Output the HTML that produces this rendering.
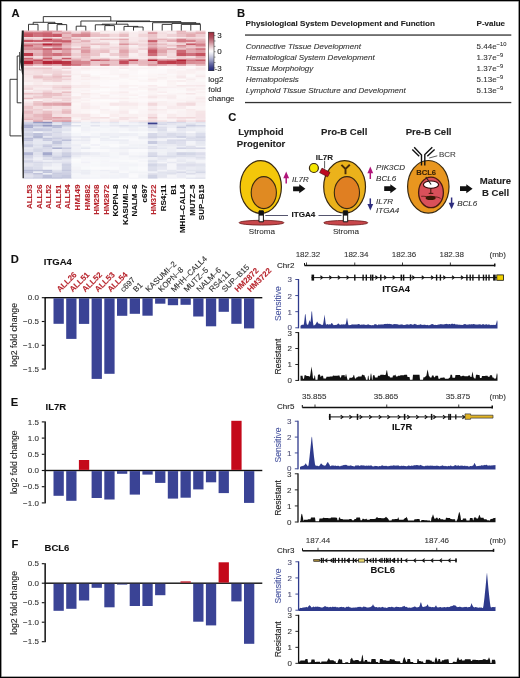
<!DOCTYPE html>
<html><head><meta charset="utf-8"><style>
html,body{margin:0;padding:0;background:#fff;}
body{width:520px;height:678px;overflow:hidden;position:relative;}
svg{position:absolute;left:0;top:0;display:block;will-change:transform;filter:blur(0.35px);}
#frame{position:absolute;left:0;top:0;width:520px;height:678px;box-sizing:border-box;border:1px solid #000;box-shadow:inset 0 0 0 0.6px #555;}
</style></head><body>
<svg width="520" height="678" viewBox="0 0 520 678" font-family='"Liberation Sans", sans-serif'>
<defs><filter id="hb" x="-2%" y="-2%" width="104%" height="104%"><feGaussianBlur stdDeviation="0.45"/></filter></defs>
<rect x="0" y="0" width="520" height="678" fill="#fff"/>
<text x="11.4" y="16.9" font-size="11.2" font-weight="bold" fill="#111" stroke="#111" stroke-width="0.1">A</text>
<g filter="url(#hb)">
<rect x="23.6" y="30.6" width="9.86" height="1.9" fill="#e3adb3"/>
<rect x="33.16" y="30.6" width="9.86" height="1.9" fill="#e5b1b7"/>
<rect x="42.72" y="30.6" width="9.86" height="1.9" fill="#dc969e"/>
<rect x="52.27" y="30.6" width="9.86" height="1.9" fill="#e0a3ab"/>
<rect x="61.83" y="30.6" width="9.86" height="1.9" fill="#edcbcf"/>
<rect x="71.39" y="30.6" width="9.86" height="1.9" fill="#f4dfe2"/>
<rect x="80.95" y="30.6" width="9.86" height="1.9" fill="#edcbcf"/>
<rect x="90.51" y="30.6" width="9.86" height="1.9" fill="#fbf5f6"/>
<rect x="100.06" y="30.6" width="9.86" height="1.9" fill="#f8eaec"/>
<rect x="109.62" y="30.6" width="9.86" height="1.9" fill="#faf2f3"/>
<rect x="119.18" y="30.6" width="9.86" height="1.9" fill="#f8ebed"/>
<rect x="128.74" y="30.6" width="9.86" height="1.9" fill="#fcf6f7"/>
<rect x="138.29" y="30.6" width="9.86" height="1.9" fill="#f7e8ea"/>
<rect x="147.85" y="30.6" width="9.86" height="1.9" fill="#f4dee0"/>
<rect x="157.41" y="30.6" width="9.86" height="1.9" fill="#f8eaec"/>
<rect x="166.97" y="30.6" width="9.86" height="1.9" fill="#f5e2e4"/>
<rect x="176.53" y="30.6" width="9.86" height="1.9" fill="#e7b7bd"/>
<rect x="186.08" y="30.6" width="9.86" height="1.9" fill="#f6e6e8"/>
<rect x="195.64" y="30.6" width="9.86" height="1.9" fill="#eeced2"/>
<rect x="23.6" y="32.2" width="9.86" height="1.9" fill="#cb6471"/>
<rect x="33.16" y="32.2" width="9.86" height="1.9" fill="#ce6c78"/>
<rect x="42.72" y="32.2" width="9.86" height="1.9" fill="#cc6773"/>
<rect x="52.27" y="32.2" width="9.86" height="1.9" fill="#e5b1b7"/>
<rect x="61.83" y="32.2" width="9.86" height="1.9" fill="#dd9ba3"/>
<rect x="71.39" y="32.2" width="9.86" height="1.9" fill="#eeced2"/>
<rect x="80.95" y="32.2" width="9.86" height="1.9" fill="#dd9aa2"/>
<rect x="90.51" y="32.2" width="9.86" height="1.9" fill="#edcace"/>
<rect x="100.06" y="32.2" width="9.86" height="1.9" fill="#f8ebec"/>
<rect x="109.62" y="32.2" width="9.86" height="1.9" fill="#f8eaec"/>
<rect x="119.18" y="32.2" width="9.86" height="1.9" fill="#f1d7da"/>
<rect x="128.74" y="32.2" width="9.86" height="1.9" fill="#f8eced"/>
<rect x="138.29" y="32.2" width="9.86" height="1.9" fill="#f6e4e6"/>
<rect x="147.85" y="32.2" width="9.86" height="1.9" fill="#db959e"/>
<rect x="157.41" y="32.2" width="9.86" height="1.9" fill="#f3dcdf"/>
<rect x="166.97" y="32.2" width="9.86" height="1.9" fill="#f7e9eb"/>
<rect x="176.53" y="32.2" width="9.86" height="1.9" fill="#e7b7bd"/>
<rect x="186.08" y="32.2" width="9.86" height="1.9" fill="#e8bcc1"/>
<rect x="195.64" y="32.2" width="9.86" height="1.9" fill="#e1a6ad"/>
<rect x="23.6" y="33.8" width="9.86" height="3.5" fill="#c65462"/>
<rect x="33.16" y="33.8" width="9.86" height="3.5" fill="#cf717d"/>
<rect x="42.72" y="33.8" width="9.86" height="3.5" fill="#ca606d"/>
<rect x="52.27" y="33.8" width="9.86" height="3.5" fill="#c75765"/>
<rect x="61.83" y="33.8" width="9.86" height="3.5" fill="#e8bbc0"/>
<rect x="71.39" y="33.8" width="9.86" height="3.5" fill="#d98e97"/>
<rect x="80.95" y="33.8" width="9.86" height="3.5" fill="#d68690"/>
<rect x="90.51" y="33.8" width="9.86" height="3.5" fill="#e9bec4"/>
<rect x="100.06" y="33.8" width="9.86" height="3.5" fill="#eac2c7"/>
<rect x="109.62" y="33.8" width="9.86" height="3.5" fill="#f2d8db"/>
<rect x="119.18" y="33.8" width="9.86" height="3.5" fill="#e8bcc1"/>
<rect x="128.74" y="33.8" width="9.86" height="3.5" fill="#f8eced"/>
<rect x="138.29" y="33.8" width="9.86" height="3.5" fill="#f1d5d8"/>
<rect x="147.85" y="33.8" width="9.86" height="3.5" fill="#ebc3c8"/>
<rect x="157.41" y="33.8" width="9.86" height="3.5" fill="#f5e1e3"/>
<rect x="166.97" y="33.8" width="9.86" height="3.5" fill="#efd1d5"/>
<rect x="176.53" y="33.8" width="9.86" height="3.5" fill="#eac1c6"/>
<rect x="186.08" y="33.8" width="9.86" height="3.5" fill="#e3abb1"/>
<rect x="195.64" y="33.8" width="9.86" height="3.5" fill="#eeccd1"/>
<rect x="23.6" y="37" width="9.86" height="1.9" fill="#f3dbde"/>
<rect x="33.16" y="37" width="9.86" height="1.9" fill="#f4dfe1"/>
<rect x="42.72" y="37" width="9.86" height="1.9" fill="#edcbd0"/>
<rect x="52.27" y="37" width="9.86" height="1.9" fill="#f6e4e6"/>
<rect x="61.83" y="37" width="9.86" height="1.9" fill="#e0a2a9"/>
<rect x="71.39" y="37" width="9.86" height="1.9" fill="#f2d8db"/>
<rect x="80.95" y="37" width="9.86" height="1.9" fill="#f7e8e9"/>
<rect x="90.51" y="37" width="9.86" height="1.9" fill="#faf1f2"/>
<rect x="100.06" y="37" width="9.86" height="1.9" fill="#f9eff0"/>
<rect x="109.62" y="37" width="9.86" height="1.9" fill="#f9eef0"/>
<rect x="119.18" y="37" width="9.86" height="1.9" fill="#f8ecee"/>
<rect x="128.74" y="37" width="9.86" height="1.9" fill="#f7e8ea"/>
<rect x="138.29" y="37" width="9.86" height="1.9" fill="#f6e5e7"/>
<rect x="147.85" y="37" width="9.86" height="1.9" fill="#edcace"/>
<rect x="157.41" y="37" width="9.86" height="1.9" fill="#f6e4e6"/>
<rect x="166.97" y="37" width="9.86" height="1.9" fill="#f9eff0"/>
<rect x="176.53" y="37" width="9.86" height="1.9" fill="#f7e7e9"/>
<rect x="186.08" y="37" width="9.86" height="1.9" fill="#f2d9dc"/>
<rect x="195.64" y="37" width="9.86" height="1.9" fill="#f3dcdf"/>
<rect x="23.6" y="38.6" width="9.86" height="1.9" fill="#e5b2b9"/>
<rect x="33.16" y="38.6" width="9.86" height="1.9" fill="#ecc8cc"/>
<rect x="42.72" y="38.6" width="9.86" height="1.9" fill="#bd3949"/>
<rect x="52.27" y="38.6" width="9.86" height="1.9" fill="#d27a85"/>
<rect x="61.83" y="38.6" width="9.86" height="1.9" fill="#e5b1b7"/>
<rect x="71.39" y="38.6" width="9.86" height="1.9" fill="#e6b4ba"/>
<rect x="80.95" y="38.6" width="9.86" height="1.9" fill="#f2dadd"/>
<rect x="90.51" y="38.6" width="9.86" height="1.9" fill="#f0d4d8"/>
<rect x="100.06" y="38.6" width="9.86" height="1.9" fill="#e9bec3"/>
<rect x="109.62" y="38.6" width="9.86" height="1.9" fill="#ebc4c8"/>
<rect x="119.18" y="38.6" width="9.86" height="1.9" fill="#e1a7ae"/>
<rect x="128.74" y="38.6" width="9.86" height="1.9" fill="#f7e7e9"/>
<rect x="138.29" y="38.6" width="9.86" height="1.9" fill="#f5e2e5"/>
<rect x="147.85" y="38.6" width="9.86" height="1.9" fill="#e7b9bf"/>
<rect x="157.41" y="38.6" width="9.86" height="1.9" fill="#e5b2b8"/>
<rect x="166.97" y="38.6" width="9.86" height="1.9" fill="#e8bcc1"/>
<rect x="176.53" y="38.6" width="9.86" height="1.9" fill="#d47e89"/>
<rect x="186.08" y="38.6" width="9.86" height="1.9" fill="#e5b2b8"/>
<rect x="195.64" y="38.6" width="9.86" height="1.9" fill="#e8bcc1"/>
<rect x="23.6" y="40.2" width="9.86" height="1.9" fill="#bc3646"/>
<rect x="33.16" y="40.2" width="9.86" height="1.9" fill="#c24a59"/>
<rect x="42.72" y="40.2" width="9.86" height="1.9" fill="#c5515f"/>
<rect x="52.27" y="40.2" width="9.86" height="1.9" fill="#c44f5d"/>
<rect x="61.83" y="40.2" width="9.86" height="1.9" fill="#c55361"/>
<rect x="71.39" y="40.2" width="9.86" height="1.9" fill="#efd0d3"/>
<rect x="80.95" y="40.2" width="9.86" height="1.9" fill="#e2aab1"/>
<rect x="90.51" y="40.2" width="9.86" height="1.9" fill="#f3dde0"/>
<rect x="100.06" y="40.2" width="9.86" height="1.9" fill="#f9edee"/>
<rect x="109.62" y="40.2" width="9.86" height="1.9" fill="#f9edee"/>
<rect x="119.18" y="40.2" width="9.86" height="1.9" fill="#edcbcf"/>
<rect x="128.74" y="40.2" width="9.86" height="1.9" fill="#f7e7e9"/>
<rect x="138.29" y="40.2" width="9.86" height="1.9" fill="#f1d6d9"/>
<rect x="147.85" y="40.2" width="9.86" height="1.9" fill="#c44e5c"/>
<rect x="157.41" y="40.2" width="9.86" height="1.9" fill="#edc9cd"/>
<rect x="166.97" y="40.2" width="9.86" height="1.9" fill="#de9ea6"/>
<rect x="176.53" y="40.2" width="9.86" height="1.9" fill="#cc6874"/>
<rect x="186.08" y="40.2" width="9.86" height="1.9" fill="#cd6b77"/>
<rect x="195.64" y="40.2" width="9.86" height="1.9" fill="#e3acb2"/>
<rect x="23.6" y="41.8" width="9.86" height="1.9" fill="#edc9ce"/>
<rect x="33.16" y="41.8" width="9.86" height="1.9" fill="#eeccd0"/>
<rect x="42.72" y="41.8" width="9.86" height="1.9" fill="#eeccd0"/>
<rect x="52.27" y="41.8" width="9.86" height="1.9" fill="#e0a4ab"/>
<rect x="61.83" y="41.8" width="9.86" height="1.9" fill="#d6848e"/>
<rect x="71.39" y="41.8" width="9.86" height="1.9" fill="#eac1c6"/>
<rect x="80.95" y="41.8" width="9.86" height="1.9" fill="#eeccd1"/>
<rect x="90.51" y="41.8" width="9.86" height="1.9" fill="#f5e1e3"/>
<rect x="100.06" y="41.8" width="9.86" height="1.9" fill="#f3dcdf"/>
<rect x="109.62" y="41.8" width="9.86" height="1.9" fill="#faf2f3"/>
<rect x="119.18" y="41.8" width="9.86" height="1.9" fill="#edcbcf"/>
<rect x="128.74" y="41.8" width="9.86" height="1.9" fill="#f4e0e2"/>
<rect x="138.29" y="41.8" width="9.86" height="1.9" fill="#f5e3e5"/>
<rect x="147.85" y="41.8" width="9.86" height="1.9" fill="#e0a2aa"/>
<rect x="157.41" y="41.8" width="9.86" height="1.9" fill="#f3dcdf"/>
<rect x="166.97" y="41.8" width="9.86" height="1.9" fill="#f6e6e8"/>
<rect x="176.53" y="41.8" width="9.86" height="1.9" fill="#e4afb5"/>
<rect x="186.08" y="41.8" width="9.86" height="1.9" fill="#efcfd3"/>
<rect x="195.64" y="41.8" width="9.86" height="1.9" fill="#e3abb2"/>
<rect x="23.6" y="43.4" width="9.86" height="1.9" fill="#d6848e"/>
<rect x="33.16" y="43.4" width="9.86" height="1.9" fill="#d5838d"/>
<rect x="42.72" y="43.4" width="9.86" height="1.9" fill="#b72739"/>
<rect x="52.27" y="43.4" width="9.86" height="1.9" fill="#c34d5b"/>
<rect x="61.83" y="43.4" width="9.86" height="1.9" fill="#e1a6ad"/>
<rect x="71.39" y="43.4" width="9.86" height="1.9" fill="#f0d4d7"/>
<rect x="80.95" y="43.4" width="9.86" height="1.9" fill="#edcace"/>
<rect x="90.51" y="43.4" width="9.86" height="1.9" fill="#e8bcc1"/>
<rect x="100.06" y="43.4" width="9.86" height="1.9" fill="#eac1c6"/>
<rect x="109.62" y="43.4" width="9.86" height="1.9" fill="#f6e5e7"/>
<rect x="119.18" y="43.4" width="9.86" height="1.9" fill="#db939c"/>
<rect x="128.74" y="43.4" width="9.86" height="1.9" fill="#ebc5ca"/>
<rect x="138.29" y="43.4" width="9.86" height="1.9" fill="#f0d3d7"/>
<rect x="147.85" y="43.4" width="9.86" height="1.9" fill="#dc97a0"/>
<rect x="157.41" y="43.4" width="9.86" height="1.9" fill="#e8bcc1"/>
<rect x="166.97" y="43.4" width="9.86" height="1.9" fill="#f1d7db"/>
<rect x="176.53" y="43.4" width="9.86" height="1.9" fill="#f0d3d6"/>
<rect x="186.08" y="43.4" width="9.86" height="1.9" fill="#c85a68"/>
<rect x="195.64" y="43.4" width="9.86" height="1.9" fill="#d47e88"/>
<rect x="23.6" y="45" width="9.86" height="1.9" fill="#ca616e"/>
<rect x="33.16" y="45" width="9.86" height="1.9" fill="#df9fa7"/>
<rect x="42.72" y="45" width="9.86" height="1.9" fill="#cc6875"/>
<rect x="52.27" y="45" width="9.86" height="1.9" fill="#ce6e7a"/>
<rect x="61.83" y="45" width="9.86" height="1.9" fill="#e7b7bd"/>
<rect x="71.39" y="45" width="9.86" height="1.9" fill="#f1d6da"/>
<rect x="80.95" y="45" width="9.86" height="1.9" fill="#eeccd0"/>
<rect x="90.51" y="45" width="9.86" height="1.9" fill="#f7e8ea"/>
<rect x="100.06" y="45" width="9.86" height="1.9" fill="#f2dadd"/>
<rect x="109.62" y="45" width="9.86" height="1.9" fill="#f7e7e9"/>
<rect x="119.18" y="45" width="9.86" height="1.9" fill="#edcbcf"/>
<rect x="128.74" y="45" width="9.86" height="1.9" fill="#f9eff1"/>
<rect x="138.29" y="45" width="9.86" height="1.9" fill="#f1d6da"/>
<rect x="147.85" y="45" width="9.86" height="1.9" fill="#e5b1b8"/>
<rect x="157.41" y="45" width="9.86" height="1.9" fill="#f0d2d6"/>
<rect x="166.97" y="45" width="9.86" height="1.9" fill="#ebc5ca"/>
<rect x="176.53" y="45" width="9.86" height="1.9" fill="#d88b94"/>
<rect x="186.08" y="45" width="9.86" height="1.9" fill="#e7b8be"/>
<rect x="195.64" y="45" width="9.86" height="1.9" fill="#d6858f"/>
<rect x="23.6" y="46.6" width="9.86" height="1.9" fill="#db959e"/>
<rect x="33.16" y="46.6" width="9.86" height="1.9" fill="#dc969e"/>
<rect x="42.72" y="46.6" width="9.86" height="1.9" fill="#f0d4d7"/>
<rect x="52.27" y="46.6" width="9.86" height="1.9" fill="#dfa0a8"/>
<rect x="61.83" y="46.6" width="9.86" height="1.9" fill="#e8bcc2"/>
<rect x="71.39" y="46.6" width="9.86" height="1.9" fill="#f7e8ea"/>
<rect x="80.95" y="46.6" width="9.86" height="1.9" fill="#e1a5ac"/>
<rect x="90.51" y="46.6" width="9.86" height="1.9" fill="#f8ebec"/>
<rect x="100.06" y="46.6" width="9.86" height="1.9" fill="#f4dfe2"/>
<rect x="109.62" y="46.6" width="9.86" height="1.9" fill="#f1d5d9"/>
<rect x="119.18" y="46.6" width="9.86" height="1.9" fill="#ebc3c8"/>
<rect x="128.74" y="46.6" width="9.86" height="1.9" fill="#f8eaeb"/>
<rect x="138.29" y="46.6" width="9.86" height="1.9" fill="#f5e3e6"/>
<rect x="147.85" y="46.6" width="9.86" height="1.9" fill="#de9da5"/>
<rect x="157.41" y="46.6" width="9.86" height="1.9" fill="#eac1c6"/>
<rect x="166.97" y="46.6" width="9.86" height="1.9" fill="#f6e4e6"/>
<rect x="176.53" y="46.6" width="9.86" height="1.9" fill="#e3adb3"/>
<rect x="186.08" y="46.6" width="9.86" height="1.9" fill="#edc9ce"/>
<rect x="195.64" y="46.6" width="9.86" height="1.9" fill="#ebc4c9"/>
<rect x="23.6" y="48.2" width="9.86" height="1.9" fill="#d5828c"/>
<rect x="33.16" y="48.2" width="9.86" height="1.9" fill="#d27a84"/>
<rect x="42.72" y="48.2" width="9.86" height="1.9" fill="#c85c69"/>
<rect x="52.27" y="48.2" width="9.86" height="1.9" fill="#c14555"/>
<rect x="61.83" y="48.2" width="9.86" height="1.9" fill="#d6858f"/>
<rect x="71.39" y="48.2" width="9.86" height="1.9" fill="#e5b1b8"/>
<rect x="80.95" y="48.2" width="9.86" height="1.9" fill="#e4aeb4"/>
<rect x="90.51" y="48.2" width="9.86" height="1.9" fill="#f1d6da"/>
<rect x="100.06" y="48.2" width="9.86" height="1.9" fill="#eeced2"/>
<rect x="109.62" y="48.2" width="9.86" height="1.9" fill="#f2d9dc"/>
<rect x="119.18" y="48.2" width="9.86" height="1.9" fill="#e7b8be"/>
<rect x="128.74" y="48.2" width="9.86" height="1.9" fill="#f4dfe2"/>
<rect x="138.29" y="48.2" width="9.86" height="1.9" fill="#eecdd1"/>
<rect x="147.85" y="48.2" width="9.86" height="1.9" fill="#d07480"/>
<rect x="157.41" y="48.2" width="9.86" height="1.9" fill="#e4aeb4"/>
<rect x="166.97" y="48.2" width="9.86" height="1.9" fill="#dfa0a8"/>
<rect x="176.53" y="48.2" width="9.86" height="1.9" fill="#e8bcc2"/>
<rect x="186.08" y="48.2" width="9.86" height="1.9" fill="#dd9ba3"/>
<rect x="195.64" y="48.2" width="9.86" height="1.9" fill="#cd6b77"/>
<rect x="23.6" y="49.8" width="9.86" height="3.5" fill="#e6b6bc"/>
<rect x="33.16" y="49.8" width="9.86" height="3.5" fill="#e7b8be"/>
<rect x="42.72" y="49.8" width="9.86" height="3.5" fill="#d68690"/>
<rect x="52.27" y="49.8" width="9.86" height="3.5" fill="#eac0c5"/>
<rect x="61.83" y="49.8" width="9.86" height="3.5" fill="#dfa1a9"/>
<rect x="71.39" y="49.8" width="9.86" height="3.5" fill="#f3dcdf"/>
<rect x="80.95" y="49.8" width="9.86" height="3.5" fill="#dd99a2"/>
<rect x="90.51" y="49.8" width="9.86" height="3.5" fill="#ecc7cc"/>
<rect x="100.06" y="49.8" width="9.86" height="3.5" fill="#eac1c6"/>
<rect x="109.62" y="49.8" width="9.86" height="3.5" fill="#f6e6e8"/>
<rect x="119.18" y="49.8" width="9.86" height="3.5" fill="#e1a5ac"/>
<rect x="128.74" y="49.8" width="9.86" height="3.5" fill="#f1d6da"/>
<rect x="138.29" y="49.8" width="9.86" height="3.5" fill="#f8ebed"/>
<rect x="147.85" y="49.8" width="9.86" height="3.5" fill="#c65563"/>
<rect x="157.41" y="49.8" width="9.86" height="3.5" fill="#e0a4ab"/>
<rect x="166.97" y="49.8" width="9.86" height="3.5" fill="#f0d4d7"/>
<rect x="176.53" y="49.8" width="9.86" height="3.5" fill="#cd6975"/>
<rect x="186.08" y="49.8" width="9.86" height="3.5" fill="#e2a9b0"/>
<rect x="195.64" y="49.8" width="9.86" height="3.5" fill="#dd9ba3"/>
<rect x="23.6" y="53" width="9.86" height="3.5" fill="#bd3949"/>
<rect x="33.16" y="53" width="9.86" height="3.5" fill="#e2aab1"/>
<rect x="42.72" y="53" width="9.86" height="3.5" fill="#d37d87"/>
<rect x="52.27" y="53" width="9.86" height="3.5" fill="#ce6e7a"/>
<rect x="61.83" y="53" width="9.86" height="3.5" fill="#d78790"/>
<rect x="71.39" y="53" width="9.86" height="3.5" fill="#eecdd1"/>
<rect x="80.95" y="53" width="9.86" height="3.5" fill="#e7b7bc"/>
<rect x="90.51" y="53" width="9.86" height="3.5" fill="#ebc5ca"/>
<rect x="100.06" y="53" width="9.86" height="3.5" fill="#f8ebed"/>
<rect x="109.62" y="53" width="9.86" height="3.5" fill="#eeced2"/>
<rect x="119.18" y="53" width="9.86" height="3.5" fill="#e6b6bc"/>
<rect x="128.74" y="53" width="9.86" height="3.5" fill="#f9eff0"/>
<rect x="138.29" y="53" width="9.86" height="3.5" fill="#f5e1e4"/>
<rect x="147.85" y="53" width="9.86" height="3.5" fill="#ce6c78"/>
<rect x="157.41" y="53" width="9.86" height="3.5" fill="#e9bec3"/>
<rect x="166.97" y="53" width="9.86" height="3.5" fill="#f3dde0"/>
<rect x="176.53" y="53" width="9.86" height="3.5" fill="#c75764"/>
<rect x="186.08" y="53" width="9.86" height="3.5" fill="#cf707b"/>
<rect x="195.64" y="53" width="9.86" height="3.5" fill="#c55260"/>
<rect x="23.6" y="56.2" width="9.86" height="1.9" fill="#eecdd1"/>
<rect x="33.16" y="56.2" width="9.86" height="1.9" fill="#f4dfe2"/>
<rect x="42.72" y="56.2" width="9.86" height="1.9" fill="#e0a2a9"/>
<rect x="52.27" y="56.2" width="9.86" height="1.9" fill="#eeccd0"/>
<rect x="61.83" y="56.2" width="9.86" height="1.9" fill="#f1d6d9"/>
<rect x="71.39" y="56.2" width="9.86" height="1.9" fill="#f3dcdf"/>
<rect x="80.95" y="56.2" width="9.86" height="1.9" fill="#e8bbc1"/>
<rect x="90.51" y="56.2" width="9.86" height="1.9" fill="#f4e0e2"/>
<rect x="100.06" y="56.2" width="9.86" height="1.9" fill="#f9eff0"/>
<rect x="109.62" y="56.2" width="9.86" height="1.9" fill="#faf2f3"/>
<rect x="119.18" y="56.2" width="9.86" height="1.9" fill="#ebc5ca"/>
<rect x="128.74" y="56.2" width="9.86" height="1.9" fill="#f8ebed"/>
<rect x="138.29" y="56.2" width="9.86" height="1.9" fill="#f7e8ea"/>
<rect x="147.85" y="56.2" width="9.86" height="1.9" fill="#f4dfe1"/>
<rect x="157.41" y="56.2" width="9.86" height="1.9" fill="#faf0f1"/>
<rect x="166.97" y="56.2" width="9.86" height="1.9" fill="#f0d4d7"/>
<rect x="176.53" y="56.2" width="9.86" height="1.9" fill="#efcfd3"/>
<rect x="186.08" y="56.2" width="9.86" height="1.9" fill="#f6e5e7"/>
<rect x="195.64" y="56.2" width="9.86" height="1.9" fill="#e3acb3"/>
<rect x="23.6" y="57.8" width="9.86" height="1.9" fill="#cb6572"/>
<rect x="33.16" y="57.8" width="9.86" height="1.9" fill="#ecc6cb"/>
<rect x="42.72" y="57.8" width="9.86" height="1.9" fill="#c95e6b"/>
<rect x="52.27" y="57.8" width="9.86" height="1.9" fill="#ecc8cd"/>
<rect x="61.83" y="57.8" width="9.86" height="1.9" fill="#c65563"/>
<rect x="71.39" y="57.8" width="9.86" height="1.9" fill="#ebc4c9"/>
<rect x="80.95" y="57.8" width="9.86" height="1.9" fill="#ebc3c8"/>
<rect x="90.51" y="57.8" width="9.86" height="1.9" fill="#f2d8db"/>
<rect x="100.06" y="57.8" width="9.86" height="1.9" fill="#ecc8cd"/>
<rect x="109.62" y="57.8" width="9.86" height="1.9" fill="#f6e5e7"/>
<rect x="119.18" y="57.8" width="9.86" height="1.9" fill="#f3dcdf"/>
<rect x="128.74" y="57.8" width="9.86" height="1.9" fill="#f4e0e3"/>
<rect x="138.29" y="57.8" width="9.86" height="1.9" fill="#f8eaec"/>
<rect x="147.85" y="57.8" width="9.86" height="1.9" fill="#edc9cd"/>
<rect x="157.41" y="57.8" width="9.86" height="1.9" fill="#f4e0e3"/>
<rect x="166.97" y="57.8" width="9.86" height="1.9" fill="#f6e5e7"/>
<rect x="176.53" y="57.8" width="9.86" height="1.9" fill="#ecc8cd"/>
<rect x="186.08" y="57.8" width="9.86" height="1.9" fill="#e9bdc2"/>
<rect x="195.64" y="57.8" width="9.86" height="1.9" fill="#e8bbc1"/>
<rect x="23.6" y="59.4" width="9.86" height="1.9" fill="#d27984"/>
<rect x="33.16" y="59.4" width="9.86" height="1.9" fill="#c34c5b"/>
<rect x="42.72" y="59.4" width="9.86" height="1.9" fill="#da919a"/>
<rect x="52.27" y="59.4" width="9.86" height="1.9" fill="#ce6d79"/>
<rect x="61.83" y="59.4" width="9.86" height="1.9" fill="#e5b2b8"/>
<rect x="71.39" y="59.4" width="9.86" height="1.9" fill="#dc98a0"/>
<rect x="80.95" y="59.4" width="9.86" height="1.9" fill="#e9bec4"/>
<rect x="90.51" y="59.4" width="9.86" height="1.9" fill="#c75866"/>
<rect x="100.06" y="59.4" width="9.86" height="1.9" fill="#d17580"/>
<rect x="109.62" y="59.4" width="9.86" height="1.9" fill="#e3adb4"/>
<rect x="119.18" y="59.4" width="9.86" height="1.9" fill="#cf717c"/>
<rect x="128.74" y="59.4" width="9.86" height="1.9" fill="#bf3f4f"/>
<rect x="138.29" y="59.4" width="9.86" height="1.9" fill="#e8bcc2"/>
<rect x="147.85" y="59.4" width="9.86" height="1.9" fill="#b52335"/>
<rect x="157.41" y="59.4" width="9.86" height="1.9" fill="#d47f89"/>
<rect x="166.97" y="59.4" width="9.86" height="1.9" fill="#cf717c"/>
<rect x="176.53" y="59.4" width="9.86" height="1.9" fill="#b52335"/>
<rect x="186.08" y="59.4" width="9.86" height="1.9" fill="#d0727e"/>
<rect x="195.64" y="59.4" width="9.86" height="1.9" fill="#c85a68"/>
<rect x="23.6" y="61" width="9.86" height="3.5" fill="#b52335"/>
<rect x="33.16" y="61" width="9.86" height="3.5" fill="#d17580"/>
<rect x="42.72" y="61" width="9.86" height="3.5" fill="#b52335"/>
<rect x="52.27" y="61" width="9.86" height="3.5" fill="#b82a3c"/>
<rect x="61.83" y="61" width="9.86" height="3.5" fill="#bb3545"/>
<rect x="71.39" y="61" width="9.86" height="3.5" fill="#d5838d"/>
<rect x="80.95" y="61" width="9.86" height="3.5" fill="#d78791"/>
<rect x="90.51" y="61" width="9.86" height="3.5" fill="#ebc5ca"/>
<rect x="100.06" y="61" width="9.86" height="3.5" fill="#e8babf"/>
<rect x="109.62" y="61" width="9.86" height="3.5" fill="#eac2c7"/>
<rect x="119.18" y="61" width="9.86" height="3.5" fill="#c34b5a"/>
<rect x="128.74" y="61" width="9.86" height="3.5" fill="#e2aab1"/>
<rect x="138.29" y="61" width="9.86" height="3.5" fill="#e7b7bd"/>
<rect x="147.85" y="61" width="9.86" height="3.5" fill="#e3adb3"/>
<rect x="157.41" y="61" width="9.86" height="3.5" fill="#c04453"/>
<rect x="166.97" y="61" width="9.86" height="3.5" fill="#bd3a4a"/>
<rect x="176.53" y="61" width="9.86" height="3.5" fill="#c14655"/>
<rect x="186.08" y="61" width="9.86" height="3.5" fill="#d98e97"/>
<rect x="195.64" y="61" width="9.86" height="3.5" fill="#db939c"/>
<rect x="23.6" y="64.2" width="9.86" height="1.9" fill="#d78993"/>
<rect x="33.16" y="64.2" width="9.86" height="1.9" fill="#e6b6bc"/>
<rect x="42.72" y="64.2" width="9.86" height="1.9" fill="#d88b95"/>
<rect x="52.27" y="64.2" width="9.86" height="1.9" fill="#e1a6ad"/>
<rect x="61.83" y="64.2" width="9.86" height="1.9" fill="#bd3b4b"/>
<rect x="71.39" y="64.2" width="9.86" height="1.9" fill="#ca606d"/>
<rect x="80.95" y="64.2" width="9.86" height="1.9" fill="#d98e98"/>
<rect x="90.51" y="64.2" width="9.86" height="1.9" fill="#eac0c5"/>
<rect x="100.06" y="64.2" width="9.86" height="1.9" fill="#d0737e"/>
<rect x="109.62" y="64.2" width="9.86" height="1.9" fill="#e7b9bf"/>
<rect x="119.18" y="64.2" width="9.86" height="1.9" fill="#e3abb2"/>
<rect x="128.74" y="64.2" width="9.86" height="1.9" fill="#f3dcdf"/>
<rect x="138.29" y="64.2" width="9.86" height="1.9" fill="#e6b4ba"/>
<rect x="147.85" y="64.2" width="9.86" height="1.9" fill="#d88c95"/>
<rect x="157.41" y="64.2" width="9.86" height="1.9" fill="#de9ea6"/>
<rect x="166.97" y="64.2" width="9.86" height="1.9" fill="#e9bfc4"/>
<rect x="176.53" y="64.2" width="9.86" height="1.9" fill="#d98f98"/>
<rect x="186.08" y="64.2" width="9.86" height="1.9" fill="#efd1d5"/>
<rect x="195.64" y="64.2" width="9.86" height="1.9" fill="#e4aeb4"/>
<rect x="23.6" y="65.8" width="9.86" height="1.9" fill="#f8ebed"/>
<rect x="33.16" y="65.8" width="9.86" height="1.9" fill="#fbf5f6"/>
<rect x="42.72" y="65.8" width="9.86" height="1.9" fill="#fbf5f6"/>
<rect x="52.27" y="65.8" width="9.86" height="1.9" fill="#f9eeef"/>
<rect x="61.83" y="65.8" width="9.86" height="1.9" fill="#f9eff1"/>
<rect x="71.39" y="65.8" width="9.86" height="1.9" fill="#fcf7f8"/>
<rect x="80.95" y="65.8" width="9.86" height="1.9" fill="#fcf7f8"/>
<rect x="90.51" y="65.8" width="9.86" height="1.9" fill="#fcf8f9"/>
<rect x="100.06" y="65.8" width="9.86" height="1.9" fill="#fdf9f9"/>
<rect x="109.62" y="65.8" width="9.86" height="1.9" fill="#fcf8f9"/>
<rect x="119.18" y="65.8" width="9.86" height="1.9" fill="#fbf5f6"/>
<rect x="128.74" y="65.8" width="9.86" height="1.9" fill="#fdfbfb"/>
<rect x="138.29" y="65.8" width="9.86" height="1.9" fill="#fdfbfb"/>
<rect x="147.85" y="65.8" width="9.86" height="1.9" fill="#faf0f1"/>
<rect x="157.41" y="65.8" width="9.86" height="1.9" fill="#fdfbfb"/>
<rect x="166.97" y="65.8" width="9.86" height="1.9" fill="#fcf7f7"/>
<rect x="176.53" y="65.8" width="9.86" height="1.9" fill="#fbf5f6"/>
<rect x="186.08" y="65.8" width="9.86" height="1.9" fill="#fdfbfb"/>
<rect x="195.64" y="65.8" width="9.86" height="1.9" fill="#fbf3f4"/>
<rect x="23.6" y="67.4" width="9.86" height="1.9" fill="#eeced2"/>
<rect x="33.16" y="67.4" width="9.86" height="1.9" fill="#ecc8cd"/>
<rect x="42.72" y="67.4" width="9.86" height="1.9" fill="#ebc4c9"/>
<rect x="52.27" y="67.4" width="9.86" height="1.9" fill="#f6e6e8"/>
<rect x="61.83" y="67.4" width="9.86" height="1.9" fill="#efd1d5"/>
<rect x="71.39" y="67.4" width="9.86" height="1.9" fill="#faf2f3"/>
<rect x="80.95" y="67.4" width="9.86" height="1.9" fill="#f8eaec"/>
<rect x="90.51" y="67.4" width="9.86" height="1.9" fill="#faf1f2"/>
<rect x="100.06" y="67.4" width="9.86" height="1.9" fill="#faf1f2"/>
<rect x="109.62" y="67.4" width="9.86" height="1.9" fill="#fbf4f5"/>
<rect x="119.18" y="67.4" width="9.86" height="1.9" fill="#f8ebed"/>
<rect x="128.74" y="67.4" width="9.86" height="1.9" fill="#fbf4f4"/>
<rect x="138.29" y="67.4" width="9.86" height="1.9" fill="#fbf3f4"/>
<rect x="147.85" y="67.4" width="9.86" height="1.9" fill="#fbf3f4"/>
<rect x="157.41" y="67.4" width="9.86" height="1.9" fill="#fdf9fa"/>
<rect x="166.97" y="67.4" width="9.86" height="1.9" fill="#fcf8f8"/>
<rect x="176.53" y="67.4" width="9.86" height="1.9" fill="#faf1f3"/>
<rect x="186.08" y="67.4" width="9.86" height="1.9" fill="#fcf6f7"/>
<rect x="195.64" y="67.4" width="9.86" height="1.9" fill="#f7e8ea"/>
<rect x="23.6" y="69" width="9.86" height="1.9" fill="#f1d7db"/>
<rect x="33.16" y="69" width="9.86" height="1.9" fill="#f2d8db"/>
<rect x="42.72" y="69" width="9.86" height="1.9" fill="#f1d5d9"/>
<rect x="52.27" y="69" width="9.86" height="1.9" fill="#f3dde0"/>
<rect x="61.83" y="69" width="9.86" height="1.9" fill="#faf0f2"/>
<rect x="71.39" y="69" width="9.86" height="1.9" fill="#faf1f2"/>
<rect x="80.95" y="69" width="9.86" height="1.9" fill="#faf0f1"/>
<rect x="90.51" y="69" width="9.86" height="1.9" fill="#fcf7f7"/>
<rect x="100.06" y="69" width="9.86" height="1.9" fill="#fcf6f7"/>
<rect x="109.62" y="69" width="9.86" height="1.9" fill="#fbf5f6"/>
<rect x="119.18" y="69" width="9.86" height="1.9" fill="#fdfafa"/>
<rect x="128.74" y="69" width="9.86" height="1.9" fill="#fbf5f6"/>
<rect x="138.29" y="69" width="9.86" height="1.9" fill="#fdf9fa"/>
<rect x="147.85" y="69" width="9.86" height="1.9" fill="#fcf8f8"/>
<rect x="157.41" y="69" width="9.86" height="1.9" fill="#fcf8f8"/>
<rect x="166.97" y="69" width="9.86" height="1.9" fill="#faf2f3"/>
<rect x="176.53" y="69" width="9.86" height="1.9" fill="#fcf6f7"/>
<rect x="186.08" y="69" width="9.86" height="1.9" fill="#f9eef0"/>
<rect x="195.64" y="69" width="9.86" height="1.9" fill="#f8eaec"/>
<rect x="23.6" y="70.6" width="9.86" height="3.5" fill="#f5e3e5"/>
<rect x="33.16" y="70.6" width="9.86" height="3.5" fill="#f4dfe2"/>
<rect x="42.72" y="70.6" width="9.86" height="3.5" fill="#f1d7da"/>
<rect x="52.27" y="70.6" width="9.86" height="3.5" fill="#f0d4d8"/>
<rect x="61.83" y="70.6" width="9.86" height="3.5" fill="#f2d9dc"/>
<rect x="71.39" y="70.6" width="9.86" height="3.5" fill="#fbf3f4"/>
<rect x="80.95" y="70.6" width="9.86" height="3.5" fill="#fdf9fa"/>
<rect x="90.51" y="70.6" width="9.86" height="3.5" fill="#fdfafb"/>
<rect x="100.06" y="70.6" width="9.86" height="3.5" fill="#fdf9fa"/>
<rect x="109.62" y="70.6" width="9.86" height="3.5" fill="#fbf5f6"/>
<rect x="119.18" y="70.6" width="9.86" height="3.5" fill="#fcf7f8"/>
<rect x="128.74" y="70.6" width="9.86" height="3.5" fill="#fcf7f8"/>
<rect x="138.29" y="70.6" width="9.86" height="3.5" fill="#fefcfc"/>
<rect x="147.85" y="70.6" width="9.86" height="3.5" fill="#fcf8f9"/>
<rect x="157.41" y="70.6" width="9.86" height="3.5" fill="#fcf8f9"/>
<rect x="166.97" y="70.6" width="9.86" height="3.5" fill="#fbf3f4"/>
<rect x="176.53" y="70.6" width="9.86" height="3.5" fill="#faf0f1"/>
<rect x="186.08" y="70.6" width="9.86" height="3.5" fill="#faf0f1"/>
<rect x="195.64" y="70.6" width="9.86" height="3.5" fill="#fbf5f6"/>
<rect x="23.6" y="73.8" width="9.86" height="1.9" fill="#f4dfe2"/>
<rect x="33.16" y="73.8" width="9.86" height="1.9" fill="#f4dfe2"/>
<rect x="42.72" y="73.8" width="9.86" height="1.9" fill="#f9edee"/>
<rect x="52.27" y="73.8" width="9.86" height="1.9" fill="#eeced2"/>
<rect x="61.83" y="73.8" width="9.86" height="1.9" fill="#f7e9eb"/>
<rect x="71.39" y="73.8" width="9.86" height="1.9" fill="#f9eff0"/>
<rect x="80.95" y="73.8" width="9.86" height="1.9" fill="#f9eeef"/>
<rect x="90.51" y="73.8" width="9.86" height="1.9" fill="#fdfbfc"/>
<rect x="100.06" y="73.8" width="9.86" height="1.9" fill="#fcf7f8"/>
<rect x="109.62" y="73.8" width="9.86" height="1.9" fill="#fbf4f5"/>
<rect x="119.18" y="73.8" width="9.86" height="1.9" fill="#f9eff0"/>
<rect x="128.74" y="73.8" width="9.86" height="1.9" fill="#fcf8f9"/>
<rect x="138.29" y="73.8" width="9.86" height="1.9" fill="#fdfafa"/>
<rect x="147.85" y="73.8" width="9.86" height="1.9" fill="#fcf6f6"/>
<rect x="157.41" y="73.8" width="9.86" height="1.9" fill="#faf1f2"/>
<rect x="166.97" y="73.8" width="9.86" height="1.9" fill="#fcf8f9"/>
<rect x="176.53" y="73.8" width="9.86" height="1.9" fill="#faf1f2"/>
<rect x="186.08" y="73.8" width="9.86" height="1.9" fill="#fcf8f8"/>
<rect x="195.64" y="73.8" width="9.86" height="1.9" fill="#faf2f3"/>
<rect x="23.6" y="75.4" width="9.86" height="1.9" fill="#f6e6e8"/>
<rect x="33.16" y="75.4" width="9.86" height="1.9" fill="#eac2c7"/>
<rect x="42.72" y="75.4" width="9.86" height="1.9" fill="#f0d2d6"/>
<rect x="52.27" y="75.4" width="9.86" height="1.9" fill="#e9bec3"/>
<rect x="61.83" y="75.4" width="9.86" height="1.9" fill="#ecc6cb"/>
<rect x="71.39" y="75.4" width="9.86" height="1.9" fill="#fbf5f6"/>
<rect x="80.95" y="75.4" width="9.86" height="1.9" fill="#f7e9ea"/>
<rect x="90.51" y="75.4" width="9.86" height="1.9" fill="#fbf5f5"/>
<rect x="100.06" y="75.4" width="9.86" height="1.9" fill="#fdfafa"/>
<rect x="109.62" y="75.4" width="9.86" height="1.9" fill="#fdfafb"/>
<rect x="119.18" y="75.4" width="9.86" height="1.9" fill="#faf1f2"/>
<rect x="128.74" y="75.4" width="9.86" height="1.9" fill="#fcf6f6"/>
<rect x="138.29" y="75.4" width="9.86" height="1.9" fill="#fcf7f8"/>
<rect x="147.85" y="75.4" width="9.86" height="1.9" fill="#fbf4f5"/>
<rect x="157.41" y="75.4" width="9.86" height="1.9" fill="#fbf5f6"/>
<rect x="166.97" y="75.4" width="9.86" height="1.9" fill="#fbf5f5"/>
<rect x="176.53" y="75.4" width="9.86" height="1.9" fill="#f7e8ea"/>
<rect x="186.08" y="75.4" width="9.86" height="1.9" fill="#fcf8f9"/>
<rect x="195.64" y="75.4" width="9.86" height="1.9" fill="#f7e9eb"/>
<rect x="23.6" y="77" width="9.86" height="1.9" fill="#f7e8ea"/>
<rect x="33.16" y="77" width="9.86" height="1.9" fill="#eac0c5"/>
<rect x="42.72" y="77" width="9.86" height="1.9" fill="#edcbcf"/>
<rect x="52.27" y="77" width="9.86" height="1.9" fill="#eac2c7"/>
<rect x="61.83" y="77" width="9.86" height="1.9" fill="#f4dfe1"/>
<rect x="71.39" y="77" width="9.86" height="1.9" fill="#fbf4f5"/>
<rect x="80.95" y="77" width="9.86" height="1.9" fill="#faf2f3"/>
<rect x="90.51" y="77" width="9.86" height="1.9" fill="#f9eff1"/>
<rect x="100.06" y="77" width="9.86" height="1.9" fill="#fbf4f5"/>
<rect x="109.62" y="77" width="9.86" height="1.9" fill="#fcf7f7"/>
<rect x="119.18" y="77" width="9.86" height="1.9" fill="#fbf3f4"/>
<rect x="128.74" y="77" width="9.86" height="1.9" fill="#fcf8f9"/>
<rect x="138.29" y="77" width="9.86" height="1.9" fill="#fdfbfb"/>
<rect x="147.85" y="77" width="9.86" height="1.9" fill="#fcf6f6"/>
<rect x="157.41" y="77" width="9.86" height="1.9" fill="#f9eff0"/>
<rect x="166.97" y="77" width="9.86" height="1.9" fill="#fcf6f6"/>
<rect x="176.53" y="77" width="9.86" height="1.9" fill="#f7e7e9"/>
<rect x="186.08" y="77" width="9.86" height="1.9" fill="#fbf4f5"/>
<rect x="195.64" y="77" width="9.86" height="1.9" fill="#fbf3f4"/>
<rect x="23.6" y="78.6" width="9.86" height="1.9" fill="#f8eaec"/>
<rect x="33.16" y="78.6" width="9.86" height="1.9" fill="#f5e3e5"/>
<rect x="42.72" y="78.6" width="9.86" height="1.9" fill="#eeccd0"/>
<rect x="52.27" y="78.6" width="9.86" height="1.9" fill="#efcfd3"/>
<rect x="61.83" y="78.6" width="9.86" height="1.9" fill="#efd0d4"/>
<rect x="71.39" y="78.6" width="9.86" height="1.9" fill="#fbf3f4"/>
<rect x="80.95" y="78.6" width="9.86" height="1.9" fill="#f9eeef"/>
<rect x="90.51" y="78.6" width="9.86" height="1.9" fill="#fbf3f4"/>
<rect x="100.06" y="78.6" width="9.86" height="1.9" fill="#fcf7f7"/>
<rect x="109.62" y="78.6" width="9.86" height="1.9" fill="#fbf5f6"/>
<rect x="119.18" y="78.6" width="9.86" height="1.9" fill="#fdfafa"/>
<rect x="128.74" y="78.6" width="9.86" height="1.9" fill="#fcf6f6"/>
<rect x="138.29" y="78.6" width="9.86" height="1.9" fill="#fcf8f9"/>
<rect x="147.85" y="78.6" width="9.86" height="1.9" fill="#f9edee"/>
<rect x="157.41" y="78.6" width="9.86" height="1.9" fill="#fbf4f5"/>
<rect x="166.97" y="78.6" width="9.86" height="1.9" fill="#fcf8f8"/>
<rect x="176.53" y="78.6" width="9.86" height="1.9" fill="#fdf9f9"/>
<rect x="186.08" y="78.6" width="9.86" height="1.9" fill="#f8ecee"/>
<rect x="195.64" y="78.6" width="9.86" height="1.9" fill="#fcf8f8"/>
<rect x="23.6" y="80.2" width="9.86" height="1.9" fill="#f6e5e7"/>
<rect x="33.16" y="80.2" width="9.86" height="1.9" fill="#f7e7e9"/>
<rect x="42.72" y="80.2" width="9.86" height="1.9" fill="#f1d6d9"/>
<rect x="52.27" y="80.2" width="9.86" height="1.9" fill="#eecdd1"/>
<rect x="61.83" y="80.2" width="9.86" height="1.9" fill="#f7e7e9"/>
<rect x="71.39" y="80.2" width="9.86" height="1.9" fill="#fbf3f4"/>
<rect x="80.95" y="80.2" width="9.86" height="1.9" fill="#fcf6f7"/>
<rect x="90.51" y="80.2" width="9.86" height="1.9" fill="#fcf7f7"/>
<rect x="100.06" y="80.2" width="9.86" height="1.9" fill="#fcf8f9"/>
<rect x="109.62" y="80.2" width="9.86" height="1.9" fill="#fdfafa"/>
<rect x="119.18" y="80.2" width="9.86" height="1.9" fill="#fdf9f9"/>
<rect x="128.74" y="80.2" width="9.86" height="1.9" fill="#fdfafb"/>
<rect x="138.29" y="80.2" width="9.86" height="1.9" fill="#fbf5f5"/>
<rect x="147.85" y="80.2" width="9.86" height="1.9" fill="#faf1f2"/>
<rect x="157.41" y="80.2" width="9.86" height="1.9" fill="#fdf9f9"/>
<rect x="166.97" y="80.2" width="9.86" height="1.9" fill="#faf1f2"/>
<rect x="176.53" y="80.2" width="9.86" height="1.9" fill="#f8eced"/>
<rect x="186.08" y="80.2" width="9.86" height="1.9" fill="#fbf4f4"/>
<rect x="195.64" y="80.2" width="9.86" height="1.9" fill="#fcf8f8"/>
<rect x="23.6" y="81.8" width="9.86" height="3.5" fill="#faf2f3"/>
<rect x="33.16" y="81.8" width="9.86" height="3.5" fill="#f8ebec"/>
<rect x="42.72" y="81.8" width="9.86" height="3.5" fill="#faf2f3"/>
<rect x="52.27" y="81.8" width="9.86" height="3.5" fill="#f9eeef"/>
<rect x="61.83" y="81.8" width="9.86" height="3.5" fill="#f9edee"/>
<rect x="71.39" y="81.8" width="9.86" height="3.5" fill="#fcf6f7"/>
<rect x="80.95" y="81.8" width="9.86" height="3.5" fill="#fbf3f3"/>
<rect x="90.51" y="81.8" width="9.86" height="3.5" fill="#fcf7f8"/>
<rect x="100.06" y="81.8" width="9.86" height="3.5" fill="#fdf9fa"/>
<rect x="109.62" y="81.8" width="9.86" height="3.5" fill="#fdf9fa"/>
<rect x="119.18" y="81.8" width="9.86" height="3.5" fill="#fcf7f8"/>
<rect x="128.74" y="81.8" width="9.86" height="3.5" fill="#fdfafa"/>
<rect x="138.29" y="81.8" width="9.86" height="3.5" fill="#fdfafb"/>
<rect x="147.85" y="81.8" width="9.86" height="3.5" fill="#fdfafa"/>
<rect x="157.41" y="81.8" width="9.86" height="3.5" fill="#fdfafa"/>
<rect x="166.97" y="81.8" width="9.86" height="3.5" fill="#fbf4f4"/>
<rect x="176.53" y="81.8" width="9.86" height="3.5" fill="#fdfafa"/>
<rect x="186.08" y="81.8" width="9.86" height="3.5" fill="#fbf5f6"/>
<rect x="195.64" y="81.8" width="9.86" height="3.5" fill="#fbf4f5"/>
<rect x="23.6" y="85" width="9.86" height="1.9" fill="#f5e3e5"/>
<rect x="33.16" y="85" width="9.86" height="1.9" fill="#f4e0e3"/>
<rect x="42.72" y="85" width="9.86" height="1.9" fill="#f5e1e4"/>
<rect x="52.27" y="85" width="9.86" height="1.9" fill="#f2dadd"/>
<rect x="61.83" y="85" width="9.86" height="1.9" fill="#f1d6da"/>
<rect x="71.39" y="85" width="9.86" height="1.9" fill="#f8ebed"/>
<rect x="80.95" y="85" width="9.86" height="1.9" fill="#f8ebec"/>
<rect x="90.51" y="85" width="9.86" height="1.9" fill="#faf1f2"/>
<rect x="100.06" y="85" width="9.86" height="1.9" fill="#fdfafb"/>
<rect x="109.62" y="85" width="9.86" height="1.9" fill="#fdfafb"/>
<rect x="119.18" y="85" width="9.86" height="1.9" fill="#f9eff0"/>
<rect x="128.74" y="85" width="9.86" height="1.9" fill="#faf2f3"/>
<rect x="138.29" y="85" width="9.86" height="1.9" fill="#fcf6f7"/>
<rect x="147.85" y="85" width="9.86" height="1.9" fill="#f8ebed"/>
<rect x="157.41" y="85" width="9.86" height="1.9" fill="#fdfafa"/>
<rect x="166.97" y="85" width="9.86" height="1.9" fill="#fbf4f5"/>
<rect x="176.53" y="85" width="9.86" height="1.9" fill="#f7e7e9"/>
<rect x="186.08" y="85" width="9.86" height="1.9" fill="#f7e9eb"/>
<rect x="195.64" y="85" width="9.86" height="1.9" fill="#f7e8ea"/>
<rect x="23.6" y="86.6" width="9.86" height="1.9" fill="#f4dfe2"/>
<rect x="33.16" y="86.6" width="9.86" height="1.9" fill="#f7e7e9"/>
<rect x="42.72" y="86.6" width="9.86" height="1.9" fill="#f6e4e7"/>
<rect x="52.27" y="86.6" width="9.86" height="1.9" fill="#efd1d5"/>
<rect x="61.83" y="86.6" width="9.86" height="1.9" fill="#ecc6cb"/>
<rect x="71.39" y="86.6" width="9.86" height="1.9" fill="#f8eaeb"/>
<rect x="80.95" y="86.6" width="9.86" height="1.9" fill="#f8eced"/>
<rect x="90.51" y="86.6" width="9.86" height="1.9" fill="#faf2f3"/>
<rect x="100.06" y="86.6" width="9.86" height="1.9" fill="#faf1f2"/>
<rect x="109.62" y="86.6" width="9.86" height="1.9" fill="#fbf5f6"/>
<rect x="119.18" y="86.6" width="9.86" height="1.9" fill="#faf0f1"/>
<rect x="128.74" y="86.6" width="9.86" height="1.9" fill="#fdfafb"/>
<rect x="138.29" y="86.6" width="9.86" height="1.9" fill="#faf2f3"/>
<rect x="147.85" y="86.6" width="9.86" height="1.9" fill="#faf2f3"/>
<rect x="157.41" y="86.6" width="9.86" height="1.9" fill="#f8ecee"/>
<rect x="166.97" y="86.6" width="9.86" height="1.9" fill="#f9eff1"/>
<rect x="176.53" y="86.6" width="9.86" height="1.9" fill="#faf2f3"/>
<rect x="186.08" y="86.6" width="9.86" height="1.9" fill="#fbf5f6"/>
<rect x="195.64" y="86.6" width="9.86" height="1.9" fill="#fbf3f4"/>
<rect x="23.6" y="88.2" width="9.86" height="1.9" fill="#f0d2d6"/>
<rect x="33.16" y="88.2" width="9.86" height="1.9" fill="#f8ebed"/>
<rect x="42.72" y="88.2" width="9.86" height="1.9" fill="#f9edef"/>
<rect x="52.27" y="88.2" width="9.86" height="1.9" fill="#f2dadd"/>
<rect x="61.83" y="88.2" width="9.86" height="1.9" fill="#f1d6d9"/>
<rect x="71.39" y="88.2" width="9.86" height="1.9" fill="#fbf5f6"/>
<rect x="80.95" y="88.2" width="9.86" height="1.9" fill="#fcf6f7"/>
<rect x="90.51" y="88.2" width="9.86" height="1.9" fill="#fbf5f6"/>
<rect x="100.06" y="88.2" width="9.86" height="1.9" fill="#fdfbfb"/>
<rect x="109.62" y="88.2" width="9.86" height="1.9" fill="#fcf8f9"/>
<rect x="119.18" y="88.2" width="9.86" height="1.9" fill="#fbf4f5"/>
<rect x="128.74" y="88.2" width="9.86" height="1.9" fill="#fbf3f4"/>
<rect x="138.29" y="88.2" width="9.86" height="1.9" fill="#fcf6f6"/>
<rect x="147.85" y="88.2" width="9.86" height="1.9" fill="#f7e9eb"/>
<rect x="157.41" y="88.2" width="9.86" height="1.9" fill="#fbf5f6"/>
<rect x="166.97" y="88.2" width="9.86" height="1.9" fill="#fcf7f8"/>
<rect x="176.53" y="88.2" width="9.86" height="1.9" fill="#fbf5f6"/>
<rect x="186.08" y="88.2" width="9.86" height="1.9" fill="#f8eaec"/>
<rect x="195.64" y="88.2" width="9.86" height="1.9" fill="#f9eeef"/>
<rect x="23.6" y="89.8" width="9.86" height="1.9" fill="#fbf3f4"/>
<rect x="33.16" y="89.8" width="9.86" height="1.9" fill="#f5e3e5"/>
<rect x="42.72" y="89.8" width="9.86" height="1.9" fill="#f3dde0"/>
<rect x="52.27" y="89.8" width="9.86" height="1.9" fill="#f6e6e8"/>
<rect x="61.83" y="89.8" width="9.86" height="1.9" fill="#f8eaec"/>
<rect x="71.39" y="89.8" width="9.86" height="1.9" fill="#fbf5f5"/>
<rect x="80.95" y="89.8" width="9.86" height="1.9" fill="#faf1f2"/>
<rect x="90.51" y="89.8" width="9.86" height="1.9" fill="#fdfafb"/>
<rect x="100.06" y="89.8" width="9.86" height="1.9" fill="#fefcfc"/>
<rect x="109.62" y="89.8" width="9.86" height="1.9" fill="#fdf9fa"/>
<rect x="119.18" y="89.8" width="9.86" height="1.9" fill="#fcf7f8"/>
<rect x="128.74" y="89.8" width="9.86" height="1.9" fill="#fcf7f8"/>
<rect x="138.29" y="89.8" width="9.86" height="1.9" fill="#fdfbfb"/>
<rect x="147.85" y="89.8" width="9.86" height="1.9" fill="#f9eff0"/>
<rect x="157.41" y="89.8" width="9.86" height="1.9" fill="#fbf5f6"/>
<rect x="166.97" y="89.8" width="9.86" height="1.9" fill="#fcf7f7"/>
<rect x="176.53" y="89.8" width="9.86" height="1.9" fill="#fcf8f9"/>
<rect x="186.08" y="89.8" width="9.86" height="1.9" fill="#f9eff0"/>
<rect x="195.64" y="89.8" width="9.86" height="1.9" fill="#fcf7f7"/>
<rect x="23.6" y="91.4" width="9.86" height="1.9" fill="#f5e3e5"/>
<rect x="33.16" y="91.4" width="9.86" height="1.9" fill="#f5e3e6"/>
<rect x="42.72" y="91.4" width="9.86" height="1.9" fill="#edc9ce"/>
<rect x="52.27" y="91.4" width="9.86" height="1.9" fill="#f4e0e2"/>
<rect x="61.83" y="91.4" width="9.86" height="1.9" fill="#e9bec3"/>
<rect x="71.39" y="91.4" width="9.86" height="1.9" fill="#faf2f3"/>
<rect x="80.95" y="91.4" width="9.86" height="1.9" fill="#fcf6f7"/>
<rect x="90.51" y="91.4" width="9.86" height="1.9" fill="#fcf8f9"/>
<rect x="100.06" y="91.4" width="9.86" height="1.9" fill="#fcf6f7"/>
<rect x="109.62" y="91.4" width="9.86" height="1.9" fill="#fbf3f4"/>
<rect x="119.18" y="91.4" width="9.86" height="1.9" fill="#f8eced"/>
<rect x="128.74" y="91.4" width="9.86" height="1.9" fill="#fdfafa"/>
<rect x="138.29" y="91.4" width="9.86" height="1.9" fill="#fcf7f8"/>
<rect x="147.85" y="91.4" width="9.86" height="1.9" fill="#fbf3f4"/>
<rect x="157.41" y="91.4" width="9.86" height="1.9" fill="#f9edef"/>
<rect x="166.97" y="91.4" width="9.86" height="1.9" fill="#fcf8f8"/>
<rect x="176.53" y="91.4" width="9.86" height="1.9" fill="#fcf8f8"/>
<rect x="186.08" y="91.4" width="9.86" height="1.9" fill="#fcf7f8"/>
<rect x="195.64" y="91.4" width="9.86" height="1.9" fill="#faf1f2"/>
<rect x="23.6" y="93" width="9.86" height="1.9" fill="#eac0c5"/>
<rect x="33.16" y="93" width="9.86" height="1.9" fill="#ecc8cc"/>
<rect x="42.72" y="93" width="9.86" height="1.9" fill="#e8bac0"/>
<rect x="52.27" y="93" width="9.86" height="1.9" fill="#e9bec3"/>
<rect x="61.83" y="93" width="9.86" height="1.9" fill="#f3dbde"/>
<rect x="71.39" y="93" width="9.86" height="1.9" fill="#fcf6f7"/>
<rect x="80.95" y="93" width="9.86" height="1.9" fill="#f7e9ea"/>
<rect x="90.51" y="93" width="9.86" height="1.9" fill="#faf2f3"/>
<rect x="100.06" y="93" width="9.86" height="1.9" fill="#fdfafb"/>
<rect x="109.62" y="93" width="9.86" height="1.9" fill="#fbf3f4"/>
<rect x="119.18" y="93" width="9.86" height="1.9" fill="#fbf3f4"/>
<rect x="128.74" y="93" width="9.86" height="1.9" fill="#fcf7f7"/>
<rect x="138.29" y="93" width="9.86" height="1.9" fill="#fcf7f8"/>
<rect x="147.85" y="93" width="9.86" height="1.9" fill="#fbf4f5"/>
<rect x="157.41" y="93" width="9.86" height="1.9" fill="#fdfafa"/>
<rect x="166.97" y="93" width="9.86" height="1.9" fill="#fbf5f6"/>
<rect x="176.53" y="93" width="9.86" height="1.9" fill="#faf2f3"/>
<rect x="186.08" y="93" width="9.86" height="1.9" fill="#f6e6e8"/>
<rect x="195.64" y="93" width="9.86" height="1.9" fill="#fcf6f6"/>
<rect x="23.6" y="94.6" width="9.86" height="1.9" fill="#f5e2e4"/>
<rect x="33.16" y="94.6" width="9.86" height="1.9" fill="#f2dadd"/>
<rect x="42.72" y="94.6" width="9.86" height="1.9" fill="#eac1c6"/>
<rect x="52.27" y="94.6" width="9.86" height="1.9" fill="#eac1c6"/>
<rect x="61.83" y="94.6" width="9.86" height="1.9" fill="#f0d4d8"/>
<rect x="71.39" y="94.6" width="9.86" height="1.9" fill="#fcf8f9"/>
<rect x="80.95" y="94.6" width="9.86" height="1.9" fill="#faf0f1"/>
<rect x="90.51" y="94.6" width="9.86" height="1.9" fill="#fcf6f7"/>
<rect x="100.06" y="94.6" width="9.86" height="1.9" fill="#f9eff0"/>
<rect x="109.62" y="94.6" width="9.86" height="1.9" fill="#fcf8f9"/>
<rect x="119.18" y="94.6" width="9.86" height="1.9" fill="#fbf3f4"/>
<rect x="128.74" y="94.6" width="9.86" height="1.9" fill="#faf1f2"/>
<rect x="138.29" y="94.6" width="9.86" height="1.9" fill="#fdfafb"/>
<rect x="147.85" y="94.6" width="9.86" height="1.9" fill="#f9eeef"/>
<rect x="157.41" y="94.6" width="9.86" height="1.9" fill="#f9eeef"/>
<rect x="166.97" y="94.6" width="9.86" height="1.9" fill="#f9eeef"/>
<rect x="176.53" y="94.6" width="9.86" height="1.9" fill="#fcf7f8"/>
<rect x="186.08" y="94.6" width="9.86" height="1.9" fill="#fcf7f8"/>
<rect x="195.64" y="94.6" width="9.86" height="1.9" fill="#fcf7f7"/>
<rect x="23.6" y="96.2" width="9.86" height="1.9" fill="#f4e0e2"/>
<rect x="33.16" y="96.2" width="9.86" height="1.9" fill="#ecc6cb"/>
<rect x="42.72" y="96.2" width="9.86" height="1.9" fill="#e9bfc4"/>
<rect x="52.27" y="96.2" width="9.86" height="1.9" fill="#f3dcdf"/>
<rect x="61.83" y="96.2" width="9.86" height="1.9" fill="#f4dee1"/>
<rect x="71.39" y="96.2" width="9.86" height="1.9" fill="#f8eaec"/>
<rect x="80.95" y="96.2" width="9.86" height="1.9" fill="#f9eeef"/>
<rect x="90.51" y="96.2" width="9.86" height="1.9" fill="#fcf7f8"/>
<rect x="100.06" y="96.2" width="9.86" height="1.9" fill="#faf2f3"/>
<rect x="109.62" y="96.2" width="9.86" height="1.9" fill="#fcf7f7"/>
<rect x="119.18" y="96.2" width="9.86" height="1.9" fill="#fbf5f6"/>
<rect x="128.74" y="96.2" width="9.86" height="1.9" fill="#fdfbfb"/>
<rect x="138.29" y="96.2" width="9.86" height="1.9" fill="#fbf3f4"/>
<rect x="147.85" y="96.2" width="9.86" height="1.9" fill="#f6e4e6"/>
<rect x="157.41" y="96.2" width="9.86" height="1.9" fill="#faf1f2"/>
<rect x="166.97" y="96.2" width="9.86" height="1.9" fill="#f8ebed"/>
<rect x="176.53" y="96.2" width="9.86" height="1.9" fill="#fcf8f8"/>
<rect x="186.08" y="96.2" width="9.86" height="1.9" fill="#fbf4f5"/>
<rect x="195.64" y="96.2" width="9.86" height="1.9" fill="#f9eff0"/>
<rect x="23.6" y="97.8" width="9.86" height="1.9" fill="#e8bac0"/>
<rect x="33.16" y="97.8" width="9.86" height="1.9" fill="#f2d8db"/>
<rect x="42.72" y="97.8" width="9.86" height="1.9" fill="#f4e0e2"/>
<rect x="52.27" y="97.8" width="9.86" height="1.9" fill="#f1d6d9"/>
<rect x="61.83" y="97.8" width="9.86" height="1.9" fill="#efd1d5"/>
<rect x="71.39" y="97.8" width="9.86" height="1.9" fill="#f8eaec"/>
<rect x="80.95" y="97.8" width="9.86" height="1.9" fill="#fbf5f6"/>
<rect x="90.51" y="97.8" width="9.86" height="1.9" fill="#faf1f2"/>
<rect x="100.06" y="97.8" width="9.86" height="1.9" fill="#faf1f2"/>
<rect x="109.62" y="97.8" width="9.86" height="1.9" fill="#faf0f2"/>
<rect x="119.18" y="97.8" width="9.86" height="1.9" fill="#f9edee"/>
<rect x="128.74" y="97.8" width="9.86" height="1.9" fill="#fbf4f5"/>
<rect x="138.29" y="97.8" width="9.86" height="1.9" fill="#fcf7f8"/>
<rect x="147.85" y="97.8" width="9.86" height="1.9" fill="#faf0f1"/>
<rect x="157.41" y="97.8" width="9.86" height="1.9" fill="#fbf4f5"/>
<rect x="166.97" y="97.8" width="9.86" height="1.9" fill="#f9edef"/>
<rect x="176.53" y="97.8" width="9.86" height="1.9" fill="#fcf6f7"/>
<rect x="186.08" y="97.8" width="9.86" height="1.9" fill="#fbf4f5"/>
<rect x="195.64" y="97.8" width="9.86" height="1.9" fill="#f7e9eb"/>
<rect x="23.6" y="99.4" width="9.86" height="1.9" fill="#faf2f3"/>
<rect x="33.16" y="99.4" width="9.86" height="1.9" fill="#fbf3f4"/>
<rect x="42.72" y="99.4" width="9.86" height="1.9" fill="#f5e3e5"/>
<rect x="52.27" y="99.4" width="9.86" height="1.9" fill="#f8eaec"/>
<rect x="61.83" y="99.4" width="9.86" height="1.9" fill="#f1d5d8"/>
<rect x="71.39" y="99.4" width="9.86" height="1.9" fill="#fbf3f4"/>
<rect x="80.95" y="99.4" width="9.86" height="1.9" fill="#faf1f2"/>
<rect x="90.51" y="99.4" width="9.86" height="1.9" fill="#fdfafb"/>
<rect x="100.06" y="99.4" width="9.86" height="1.9" fill="#fefcfc"/>
<rect x="109.62" y="99.4" width="9.86" height="1.9" fill="#fdfbfc"/>
<rect x="119.18" y="99.4" width="9.86" height="1.9" fill="#fcf7f7"/>
<rect x="128.74" y="99.4" width="9.86" height="1.9" fill="#fcf8f8"/>
<rect x="138.29" y="99.4" width="9.86" height="1.9" fill="#fdf9fa"/>
<rect x="147.85" y="99.4" width="9.86" height="1.9" fill="#fcf7f8"/>
<rect x="157.41" y="99.4" width="9.86" height="1.9" fill="#fcf8f9"/>
<rect x="166.97" y="99.4" width="9.86" height="1.9" fill="#fcf6f7"/>
<rect x="176.53" y="99.4" width="9.86" height="1.9" fill="#fbf3f4"/>
<rect x="186.08" y="99.4" width="9.86" height="1.9" fill="#faf2f3"/>
<rect x="195.64" y="99.4" width="9.86" height="1.9" fill="#faf1f2"/>
<rect x="23.6" y="101" width="9.86" height="1.9" fill="#f8ebec"/>
<rect x="33.16" y="101" width="9.86" height="1.9" fill="#edcbcf"/>
<rect x="42.72" y="101" width="9.86" height="1.9" fill="#f5e3e5"/>
<rect x="52.27" y="101" width="9.86" height="1.9" fill="#f1d7da"/>
<rect x="61.83" y="101" width="9.86" height="1.9" fill="#f4dee1"/>
<rect x="71.39" y="101" width="9.86" height="1.9" fill="#faf0f1"/>
<rect x="80.95" y="101" width="9.86" height="1.9" fill="#fcf7f7"/>
<rect x="90.51" y="101" width="9.86" height="1.9" fill="#fdf9f9"/>
<rect x="100.06" y="101" width="9.86" height="1.9" fill="#fdf9f9"/>
<rect x="109.62" y="101" width="9.86" height="1.9" fill="#fdfafa"/>
<rect x="119.18" y="101" width="9.86" height="1.9" fill="#f9eef0"/>
<rect x="128.74" y="101" width="9.86" height="1.9" fill="#fcf6f7"/>
<rect x="138.29" y="101" width="9.86" height="1.9" fill="#fcf8f9"/>
<rect x="147.85" y="101" width="9.86" height="1.9" fill="#faf1f2"/>
<rect x="157.41" y="101" width="9.86" height="1.9" fill="#f9eff0"/>
<rect x="166.97" y="101" width="9.86" height="1.9" fill="#fbf4f5"/>
<rect x="176.53" y="101" width="9.86" height="1.9" fill="#fbf5f6"/>
<rect x="186.08" y="101" width="9.86" height="1.9" fill="#f8ecee"/>
<rect x="195.64" y="101" width="9.86" height="1.9" fill="#f9eeef"/>
<rect x="23.6" y="102.6" width="9.86" height="3.5" fill="#f3dde0"/>
<rect x="33.16" y="102.6" width="9.86" height="3.5" fill="#eac0c5"/>
<rect x="42.72" y="102.6" width="9.86" height="3.5" fill="#e1a6ad"/>
<rect x="52.27" y="102.6" width="9.86" height="3.5" fill="#e0a4ab"/>
<rect x="61.83" y="102.6" width="9.86" height="3.5" fill="#dd9ba3"/>
<rect x="71.39" y="102.6" width="9.86" height="3.5" fill="#fcf6f6"/>
<rect x="80.95" y="102.6" width="9.86" height="3.5" fill="#f9eef0"/>
<rect x="90.51" y="102.6" width="9.86" height="3.5" fill="#fcf6f7"/>
<rect x="100.06" y="102.6" width="9.86" height="3.5" fill="#fbf5f6"/>
<rect x="109.62" y="102.6" width="9.86" height="3.5" fill="#f7e7e9"/>
<rect x="119.18" y="102.6" width="9.86" height="3.5" fill="#f7e9eb"/>
<rect x="128.74" y="102.6" width="9.86" height="3.5" fill="#f8eaec"/>
<rect x="138.29" y="102.6" width="9.86" height="3.5" fill="#fbf3f4"/>
<rect x="147.85" y="102.6" width="9.86" height="3.5" fill="#f2d8db"/>
<rect x="157.41" y="102.6" width="9.86" height="3.5" fill="#f9eeef"/>
<rect x="166.97" y="102.6" width="9.86" height="3.5" fill="#faf1f2"/>
<rect x="176.53" y="102.6" width="9.86" height="3.5" fill="#f4dfe2"/>
<rect x="186.08" y="102.6" width="9.86" height="3.5" fill="#f2dadd"/>
<rect x="195.64" y="102.6" width="9.86" height="3.5" fill="#faf2f3"/>
<rect x="23.6" y="105.8" width="9.86" height="3.5" fill="#ecc6ca"/>
<rect x="33.16" y="105.8" width="9.86" height="3.5" fill="#f4dee0"/>
<rect x="42.72" y="105.8" width="9.86" height="3.5" fill="#f1d5d8"/>
<rect x="52.27" y="105.8" width="9.86" height="3.5" fill="#f5e2e4"/>
<rect x="61.83" y="105.8" width="9.86" height="3.5" fill="#f3dde0"/>
<rect x="71.39" y="105.8" width="9.86" height="3.5" fill="#fbf4f5"/>
<rect x="80.95" y="105.8" width="9.86" height="3.5" fill="#f8eced"/>
<rect x="90.51" y="105.8" width="9.86" height="3.5" fill="#faf1f2"/>
<rect x="100.06" y="105.8" width="9.86" height="3.5" fill="#fcf7f8"/>
<rect x="109.62" y="105.8" width="9.86" height="3.5" fill="#fdfafa"/>
<rect x="119.18" y="105.8" width="9.86" height="3.5" fill="#fbf3f3"/>
<rect x="128.74" y="105.8" width="9.86" height="3.5" fill="#faf2f3"/>
<rect x="138.29" y="105.8" width="9.86" height="3.5" fill="#fcf8f8"/>
<rect x="147.85" y="105.8" width="9.86" height="3.5" fill="#f9eef0"/>
<rect x="157.41" y="105.8" width="9.86" height="3.5" fill="#fcf6f7"/>
<rect x="166.97" y="105.8" width="9.86" height="3.5" fill="#f8ebed"/>
<rect x="176.53" y="105.8" width="9.86" height="3.5" fill="#f8ebed"/>
<rect x="186.08" y="105.8" width="9.86" height="3.5" fill="#fcf6f7"/>
<rect x="195.64" y="105.8" width="9.86" height="3.5" fill="#fbf5f6"/>
<rect x="23.6" y="109" width="9.86" height="1.9" fill="#f0d2d5"/>
<rect x="33.16" y="109" width="9.86" height="1.9" fill="#eecdd1"/>
<rect x="42.72" y="109" width="9.86" height="1.9" fill="#f7e9eb"/>
<rect x="52.27" y="109" width="9.86" height="1.9" fill="#f6e5e7"/>
<rect x="61.83" y="109" width="9.86" height="1.9" fill="#edc9cd"/>
<rect x="71.39" y="109" width="9.86" height="1.9" fill="#fbf3f4"/>
<rect x="80.95" y="109" width="9.86" height="1.9" fill="#fbf4f5"/>
<rect x="90.51" y="109" width="9.86" height="1.9" fill="#fcf7f8"/>
<rect x="100.06" y="109" width="9.86" height="1.9" fill="#f9eff1"/>
<rect x="109.62" y="109" width="9.86" height="1.9" fill="#fcf7f8"/>
<rect x="119.18" y="109" width="9.86" height="1.9" fill="#faf1f2"/>
<rect x="128.74" y="109" width="9.86" height="1.9" fill="#fcf7f8"/>
<rect x="138.29" y="109" width="9.86" height="1.9" fill="#fcf6f7"/>
<rect x="147.85" y="109" width="9.86" height="1.9" fill="#f6e5e7"/>
<rect x="157.41" y="109" width="9.86" height="1.9" fill="#f8ecee"/>
<rect x="166.97" y="109" width="9.86" height="1.9" fill="#fbf4f5"/>
<rect x="176.53" y="109" width="9.86" height="1.9" fill="#fbf5f5"/>
<rect x="186.08" y="109" width="9.86" height="1.9" fill="#f8ebec"/>
<rect x="195.64" y="109" width="9.86" height="1.9" fill="#fbf4f5"/>
<rect x="23.6" y="110.6" width="9.86" height="3.5" fill="#e8bcc2"/>
<rect x="33.16" y="110.6" width="9.86" height="3.5" fill="#f1d6d9"/>
<rect x="42.72" y="110.6" width="9.86" height="3.5" fill="#eac1c6"/>
<rect x="52.27" y="110.6" width="9.86" height="3.5" fill="#f1d7da"/>
<rect x="61.83" y="110.6" width="9.86" height="3.5" fill="#e8bbc1"/>
<rect x="71.39" y="110.6" width="9.86" height="3.5" fill="#faf2f3"/>
<rect x="80.95" y="110.6" width="9.86" height="3.5" fill="#fcf6f6"/>
<rect x="90.51" y="110.6" width="9.86" height="3.5" fill="#fdfafb"/>
<rect x="100.06" y="110.6" width="9.86" height="3.5" fill="#fbf4f4"/>
<rect x="109.62" y="110.6" width="9.86" height="3.5" fill="#faf2f3"/>
<rect x="119.18" y="110.6" width="9.86" height="3.5" fill="#f8eaec"/>
<rect x="128.74" y="110.6" width="9.86" height="3.5" fill="#fdfafa"/>
<rect x="138.29" y="110.6" width="9.86" height="3.5" fill="#fbf4f5"/>
<rect x="147.85" y="110.6" width="9.86" height="3.5" fill="#f9eff0"/>
<rect x="157.41" y="110.6" width="9.86" height="3.5" fill="#faf2f3"/>
<rect x="166.97" y="110.6" width="9.86" height="3.5" fill="#fcf7f8"/>
<rect x="176.53" y="110.6" width="9.86" height="3.5" fill="#faf2f3"/>
<rect x="186.08" y="110.6" width="9.86" height="3.5" fill="#f9eeef"/>
<rect x="195.64" y="110.6" width="9.86" height="3.5" fill="#f6e5e7"/>
<rect x="23.6" y="113.8" width="9.86" height="3.5" fill="#eeccd0"/>
<rect x="33.16" y="113.8" width="9.86" height="3.5" fill="#e7b9bf"/>
<rect x="42.72" y="113.8" width="9.86" height="3.5" fill="#e4afb6"/>
<rect x="52.27" y="113.8" width="9.86" height="3.5" fill="#f4dee1"/>
<rect x="61.83" y="113.8" width="9.86" height="3.5" fill="#f5e2e4"/>
<rect x="71.39" y="113.8" width="9.86" height="3.5" fill="#f7e7e9"/>
<rect x="80.95" y="113.8" width="9.86" height="3.5" fill="#f6e4e6"/>
<rect x="90.51" y="113.8" width="9.86" height="3.5" fill="#fbf3f4"/>
<rect x="100.06" y="113.8" width="9.86" height="3.5" fill="#fdf9fa"/>
<rect x="109.62" y="113.8" width="9.86" height="3.5" fill="#f9edee"/>
<rect x="119.18" y="113.8" width="9.86" height="3.5" fill="#faf1f2"/>
<rect x="128.74" y="113.8" width="9.86" height="3.5" fill="#f9eff0"/>
<rect x="138.29" y="113.8" width="9.86" height="3.5" fill="#faf2f3"/>
<rect x="147.85" y="113.8" width="9.86" height="3.5" fill="#f5e1e4"/>
<rect x="157.41" y="113.8" width="9.86" height="3.5" fill="#fcf6f7"/>
<rect x="166.97" y="113.8" width="9.86" height="3.5" fill="#f8ebec"/>
<rect x="176.53" y="113.8" width="9.86" height="3.5" fill="#faf2f3"/>
<rect x="186.08" y="113.8" width="9.86" height="3.5" fill="#f9eeef"/>
<rect x="195.64" y="113.8" width="9.86" height="3.5" fill="#f5e3e6"/>
<rect x="23.6" y="117" width="9.86" height="1.9" fill="#ebc5c9"/>
<rect x="33.16" y="117" width="9.86" height="1.9" fill="#eac1c6"/>
<rect x="42.72" y="117" width="9.86" height="1.9" fill="#e3acb3"/>
<rect x="52.27" y="117" width="9.86" height="1.9" fill="#df9fa7"/>
<rect x="61.83" y="117" width="9.86" height="1.9" fill="#e3acb2"/>
<rect x="71.39" y="117" width="9.86" height="1.9" fill="#f9eff0"/>
<rect x="80.95" y="117" width="9.86" height="1.9" fill="#f7e9ea"/>
<rect x="90.51" y="117" width="9.86" height="1.9" fill="#f5e3e5"/>
<rect x="100.06" y="117" width="9.86" height="1.9" fill="#f4dfe1"/>
<rect x="109.62" y="117" width="9.86" height="1.9" fill="#fbf5f6"/>
<rect x="119.18" y="117" width="9.86" height="1.9" fill="#f4e0e2"/>
<rect x="128.74" y="117" width="9.86" height="1.9" fill="#f6e5e7"/>
<rect x="138.29" y="117" width="9.86" height="1.9" fill="#fcf6f6"/>
<rect x="147.85" y="117" width="9.86" height="1.9" fill="#ecc8cc"/>
<rect x="157.41" y="117" width="9.86" height="1.9" fill="#faf1f2"/>
<rect x="166.97" y="117" width="9.86" height="1.9" fill="#f4e0e3"/>
<rect x="176.53" y="117" width="9.86" height="1.9" fill="#f2dadd"/>
<rect x="186.08" y="117" width="9.86" height="1.9" fill="#f1d7da"/>
<rect x="195.64" y="117" width="9.86" height="1.9" fill="#f5e3e6"/>
<rect x="23.6" y="118.6" width="9.86" height="1.9" fill="#e5b2b9"/>
<rect x="33.16" y="118.6" width="9.86" height="1.9" fill="#e9bfc5"/>
<rect x="42.72" y="118.6" width="9.86" height="1.9" fill="#e3acb3"/>
<rect x="52.27" y="118.6" width="9.86" height="1.9" fill="#e9bec3"/>
<rect x="61.83" y="118.6" width="9.86" height="1.9" fill="#e8bcc2"/>
<rect x="71.39" y="118.6" width="9.86" height="1.9" fill="#fbf5f6"/>
<rect x="80.95" y="118.6" width="9.86" height="1.9" fill="#f6e4e6"/>
<rect x="90.51" y="118.6" width="9.86" height="1.9" fill="#f9eff0"/>
<rect x="100.06" y="118.6" width="9.86" height="1.9" fill="#fbf4f5"/>
<rect x="109.62" y="118.6" width="9.86" height="1.9" fill="#f8eaeb"/>
<rect x="119.18" y="118.6" width="9.86" height="1.9" fill="#f5e2e5"/>
<rect x="128.74" y="118.6" width="9.86" height="1.9" fill="#faf1f2"/>
<rect x="138.29" y="118.6" width="9.86" height="1.9" fill="#fcf6f6"/>
<rect x="147.85" y="118.6" width="9.86" height="1.9" fill="#f5e3e5"/>
<rect x="157.41" y="118.6" width="9.86" height="1.9" fill="#fbf5f5"/>
<rect x="166.97" y="118.6" width="9.86" height="1.9" fill="#fbf3f4"/>
<rect x="176.53" y="118.6" width="9.86" height="1.9" fill="#f7e7e9"/>
<rect x="186.08" y="118.6" width="9.86" height="1.9" fill="#faf2f3"/>
<rect x="195.64" y="118.6" width="9.86" height="1.9" fill="#f6e6e8"/>
<rect x="23.6" y="120.2" width="9.86" height="1.9" fill="#f3dde0"/>
<rect x="33.16" y="120.2" width="9.86" height="1.9" fill="#e2a8af"/>
<rect x="42.72" y="120.2" width="9.86" height="1.9" fill="#f2d9dc"/>
<rect x="52.27" y="120.2" width="9.86" height="1.9" fill="#df9fa7"/>
<rect x="61.83" y="120.2" width="9.86" height="1.9" fill="#dc98a0"/>
<rect x="71.39" y="120.2" width="9.86" height="1.9" fill="#f7e8e9"/>
<rect x="80.95" y="120.2" width="9.86" height="1.9" fill="#fbf3f4"/>
<rect x="90.51" y="120.2" width="9.86" height="1.9" fill="#f9edef"/>
<rect x="100.06" y="120.2" width="9.86" height="1.9" fill="#faf0f1"/>
<rect x="109.62" y="120.2" width="9.86" height="1.9" fill="#f6e4e6"/>
<rect x="119.18" y="120.2" width="9.86" height="1.9" fill="#faf2f3"/>
<rect x="128.74" y="120.2" width="9.86" height="1.9" fill="#f7e8ea"/>
<rect x="138.29" y="120.2" width="9.86" height="1.9" fill="#f6e5e7"/>
<rect x="147.85" y="120.2" width="9.86" height="1.9" fill="#f1d7da"/>
<rect x="157.41" y="120.2" width="9.86" height="1.9" fill="#f5e3e5"/>
<rect x="166.97" y="120.2" width="9.86" height="1.9" fill="#faf1f2"/>
<rect x="176.53" y="120.2" width="9.86" height="1.9" fill="#f0d3d7"/>
<rect x="186.08" y="120.2" width="9.86" height="1.9" fill="#f5e3e6"/>
<rect x="195.64" y="120.2" width="9.86" height="1.9" fill="#f0d3d7"/>
<rect x="23.6" y="121.8" width="9.86" height="1.9" fill="#d0d3e5"/>
<rect x="33.16" y="121.8" width="9.86" height="1.9" fill="#979dc4"/>
<rect x="42.72" y="121.8" width="9.86" height="1.9" fill="#8a90bd"/>
<rect x="52.27" y="121.8" width="9.86" height="1.9" fill="#dadcea"/>
<rect x="61.83" y="121.8" width="9.86" height="1.9" fill="#bfc3db"/>
<rect x="71.39" y="121.8" width="9.86" height="1.9" fill="#e0e2ee"/>
<rect x="80.95" y="121.8" width="9.86" height="1.9" fill="#f1f2f7"/>
<rect x="90.51" y="121.8" width="9.86" height="1.9" fill="#e2e4ef"/>
<rect x="100.06" y="121.8" width="9.86" height="1.9" fill="#f0f1f7"/>
<rect x="109.62" y="121.8" width="9.86" height="1.9" fill="#e4e5f0"/>
<rect x="119.18" y="121.8" width="9.86" height="1.9" fill="#f3f4f8"/>
<rect x="128.74" y="121.8" width="9.86" height="1.9" fill="#ebecf4"/>
<rect x="138.29" y="121.8" width="9.86" height="1.9" fill="#e2e3ee"/>
<rect x="147.85" y="121.8" width="9.86" height="1.9" fill="#d9dbe9"/>
<rect x="157.41" y="121.8" width="9.86" height="1.9" fill="#dddfec"/>
<rect x="166.97" y="121.8" width="9.86" height="1.9" fill="#d4d6e7"/>
<rect x="176.53" y="121.8" width="9.86" height="1.9" fill="#dadcea"/>
<rect x="186.08" y="121.8" width="9.86" height="1.9" fill="#eaebf3"/>
<rect x="195.64" y="121.8" width="9.86" height="1.9" fill="#e2e3ee"/>
<rect x="23.6" y="123.4" width="9.86" height="1.9" fill="#bec2da"/>
<rect x="33.16" y="123.4" width="9.86" height="1.9" fill="#cbcee2"/>
<rect x="42.72" y="123.4" width="9.86" height="1.9" fill="#c0c4dc"/>
<rect x="52.27" y="123.4" width="9.86" height="1.9" fill="#e5e7f0"/>
<rect x="61.83" y="123.4" width="9.86" height="1.9" fill="#c6c9df"/>
<rect x="71.39" y="123.4" width="9.86" height="1.9" fill="#f8f8fb"/>
<rect x="80.95" y="123.4" width="9.86" height="1.9" fill="#f1f2f7"/>
<rect x="90.51" y="123.4" width="9.86" height="1.9" fill="#f2f3f8"/>
<rect x="100.06" y="123.4" width="9.86" height="1.9" fill="#f6f6fa"/>
<rect x="109.62" y="123.4" width="9.86" height="1.9" fill="#eff0f6"/>
<rect x="119.18" y="123.4" width="9.86" height="1.9" fill="#f3f4f8"/>
<rect x="128.74" y="123.4" width="9.86" height="1.9" fill="#f3f4f8"/>
<rect x="138.29" y="123.4" width="9.86" height="1.9" fill="#eff0f6"/>
<rect x="147.85" y="123.4" width="9.86" height="1.9" fill="#eeeff5"/>
<rect x="157.41" y="123.4" width="9.86" height="1.9" fill="#d6d8e8"/>
<rect x="166.97" y="123.4" width="9.86" height="1.9" fill="#e4e5ef"/>
<rect x="176.53" y="123.4" width="9.86" height="1.9" fill="#e8eaf2"/>
<rect x="186.08" y="123.4" width="9.86" height="1.9" fill="#dcdeeb"/>
<rect x="195.64" y="123.4" width="9.86" height="1.9" fill="#ecedf4"/>
<rect x="23.6" y="125" width="9.86" height="1.9" fill="#a7abcd"/>
<rect x="33.16" y="125" width="9.86" height="1.9" fill="#bcbfd9"/>
<rect x="42.72" y="125" width="9.86" height="1.9" fill="#959ac3"/>
<rect x="52.27" y="125" width="9.86" height="1.9" fill="#b4b8d4"/>
<rect x="61.83" y="125" width="9.86" height="1.9" fill="#cdd0e3"/>
<rect x="71.39" y="125" width="9.86" height="1.9" fill="#dfe1ed"/>
<rect x="80.95" y="125" width="9.86" height="1.9" fill="#f3f4f8"/>
<rect x="90.51" y="125" width="9.86" height="1.9" fill="#e3e4ef"/>
<rect x="100.06" y="125" width="9.86" height="1.9" fill="#f0f1f7"/>
<rect x="109.62" y="125" width="9.86" height="1.9" fill="#e7e8f1"/>
<rect x="119.18" y="125" width="9.86" height="1.9" fill="#dfe0ed"/>
<rect x="128.74" y="125" width="9.86" height="1.9" fill="#e8eaf2"/>
<rect x="138.29" y="125" width="9.86" height="1.9" fill="#e6e8f1"/>
<rect x="147.85" y="125" width="9.86" height="1.9" fill="#d0d2e4"/>
<rect x="157.41" y="125" width="9.86" height="1.9" fill="#ebecf4"/>
<rect x="166.97" y="125" width="9.86" height="1.9" fill="#ebecf4"/>
<rect x="176.53" y="125" width="9.86" height="1.9" fill="#e3e4ef"/>
<rect x="186.08" y="125" width="9.86" height="1.9" fill="#c8cbe0"/>
<rect x="195.64" y="125" width="9.86" height="1.9" fill="#d2d5e6"/>
<rect x="23.6" y="126.6" width="9.86" height="1.9" fill="#a9adce"/>
<rect x="33.16" y="126.6" width="9.86" height="1.9" fill="#dee0ec"/>
<rect x="42.72" y="126.6" width="9.86" height="1.9" fill="#d7d9e8"/>
<rect x="52.27" y="126.6" width="9.86" height="1.9" fill="#b9bdd8"/>
<rect x="61.83" y="126.6" width="9.86" height="1.9" fill="#e6e7f0"/>
<rect x="71.39" y="126.6" width="9.86" height="1.9" fill="#f7f8fb"/>
<rect x="80.95" y="126.6" width="9.86" height="1.9" fill="#f0f1f6"/>
<rect x="90.51" y="126.6" width="9.86" height="1.9" fill="#f7f7fa"/>
<rect x="100.06" y="126.6" width="9.86" height="1.9" fill="#f2f3f8"/>
<rect x="109.62" y="126.6" width="9.86" height="1.9" fill="#f5f5f9"/>
<rect x="119.18" y="126.6" width="9.86" height="1.9" fill="#eeeff5"/>
<rect x="128.74" y="126.6" width="9.86" height="1.9" fill="#eeeff5"/>
<rect x="138.29" y="126.6" width="9.86" height="1.9" fill="#f5f6f9"/>
<rect x="147.85" y="126.6" width="9.86" height="1.9" fill="#cccfe2"/>
<rect x="157.41" y="126.6" width="9.86" height="1.9" fill="#dddeeb"/>
<rect x="166.97" y="126.6" width="9.86" height="1.9" fill="#ecedf4"/>
<rect x="176.53" y="126.6" width="9.86" height="1.9" fill="#c9cce0"/>
<rect x="186.08" y="126.6" width="9.86" height="1.9" fill="#e6e8f1"/>
<rect x="195.64" y="126.6" width="9.86" height="1.9" fill="#eaebf3"/>
<rect x="23.6" y="128.2" width="9.86" height="3.5" fill="#d1d3e5"/>
<rect x="33.16" y="128.2" width="9.86" height="3.5" fill="#c6c9df"/>
<rect x="42.72" y="128.2" width="9.86" height="3.5" fill="#cacde1"/>
<rect x="52.27" y="128.2" width="9.86" height="3.5" fill="#dcdeeb"/>
<rect x="61.83" y="128.2" width="9.86" height="3.5" fill="#e2e4ef"/>
<rect x="71.39" y="128.2" width="9.86" height="3.5" fill="#fafafc"/>
<rect x="80.95" y="128.2" width="9.86" height="3.5" fill="#f1f1f7"/>
<rect x="90.51" y="128.2" width="9.86" height="3.5" fill="#f4f5f9"/>
<rect x="100.06" y="128.2" width="9.86" height="3.5" fill="#f6f7fa"/>
<rect x="109.62" y="128.2" width="9.86" height="3.5" fill="#f3f4f8"/>
<rect x="119.18" y="128.2" width="9.86" height="3.5" fill="#f5f6f9"/>
<rect x="128.74" y="128.2" width="9.86" height="3.5" fill="#f0f0f6"/>
<rect x="138.29" y="128.2" width="9.86" height="3.5" fill="#f2f3f7"/>
<rect x="147.85" y="128.2" width="9.86" height="3.5" fill="#eaebf3"/>
<rect x="157.41" y="128.2" width="9.86" height="3.5" fill="#dcdeeb"/>
<rect x="166.97" y="128.2" width="9.86" height="3.5" fill="#f5f5f9"/>
<rect x="176.53" y="128.2" width="9.86" height="3.5" fill="#e6e7f1"/>
<rect x="186.08" y="128.2" width="9.86" height="3.5" fill="#eaebf3"/>
<rect x="195.64" y="128.2" width="9.86" height="3.5" fill="#eeeff5"/>
<rect x="23.6" y="131.4" width="9.86" height="1.9" fill="#dadcea"/>
<rect x="33.16" y="131.4" width="9.86" height="1.9" fill="#f3f4f8"/>
<rect x="42.72" y="131.4" width="9.86" height="1.9" fill="#e2e3ee"/>
<rect x="52.27" y="131.4" width="9.86" height="1.9" fill="#d5d7e7"/>
<rect x="61.83" y="131.4" width="9.86" height="1.9" fill="#eff0f6"/>
<rect x="71.39" y="131.4" width="9.86" height="1.9" fill="#f9fafc"/>
<rect x="80.95" y="131.4" width="9.86" height="1.9" fill="#f5f6f9"/>
<rect x="90.51" y="131.4" width="9.86" height="1.9" fill="#f8f8fb"/>
<rect x="100.06" y="131.4" width="9.86" height="1.9" fill="#f7f7fa"/>
<rect x="109.62" y="131.4" width="9.86" height="1.9" fill="#f5f6f9"/>
<rect x="119.18" y="131.4" width="9.86" height="1.9" fill="#fafbfc"/>
<rect x="128.74" y="131.4" width="9.86" height="1.9" fill="#f9fafc"/>
<rect x="138.29" y="131.4" width="9.86" height="1.9" fill="#f9fafc"/>
<rect x="147.85" y="131.4" width="9.86" height="1.9" fill="#f5f6f9"/>
<rect x="157.41" y="131.4" width="9.86" height="1.9" fill="#e6e8f1"/>
<rect x="166.97" y="131.4" width="9.86" height="1.9" fill="#eaebf3"/>
<rect x="176.53" y="131.4" width="9.86" height="1.9" fill="#eaebf3"/>
<rect x="186.08" y="131.4" width="9.86" height="1.9" fill="#f8f8fb"/>
<rect x="195.64" y="131.4" width="9.86" height="1.9" fill="#e7e9f1"/>
<rect x="23.6" y="133" width="9.86" height="3.5" fill="#ced1e3"/>
<rect x="33.16" y="133" width="9.86" height="3.5" fill="#bdc1da"/>
<rect x="42.72" y="133" width="9.86" height="3.5" fill="#cfd1e4"/>
<rect x="52.27" y="133" width="9.86" height="3.5" fill="#dddeeb"/>
<rect x="61.83" y="133" width="9.86" height="3.5" fill="#e4e5f0"/>
<rect x="71.39" y="133" width="9.86" height="3.5" fill="#f4f5f9"/>
<rect x="80.95" y="133" width="9.86" height="3.5" fill="#f8f8fb"/>
<rect x="90.51" y="133" width="9.86" height="3.5" fill="#f4f5f9"/>
<rect x="100.06" y="133" width="9.86" height="3.5" fill="#eeeff5"/>
<rect x="109.62" y="133" width="9.86" height="3.5" fill="#eff0f6"/>
<rect x="119.18" y="133" width="9.86" height="3.5" fill="#edeef4"/>
<rect x="128.74" y="133" width="9.86" height="3.5" fill="#eff0f6"/>
<rect x="138.29" y="133" width="9.86" height="3.5" fill="#f5f6f9"/>
<rect x="147.85" y="133" width="9.86" height="3.5" fill="#d6d8e8"/>
<rect x="157.41" y="133" width="9.86" height="3.5" fill="#e3e4ef"/>
<rect x="166.97" y="133" width="9.86" height="3.5" fill="#d9dbe9"/>
<rect x="176.53" y="133" width="9.86" height="3.5" fill="#dfe1ed"/>
<rect x="186.08" y="133" width="9.86" height="3.5" fill="#e9eaf2"/>
<rect x="195.64" y="133" width="9.86" height="3.5" fill="#dbddeb"/>
<rect x="23.6" y="136.2" width="9.86" height="1.9" fill="#d8dae9"/>
<rect x="33.16" y="136.2" width="9.86" height="1.9" fill="#aaafcf"/>
<rect x="42.72" y="136.2" width="9.86" height="1.9" fill="#e6e8f1"/>
<rect x="52.27" y="136.2" width="9.86" height="1.9" fill="#d5d7e7"/>
<rect x="61.83" y="136.2" width="9.86" height="1.9" fill="#d7d9e8"/>
<rect x="71.39" y="136.2" width="9.86" height="1.9" fill="#e8e9f2"/>
<rect x="80.95" y="136.2" width="9.86" height="1.9" fill="#e4e5f0"/>
<rect x="90.51" y="136.2" width="9.86" height="1.9" fill="#ecedf4"/>
<rect x="100.06" y="136.2" width="9.86" height="1.9" fill="#f3f4f8"/>
<rect x="109.62" y="136.2" width="9.86" height="1.9" fill="#e9ebf3"/>
<rect x="119.18" y="136.2" width="9.86" height="1.9" fill="#f3f4f8"/>
<rect x="128.74" y="136.2" width="9.86" height="1.9" fill="#f5f5f9"/>
<rect x="138.29" y="136.2" width="9.86" height="1.9" fill="#e9eaf2"/>
<rect x="147.85" y="136.2" width="9.86" height="1.9" fill="#cccfe2"/>
<rect x="157.41" y="136.2" width="9.86" height="1.9" fill="#d4d6e6"/>
<rect x="166.97" y="136.2" width="9.86" height="1.9" fill="#d8dae9"/>
<rect x="176.53" y="136.2" width="9.86" height="1.9" fill="#c8cbe0"/>
<rect x="186.08" y="136.2" width="9.86" height="1.9" fill="#dddfec"/>
<rect x="195.64" y="136.2" width="9.86" height="1.9" fill="#ced0e3"/>
<rect x="23.6" y="137.8" width="9.86" height="1.9" fill="#b9bcd7"/>
<rect x="33.16" y="137.8" width="9.86" height="1.9" fill="#d1d4e5"/>
<rect x="42.72" y="137.8" width="9.86" height="1.9" fill="#c0c4dc"/>
<rect x="52.27" y="137.8" width="9.86" height="1.9" fill="#cacce1"/>
<rect x="61.83" y="137.8" width="9.86" height="1.9" fill="#d9dbe9"/>
<rect x="71.39" y="137.8" width="9.86" height="1.9" fill="#f5f5f9"/>
<rect x="80.95" y="137.8" width="9.86" height="1.9" fill="#eeeff5"/>
<rect x="90.51" y="137.8" width="9.86" height="1.9" fill="#f8f9fb"/>
<rect x="100.06" y="137.8" width="9.86" height="1.9" fill="#ecedf4"/>
<rect x="109.62" y="137.8" width="9.86" height="1.9" fill="#f7f8fb"/>
<rect x="119.18" y="137.8" width="9.86" height="1.9" fill="#f9fafc"/>
<rect x="128.74" y="137.8" width="9.86" height="1.9" fill="#f8f8fb"/>
<rect x="138.29" y="137.8" width="9.86" height="1.9" fill="#ecedf4"/>
<rect x="147.85" y="137.8" width="9.86" height="1.9" fill="#e1e2ee"/>
<rect x="157.41" y="137.8" width="9.86" height="1.9" fill="#eeeff5"/>
<rect x="166.97" y="137.8" width="9.86" height="1.9" fill="#f3f3f8"/>
<rect x="176.53" y="137.8" width="9.86" height="1.9" fill="#f1f2f7"/>
<rect x="186.08" y="137.8" width="9.86" height="1.9" fill="#dadcea"/>
<rect x="195.64" y="137.8" width="9.86" height="1.9" fill="#dcdeeb"/>
<rect x="23.6" y="139.4" width="9.86" height="1.9" fill="#c0c3db"/>
<rect x="33.16" y="139.4" width="9.86" height="1.9" fill="#e7e8f1"/>
<rect x="42.72" y="139.4" width="9.86" height="1.9" fill="#c8cbe0"/>
<rect x="52.27" y="139.4" width="9.86" height="1.9" fill="#d6d8e8"/>
<rect x="61.83" y="139.4" width="9.86" height="1.9" fill="#bbbfd9"/>
<rect x="71.39" y="139.4" width="9.86" height="1.9" fill="#eaebf3"/>
<rect x="80.95" y="139.4" width="9.86" height="1.9" fill="#e9eaf2"/>
<rect x="90.51" y="139.4" width="9.86" height="1.9" fill="#f9f9fb"/>
<rect x="100.06" y="139.4" width="9.86" height="1.9" fill="#edeef5"/>
<rect x="109.62" y="139.4" width="9.86" height="1.9" fill="#ecedf4"/>
<rect x="119.18" y="139.4" width="9.86" height="1.9" fill="#ecedf4"/>
<rect x="128.74" y="139.4" width="9.86" height="1.9" fill="#f8f8fb"/>
<rect x="138.29" y="139.4" width="9.86" height="1.9" fill="#f7f7fa"/>
<rect x="147.85" y="139.4" width="9.86" height="1.9" fill="#ebecf3"/>
<rect x="157.41" y="139.4" width="9.86" height="1.9" fill="#f2f2f7"/>
<rect x="166.97" y="139.4" width="9.86" height="1.9" fill="#d8dae9"/>
<rect x="176.53" y="139.4" width="9.86" height="1.9" fill="#d6d8e8"/>
<rect x="186.08" y="139.4" width="9.86" height="1.9" fill="#dcdeeb"/>
<rect x="195.64" y="139.4" width="9.86" height="1.9" fill="#d6d8e8"/>
<rect x="23.6" y="141" width="9.86" height="3.5" fill="#dcdeeb"/>
<rect x="33.16" y="141" width="9.86" height="3.5" fill="#e6e8f1"/>
<rect x="42.72" y="141" width="9.86" height="3.5" fill="#e6e8f1"/>
<rect x="52.27" y="141" width="9.86" height="3.5" fill="#c1c5dc"/>
<rect x="61.83" y="141" width="9.86" height="3.5" fill="#e0e2ee"/>
<rect x="71.39" y="141" width="9.86" height="3.5" fill="#f4f4f8"/>
<rect x="80.95" y="141" width="9.86" height="3.5" fill="#f2f2f7"/>
<rect x="90.51" y="141" width="9.86" height="3.5" fill="#fafafc"/>
<rect x="100.06" y="141" width="9.86" height="3.5" fill="#f6f7fa"/>
<rect x="109.62" y="141" width="9.86" height="3.5" fill="#f6f6fa"/>
<rect x="119.18" y="141" width="9.86" height="3.5" fill="#f0f1f6"/>
<rect x="128.74" y="141" width="9.86" height="3.5" fill="#f5f5f9"/>
<rect x="138.29" y="141" width="9.86" height="3.5" fill="#f5f6f9"/>
<rect x="147.85" y="141" width="9.86" height="3.5" fill="#c8cbe0"/>
<rect x="157.41" y="141" width="9.86" height="3.5" fill="#e2e4ef"/>
<rect x="166.97" y="141" width="9.86" height="3.5" fill="#dadcea"/>
<rect x="176.53" y="141" width="9.86" height="3.5" fill="#dfe0ed"/>
<rect x="186.08" y="141" width="9.86" height="3.5" fill="#f2f3f8"/>
<rect x="195.64" y="141" width="9.86" height="3.5" fill="#e5e7f0"/>
<rect x="23.6" y="144.2" width="9.86" height="1.9" fill="#c9cce1"/>
<rect x="33.16" y="144.2" width="9.86" height="1.9" fill="#dee0ec"/>
<rect x="42.72" y="144.2" width="9.86" height="1.9" fill="#cdcfe2"/>
<rect x="52.27" y="144.2" width="9.86" height="1.9" fill="#d5d7e7"/>
<rect x="61.83" y="144.2" width="9.86" height="1.9" fill="#e4e6f0"/>
<rect x="71.39" y="144.2" width="9.86" height="1.9" fill="#edeef5"/>
<rect x="80.95" y="144.2" width="9.86" height="1.9" fill="#f8f9fb"/>
<rect x="90.51" y="144.2" width="9.86" height="1.9" fill="#f1f1f7"/>
<rect x="100.06" y="144.2" width="9.86" height="1.9" fill="#f8f9fb"/>
<rect x="109.62" y="144.2" width="9.86" height="1.9" fill="#fafbfc"/>
<rect x="119.18" y="144.2" width="9.86" height="1.9" fill="#f8f8fb"/>
<rect x="128.74" y="144.2" width="9.86" height="1.9" fill="#f1f2f7"/>
<rect x="138.29" y="144.2" width="9.86" height="1.9" fill="#eff0f6"/>
<rect x="147.85" y="144.2" width="9.86" height="1.9" fill="#f2f3f8"/>
<rect x="157.41" y="144.2" width="9.86" height="1.9" fill="#e7e8f1"/>
<rect x="166.97" y="144.2" width="9.86" height="1.9" fill="#e9eaf2"/>
<rect x="176.53" y="144.2" width="9.86" height="1.9" fill="#dee0ec"/>
<rect x="186.08" y="144.2" width="9.86" height="1.9" fill="#f0f0f6"/>
<rect x="195.64" y="144.2" width="9.86" height="1.9" fill="#e7e8f1"/>
<rect x="23.6" y="145.8" width="9.86" height="1.9" fill="#cbcee1"/>
<rect x="33.16" y="145.8" width="9.86" height="1.9" fill="#e4e6f0"/>
<rect x="42.72" y="145.8" width="9.86" height="1.9" fill="#c6c9df"/>
<rect x="52.27" y="145.8" width="9.86" height="1.9" fill="#e3e5ef"/>
<rect x="61.83" y="145.8" width="9.86" height="1.9" fill="#e6e7f1"/>
<rect x="71.39" y="145.8" width="9.86" height="1.9" fill="#f1f1f7"/>
<rect x="80.95" y="145.8" width="9.86" height="1.9" fill="#f3f4f8"/>
<rect x="90.51" y="145.8" width="9.86" height="1.9" fill="#fafafc"/>
<rect x="100.06" y="145.8" width="9.86" height="1.9" fill="#f4f4f8"/>
<rect x="109.62" y="145.8" width="9.86" height="1.9" fill="#fafafc"/>
<rect x="119.18" y="145.8" width="9.86" height="1.9" fill="#f2f3f7"/>
<rect x="128.74" y="145.8" width="9.86" height="1.9" fill="#f3f4f8"/>
<rect x="138.29" y="145.8" width="9.86" height="1.9" fill="#f2f3f7"/>
<rect x="147.85" y="145.8" width="9.86" height="1.9" fill="#dee0ec"/>
<rect x="157.41" y="145.8" width="9.86" height="1.9" fill="#ecedf4"/>
<rect x="166.97" y="145.8" width="9.86" height="1.9" fill="#edeef4"/>
<rect x="176.53" y="145.8" width="9.86" height="1.9" fill="#ebecf4"/>
<rect x="186.08" y="145.8" width="9.86" height="1.9" fill="#dee0ec"/>
<rect x="195.64" y="145.8" width="9.86" height="1.9" fill="#f3f4f8"/>
<rect x="23.6" y="147.4" width="9.86" height="1.9" fill="#e7e8f1"/>
<rect x="33.16" y="147.4" width="9.86" height="1.9" fill="#dbddea"/>
<rect x="42.72" y="147.4" width="9.86" height="1.9" fill="#d7d9e8"/>
<rect x="52.27" y="147.4" width="9.86" height="1.9" fill="#adb1d0"/>
<rect x="61.83" y="147.4" width="9.86" height="1.9" fill="#c7cadf"/>
<rect x="71.39" y="147.4" width="9.86" height="1.9" fill="#f0f1f7"/>
<rect x="80.95" y="147.4" width="9.86" height="1.9" fill="#e6e8f1"/>
<rect x="90.51" y="147.4" width="9.86" height="1.9" fill="#f5f6f9"/>
<rect x="100.06" y="147.4" width="9.86" height="1.9" fill="#f1f2f7"/>
<rect x="109.62" y="147.4" width="9.86" height="1.9" fill="#f0f1f6"/>
<rect x="119.18" y="147.4" width="9.86" height="1.9" fill="#ecedf4"/>
<rect x="128.74" y="147.4" width="9.86" height="1.9" fill="#ecedf4"/>
<rect x="138.29" y="147.4" width="9.86" height="1.9" fill="#eeeff5"/>
<rect x="147.85" y="147.4" width="9.86" height="1.9" fill="#dddeeb"/>
<rect x="157.41" y="147.4" width="9.86" height="1.9" fill="#e4e6f0"/>
<rect x="166.97" y="147.4" width="9.86" height="1.9" fill="#edeef4"/>
<rect x="176.53" y="147.4" width="9.86" height="1.9" fill="#d0d2e4"/>
<rect x="186.08" y="147.4" width="9.86" height="1.9" fill="#d7d9e8"/>
<rect x="195.64" y="147.4" width="9.86" height="1.9" fill="#d4d6e6"/>
<rect x="23.6" y="149" width="9.86" height="3.5" fill="#e2e3ee"/>
<rect x="33.16" y="149" width="9.86" height="3.5" fill="#d5d8e7"/>
<rect x="42.72" y="149" width="9.86" height="3.5" fill="#dddeeb"/>
<rect x="52.27" y="149" width="9.86" height="3.5" fill="#edeef5"/>
<rect x="61.83" y="149" width="9.86" height="3.5" fill="#e1e2ee"/>
<rect x="71.39" y="149" width="9.86" height="3.5" fill="#f1f2f7"/>
<rect x="80.95" y="149" width="9.86" height="3.5" fill="#f8f8fb"/>
<rect x="90.51" y="149" width="9.86" height="3.5" fill="#fafafc"/>
<rect x="100.06" y="149" width="9.86" height="3.5" fill="#f9f9fb"/>
<rect x="109.62" y="149" width="9.86" height="3.5" fill="#f5f5f9"/>
<rect x="119.18" y="149" width="9.86" height="3.5" fill="#f4f4f8"/>
<rect x="128.74" y="149" width="9.86" height="3.5" fill="#fafafc"/>
<rect x="138.29" y="149" width="9.86" height="3.5" fill="#fafafc"/>
<rect x="147.85" y="149" width="9.86" height="3.5" fill="#eeeff5"/>
<rect x="157.41" y="149" width="9.86" height="3.5" fill="#f0f1f6"/>
<rect x="166.97" y="149" width="9.86" height="3.5" fill="#edeef5"/>
<rect x="176.53" y="149" width="9.86" height="3.5" fill="#f3f4f8"/>
<rect x="186.08" y="149" width="9.86" height="3.5" fill="#f0f1f6"/>
<rect x="195.64" y="149" width="9.86" height="3.5" fill="#f3f3f8"/>
<rect x="23.6" y="152.2" width="9.86" height="3.5" fill="#b4b8d5"/>
<rect x="33.16" y="152.2" width="9.86" height="3.5" fill="#e0e2ed"/>
<rect x="42.72" y="152.2" width="9.86" height="3.5" fill="#a4a9cc"/>
<rect x="52.27" y="152.2" width="9.86" height="3.5" fill="#e0e2ed"/>
<rect x="61.83" y="152.2" width="9.86" height="3.5" fill="#cccfe2"/>
<rect x="71.39" y="152.2" width="9.86" height="3.5" fill="#e3e4ef"/>
<rect x="80.95" y="152.2" width="9.86" height="3.5" fill="#e7e8f1"/>
<rect x="90.51" y="152.2" width="9.86" height="3.5" fill="#ecedf4"/>
<rect x="100.06" y="152.2" width="9.86" height="3.5" fill="#f1f2f7"/>
<rect x="109.62" y="152.2" width="9.86" height="3.5" fill="#f5f6f9"/>
<rect x="119.18" y="152.2" width="9.86" height="3.5" fill="#eeeef5"/>
<rect x="128.74" y="152.2" width="9.86" height="3.5" fill="#f7f7fa"/>
<rect x="138.29" y="152.2" width="9.86" height="3.5" fill="#f5f6f9"/>
<rect x="147.85" y="152.2" width="9.86" height="3.5" fill="#d9dbe9"/>
<rect x="157.41" y="152.2" width="9.86" height="3.5" fill="#eff0f6"/>
<rect x="166.97" y="152.2" width="9.86" height="3.5" fill="#e2e4ef"/>
<rect x="176.53" y="152.2" width="9.86" height="3.5" fill="#cfd2e4"/>
<rect x="186.08" y="152.2" width="9.86" height="3.5" fill="#d3d6e6"/>
<rect x="195.64" y="152.2" width="9.86" height="3.5" fill="#dcddeb"/>
<rect x="23.6" y="155.4" width="9.86" height="1.9" fill="#d2d4e5"/>
<rect x="33.16" y="155.4" width="9.86" height="1.9" fill="#e4e5f0"/>
<rect x="42.72" y="155.4" width="9.86" height="1.9" fill="#cacde1"/>
<rect x="52.27" y="155.4" width="9.86" height="1.9" fill="#d5d7e7"/>
<rect x="61.83" y="155.4" width="9.86" height="1.9" fill="#c2c6dd"/>
<rect x="71.39" y="155.4" width="9.86" height="1.9" fill="#eaebf3"/>
<rect x="80.95" y="155.4" width="9.86" height="1.9" fill="#f2f2f7"/>
<rect x="90.51" y="155.4" width="9.86" height="1.9" fill="#f2f2f7"/>
<rect x="100.06" y="155.4" width="9.86" height="1.9" fill="#eff0f6"/>
<rect x="109.62" y="155.4" width="9.86" height="1.9" fill="#f4f5f9"/>
<rect x="119.18" y="155.4" width="9.86" height="1.9" fill="#f7f7fa"/>
<rect x="128.74" y="155.4" width="9.86" height="1.9" fill="#f0f1f6"/>
<rect x="138.29" y="155.4" width="9.86" height="1.9" fill="#eeeef5"/>
<rect x="147.85" y="155.4" width="9.86" height="1.9" fill="#d0d3e4"/>
<rect x="157.41" y="155.4" width="9.86" height="1.9" fill="#dcdeeb"/>
<rect x="166.97" y="155.4" width="9.86" height="1.9" fill="#dadcea"/>
<rect x="176.53" y="155.4" width="9.86" height="1.9" fill="#dcdeeb"/>
<rect x="186.08" y="155.4" width="9.86" height="1.9" fill="#dee0ec"/>
<rect x="195.64" y="155.4" width="9.86" height="1.9" fill="#e4e5f0"/>
<rect x="23.6" y="157" width="9.86" height="1.9" fill="#d5d7e7"/>
<rect x="33.16" y="157" width="9.86" height="1.9" fill="#ecedf4"/>
<rect x="42.72" y="157" width="9.86" height="1.9" fill="#dee0ec"/>
<rect x="52.27" y="157" width="9.86" height="1.9" fill="#ced1e3"/>
<rect x="61.83" y="157" width="9.86" height="1.9" fill="#d1d4e5"/>
<rect x="71.39" y="157" width="9.86" height="1.9" fill="#f2f3f7"/>
<rect x="80.95" y="157" width="9.86" height="1.9" fill="#f7f7fa"/>
<rect x="90.51" y="157" width="9.86" height="1.9" fill="#f6f7fa"/>
<rect x="100.06" y="157" width="9.86" height="1.9" fill="#f6f6fa"/>
<rect x="109.62" y="157" width="9.86" height="1.9" fill="#f4f5f9"/>
<rect x="119.18" y="157" width="9.86" height="1.9" fill="#f7f7fa"/>
<rect x="128.74" y="157" width="9.86" height="1.9" fill="#f4f4f8"/>
<rect x="138.29" y="157" width="9.86" height="1.9" fill="#f1f2f7"/>
<rect x="147.85" y="157" width="9.86" height="1.9" fill="#eeeff5"/>
<rect x="157.41" y="157" width="9.86" height="1.9" fill="#e5e6f0"/>
<rect x="166.97" y="157" width="9.86" height="1.9" fill="#e4e6f0"/>
<rect x="176.53" y="157" width="9.86" height="1.9" fill="#ecedf4"/>
<rect x="186.08" y="157" width="9.86" height="1.9" fill="#e9eaf3"/>
<rect x="195.64" y="157" width="9.86" height="1.9" fill="#dddfeb"/>
<rect x="23.6" y="158.6" width="9.86" height="1.9" fill="#e3e4ef"/>
<rect x="33.16" y="158.6" width="9.86" height="1.9" fill="#eff0f6"/>
<rect x="42.72" y="158.6" width="9.86" height="1.9" fill="#dbddea"/>
<rect x="52.27" y="158.6" width="9.86" height="1.9" fill="#d6d8e8"/>
<rect x="61.83" y="158.6" width="9.86" height="1.9" fill="#e3e5ef"/>
<rect x="71.39" y="158.6" width="9.86" height="1.9" fill="#fafbfc"/>
<rect x="80.95" y="158.6" width="9.86" height="1.9" fill="#f6f6fa"/>
<rect x="90.51" y="158.6" width="9.86" height="1.9" fill="#f8f8fb"/>
<rect x="100.06" y="158.6" width="9.86" height="1.9" fill="#f6f7fa"/>
<rect x="109.62" y="158.6" width="9.86" height="1.9" fill="#f8f8fb"/>
<rect x="119.18" y="158.6" width="9.86" height="1.9" fill="#f7f7fa"/>
<rect x="128.74" y="158.6" width="9.86" height="1.9" fill="#f5f6f9"/>
<rect x="138.29" y="158.6" width="9.86" height="1.9" fill="#f8f8fb"/>
<rect x="147.85" y="158.6" width="9.86" height="1.9" fill="#edeef4"/>
<rect x="157.41" y="158.6" width="9.86" height="1.9" fill="#e6e7f1"/>
<rect x="166.97" y="158.6" width="9.86" height="1.9" fill="#f5f5f9"/>
<rect x="176.53" y="158.6" width="9.86" height="1.9" fill="#ebecf4"/>
<rect x="186.08" y="158.6" width="9.86" height="1.9" fill="#f1f1f7"/>
<rect x="195.64" y="158.6" width="9.86" height="1.9" fill="#eaebf3"/>
<rect x="23.6" y="160.2" width="9.86" height="1.9" fill="#d0d2e4"/>
<rect x="33.16" y="160.2" width="9.86" height="1.9" fill="#e6e7f1"/>
<rect x="42.72" y="160.2" width="9.86" height="1.9" fill="#f1f1f7"/>
<rect x="52.27" y="160.2" width="9.86" height="1.9" fill="#e9eaf2"/>
<rect x="61.83" y="160.2" width="9.86" height="1.9" fill="#e5e6f0"/>
<rect x="71.39" y="160.2" width="9.86" height="1.9" fill="#fbfbfc"/>
<rect x="80.95" y="160.2" width="9.86" height="1.9" fill="#f7f7fa"/>
<rect x="90.51" y="160.2" width="9.86" height="1.9" fill="#f8f8fb"/>
<rect x="100.06" y="160.2" width="9.86" height="1.9" fill="#f5f6f9"/>
<rect x="109.62" y="160.2" width="9.86" height="1.9" fill="#f8f9fb"/>
<rect x="119.18" y="160.2" width="9.86" height="1.9" fill="#f9fafc"/>
<rect x="128.74" y="160.2" width="9.86" height="1.9" fill="#fafafc"/>
<rect x="138.29" y="160.2" width="9.86" height="1.9" fill="#f5f6f9"/>
<rect x="147.85" y="160.2" width="9.86" height="1.9" fill="#dddfec"/>
<rect x="157.41" y="160.2" width="9.86" height="1.9" fill="#ecedf4"/>
<rect x="166.97" y="160.2" width="9.86" height="1.9" fill="#f4f4f8"/>
<rect x="176.53" y="160.2" width="9.86" height="1.9" fill="#e6e8f1"/>
<rect x="186.08" y="160.2" width="9.86" height="1.9" fill="#eff0f6"/>
<rect x="195.64" y="160.2" width="9.86" height="1.9" fill="#f3f4f8"/>
<rect x="23.6" y="161.8" width="9.86" height="1.9" fill="#d7d9e8"/>
<rect x="33.16" y="161.8" width="9.86" height="1.9" fill="#d6d8e8"/>
<rect x="42.72" y="161.8" width="9.86" height="1.9" fill="#dcdeeb"/>
<rect x="52.27" y="161.8" width="9.86" height="1.9" fill="#e2e3ee"/>
<rect x="61.83" y="161.8" width="9.86" height="1.9" fill="#dfe0ed"/>
<rect x="71.39" y="161.8" width="9.86" height="1.9" fill="#f9f9fb"/>
<rect x="80.95" y="161.8" width="9.86" height="1.9" fill="#f1f1f7"/>
<rect x="90.51" y="161.8" width="9.86" height="1.9" fill="#f8f9fb"/>
<rect x="100.06" y="161.8" width="9.86" height="1.9" fill="#f6f6fa"/>
<rect x="109.62" y="161.8" width="9.86" height="1.9" fill="#f4f5f9"/>
<rect x="119.18" y="161.8" width="9.86" height="1.9" fill="#f4f5f9"/>
<rect x="128.74" y="161.8" width="9.86" height="1.9" fill="#f7f8fa"/>
<rect x="138.29" y="161.8" width="9.86" height="1.9" fill="#f9f9fb"/>
<rect x="147.85" y="161.8" width="9.86" height="1.9" fill="#e7e8f1"/>
<rect x="157.41" y="161.8" width="9.86" height="1.9" fill="#f5f5f9"/>
<rect x="166.97" y="161.8" width="9.86" height="1.9" fill="#e8e9f2"/>
<rect x="176.53" y="161.8" width="9.86" height="1.9" fill="#f0f1f6"/>
<rect x="186.08" y="161.8" width="9.86" height="1.9" fill="#e5e7f0"/>
<rect x="195.64" y="161.8" width="9.86" height="1.9" fill="#f2f2f7"/>
<rect x="23.6" y="163.4" width="9.86" height="3.5" fill="#e4e5ef"/>
<rect x="33.16" y="163.4" width="9.86" height="3.5" fill="#dcdeeb"/>
<rect x="42.72" y="163.4" width="9.86" height="3.5" fill="#e7e8f1"/>
<rect x="52.27" y="163.4" width="9.86" height="3.5" fill="#eff0f6"/>
<rect x="61.83" y="163.4" width="9.86" height="3.5" fill="#ced1e3"/>
<rect x="71.39" y="163.4" width="9.86" height="3.5" fill="#f6f7fa"/>
<rect x="80.95" y="163.4" width="9.86" height="3.5" fill="#f7f7fa"/>
<rect x="90.51" y="163.4" width="9.86" height="3.5" fill="#f7f8fa"/>
<rect x="100.06" y="163.4" width="9.86" height="3.5" fill="#f5f6f9"/>
<rect x="109.62" y="163.4" width="9.86" height="3.5" fill="#f6f6fa"/>
<rect x="119.18" y="163.4" width="9.86" height="3.5" fill="#f3f4f8"/>
<rect x="128.74" y="163.4" width="9.86" height="3.5" fill="#f3f4f8"/>
<rect x="138.29" y="163.4" width="9.86" height="3.5" fill="#f7f7fa"/>
<rect x="147.85" y="163.4" width="9.86" height="3.5" fill="#d3d6e6"/>
<rect x="157.41" y="163.4" width="9.86" height="3.5" fill="#dee0ec"/>
<rect x="166.97" y="163.4" width="9.86" height="3.5" fill="#f5f5f9"/>
<rect x="176.53" y="163.4" width="9.86" height="3.5" fill="#dfe0ed"/>
<rect x="186.08" y="163.4" width="9.86" height="3.5" fill="#dddeeb"/>
<rect x="195.64" y="163.4" width="9.86" height="3.5" fill="#e0e2ed"/>
<rect x="23.6" y="166.6" width="9.86" height="3.5" fill="#d5d7e7"/>
<rect x="33.16" y="166.6" width="9.86" height="3.5" fill="#dcdeeb"/>
<rect x="42.72" y="166.6" width="9.86" height="3.5" fill="#f2f3f7"/>
<rect x="52.27" y="166.6" width="9.86" height="3.5" fill="#f2f3f7"/>
<rect x="61.83" y="166.6" width="9.86" height="3.5" fill="#d0d3e4"/>
<rect x="71.39" y="166.6" width="9.86" height="3.5" fill="#f4f4f8"/>
<rect x="80.95" y="166.6" width="9.86" height="3.5" fill="#f8f9fb"/>
<rect x="90.51" y="166.6" width="9.86" height="3.5" fill="#fbfbfc"/>
<rect x="100.06" y="166.6" width="9.86" height="3.5" fill="#fafafc"/>
<rect x="109.62" y="166.6" width="9.86" height="3.5" fill="#f9fafc"/>
<rect x="119.18" y="166.6" width="9.86" height="3.5" fill="#f4f5f9"/>
<rect x="128.74" y="166.6" width="9.86" height="3.5" fill="#f8f9fb"/>
<rect x="138.29" y="166.6" width="9.86" height="3.5" fill="#fafafc"/>
<rect x="147.85" y="166.6" width="9.86" height="3.5" fill="#dddfec"/>
<rect x="157.41" y="166.6" width="9.86" height="3.5" fill="#e6e7f1"/>
<rect x="166.97" y="166.6" width="9.86" height="3.5" fill="#f5f5f9"/>
<rect x="176.53" y="166.6" width="9.86" height="3.5" fill="#e4e5f0"/>
<rect x="186.08" y="166.6" width="9.86" height="3.5" fill="#eaebf3"/>
<rect x="195.64" y="166.6" width="9.86" height="3.5" fill="#e6e8f1"/>
<rect x="23.6" y="169.8" width="9.86" height="1.9" fill="#b8bcd7"/>
<rect x="33.16" y="169.8" width="9.86" height="1.9" fill="#bec2da"/>
<rect x="42.72" y="169.8" width="9.86" height="1.9" fill="#bbbfd9"/>
<rect x="52.27" y="169.8" width="9.86" height="1.9" fill="#e0e2ed"/>
<rect x="61.83" y="169.8" width="9.86" height="1.9" fill="#c4c7dd"/>
<rect x="71.39" y="169.8" width="9.86" height="1.9" fill="#f0f0f6"/>
<rect x="80.95" y="169.8" width="9.86" height="1.9" fill="#ecedf4"/>
<rect x="90.51" y="169.8" width="9.86" height="1.9" fill="#f3f4f8"/>
<rect x="100.06" y="169.8" width="9.86" height="1.9" fill="#edeef5"/>
<rect x="109.62" y="169.8" width="9.86" height="1.9" fill="#f2f2f7"/>
<rect x="119.18" y="169.8" width="9.86" height="1.9" fill="#f6f6fa"/>
<rect x="128.74" y="169.8" width="9.86" height="1.9" fill="#f6f7fa"/>
<rect x="138.29" y="169.8" width="9.86" height="1.9" fill="#f8f8fb"/>
<rect x="147.85" y="169.8" width="9.86" height="1.9" fill="#dbddea"/>
<rect x="157.41" y="169.8" width="9.86" height="1.9" fill="#f1f2f7"/>
<rect x="166.97" y="169.8" width="9.86" height="1.9" fill="#e5e7f0"/>
<rect x="176.53" y="169.8" width="9.86" height="1.9" fill="#eeeff5"/>
<rect x="186.08" y="169.8" width="9.86" height="1.9" fill="#e2e4ee"/>
<rect x="195.64" y="169.8" width="9.86" height="1.9" fill="#e2e3ee"/>
<rect x="23.6" y="171.4" width="9.86" height="1.9" fill="#c0c3db"/>
<rect x="33.16" y="171.4" width="9.86" height="1.9" fill="#edeef5"/>
<rect x="42.72" y="171.4" width="9.86" height="1.9" fill="#c1c5dc"/>
<rect x="52.27" y="171.4" width="9.86" height="1.9" fill="#d5d7e7"/>
<rect x="61.83" y="171.4" width="9.86" height="1.9" fill="#d0d2e4"/>
<rect x="71.39" y="171.4" width="9.86" height="1.9" fill="#eff0f6"/>
<rect x="80.95" y="171.4" width="9.86" height="1.9" fill="#ecedf4"/>
<rect x="90.51" y="171.4" width="9.86" height="1.9" fill="#f5f6f9"/>
<rect x="100.06" y="171.4" width="9.86" height="1.9" fill="#f5f5f9"/>
<rect x="109.62" y="171.4" width="9.86" height="1.9" fill="#eeeff5"/>
<rect x="119.18" y="171.4" width="9.86" height="1.9" fill="#f9f9fb"/>
<rect x="128.74" y="171.4" width="9.86" height="1.9" fill="#f2f3f7"/>
<rect x="138.29" y="171.4" width="9.86" height="1.9" fill="#f2f3f7"/>
<rect x="147.85" y="171.4" width="9.86" height="1.9" fill="#f0f1f7"/>
<rect x="157.41" y="171.4" width="9.86" height="1.9" fill="#e1e3ee"/>
<rect x="166.97" y="171.4" width="9.86" height="1.9" fill="#e1e3ee"/>
<rect x="176.53" y="171.4" width="9.86" height="1.9" fill="#d7d9e8"/>
<rect x="186.08" y="171.4" width="9.86" height="1.9" fill="#eaebf3"/>
<rect x="195.64" y="171.4" width="9.86" height="1.9" fill="#d5d8e7"/>
<rect x="23.6" y="173" width="9.86" height="1.9" fill="#d5d7e7"/>
<rect x="33.16" y="173" width="9.86" height="1.9" fill="#c0c3db"/>
<rect x="42.72" y="173" width="9.86" height="1.9" fill="#ecedf4"/>
<rect x="52.27" y="173" width="9.86" height="1.9" fill="#c9cce0"/>
<rect x="61.83" y="173" width="9.86" height="1.9" fill="#ced0e3"/>
<rect x="71.39" y="173" width="9.86" height="1.9" fill="#f4f5f9"/>
<rect x="80.95" y="173" width="9.86" height="1.9" fill="#ecedf4"/>
<rect x="90.51" y="173" width="9.86" height="1.9" fill="#f6f6f9"/>
<rect x="100.06" y="173" width="9.86" height="1.9" fill="#f4f5f9"/>
<rect x="109.62" y="173" width="9.86" height="1.9" fill="#f4f4f8"/>
<rect x="119.18" y="173" width="9.86" height="1.9" fill="#f0f1f7"/>
<rect x="128.74" y="173" width="9.86" height="1.9" fill="#f8f8fb"/>
<rect x="138.29" y="173" width="9.86" height="1.9" fill="#f5f5f9"/>
<rect x="147.85" y="173" width="9.86" height="1.9" fill="#e2e3ee"/>
<rect x="157.41" y="173" width="9.86" height="1.9" fill="#e3e5ef"/>
<rect x="166.97" y="173" width="9.86" height="1.9" fill="#dee0ec"/>
<rect x="176.53" y="173" width="9.86" height="1.9" fill="#ebecf4"/>
<rect x="186.08" y="173" width="9.86" height="1.9" fill="#dbddea"/>
<rect x="195.64" y="173" width="9.86" height="1.9" fill="#e8e9f2"/>
<rect x="23.6" y="174.6" width="9.86" height="3.5" fill="#e0e1ed"/>
<rect x="33.16" y="174.6" width="9.86" height="3.5" fill="#d4d6e6"/>
<rect x="42.72" y="174.6" width="9.86" height="3.5" fill="#bcc0d9"/>
<rect x="52.27" y="174.6" width="9.86" height="3.5" fill="#cccfe2"/>
<rect x="61.83" y="174.6" width="9.86" height="3.5" fill="#c5c8de"/>
<rect x="71.39" y="174.6" width="9.86" height="3.5" fill="#f4f5f9"/>
<rect x="80.95" y="174.6" width="9.86" height="3.5" fill="#f5f5f9"/>
<rect x="90.51" y="174.6" width="9.86" height="3.5" fill="#f6f7fa"/>
<rect x="100.06" y="174.6" width="9.86" height="3.5" fill="#f3f3f8"/>
<rect x="109.62" y="174.6" width="9.86" height="3.5" fill="#f2f3f8"/>
<rect x="119.18" y="174.6" width="9.86" height="3.5" fill="#f0f1f7"/>
<rect x="128.74" y="174.6" width="9.86" height="3.5" fill="#fafafc"/>
<rect x="138.29" y="174.6" width="9.86" height="3.5" fill="#f1f2f7"/>
<rect x="147.85" y="174.6" width="9.86" height="3.5" fill="#d0d3e4"/>
<rect x="157.41" y="174.6" width="9.86" height="3.5" fill="#e4e5ef"/>
<rect x="166.97" y="174.6" width="9.86" height="3.5" fill="#f4f4f8"/>
<rect x="176.53" y="174.6" width="9.86" height="3.5" fill="#ebecf4"/>
<rect x="186.08" y="174.6" width="9.86" height="3.5" fill="#f4f5f9"/>
<rect x="195.64" y="174.6" width="9.86" height="3.5" fill="#efeff6"/>
<rect x="23.6" y="177.8" width="9.86" height="0.7" fill="#bfc2db"/>
<rect x="33.16" y="177.8" width="9.86" height="0.7" fill="#bbbfd9"/>
<rect x="42.72" y="177.8" width="9.86" height="0.7" fill="#b3b7d4"/>
<rect x="52.27" y="177.8" width="9.86" height="0.7" fill="#aaafcf"/>
<rect x="61.83" y="177.8" width="9.86" height="0.7" fill="#bfc2da"/>
<rect x="71.39" y="177.8" width="9.86" height="0.7" fill="#ebecf4"/>
<rect x="80.95" y="177.8" width="9.86" height="0.7" fill="#ebecf4"/>
<rect x="90.51" y="177.8" width="9.86" height="0.7" fill="#edeef5"/>
<rect x="100.06" y="177.8" width="9.86" height="0.7" fill="#eff0f6"/>
<rect x="109.62" y="177.8" width="9.86" height="0.7" fill="#edeef5"/>
<rect x="119.18" y="177.8" width="9.86" height="0.7" fill="#f5f6f9"/>
<rect x="128.74" y="177.8" width="9.86" height="0.7" fill="#eeeef5"/>
<rect x="138.29" y="177.8" width="9.86" height="0.7" fill="#f1f2f7"/>
<rect x="147.85" y="177.8" width="9.86" height="0.7" fill="#c7cadf"/>
<rect x="157.41" y="177.8" width="9.86" height="0.7" fill="#edeef5"/>
<rect x="166.97" y="177.8" width="9.86" height="0.7" fill="#ebecf4"/>
<rect x="176.53" y="177.8" width="9.86" height="0.7" fill="#eff0f6"/>
<rect x="186.08" y="177.8" width="9.86" height="0.7" fill="#d2d4e5"/>
<rect x="195.64" y="177.8" width="9.86" height="0.7" fill="#cccfe2"/>
<rect x="147.85" y="122.6" width="9.56" height="1.8" fill="#3b3f8c"/>
</g>
<path d="M43.3 16.6L110.8 16.6M43.3 16.6L43.3 22.3M110.8 16.6L110.8 21M33.2 22.3L55 22.3M33.2 22.3L33.2 24.3M28.5 24.3L38 24.3M28.5 24.3L28.5 30.6M38 24.3L38 30.6M55 22.3L55 23.5M48 23.5L62 23.5M48 23.5L48 30.6M62 23.5L62 24.6M57.1 24.6L66.7 24.6M57.1 24.6L57.1 30.6M66.7 24.6L66.7 30.6M80.9 21L150 21M80.9 21L80.9 26.2M76.2 26.2L85.8 26.2M76.2 26.2L76.2 30.6M85.8 26.2L85.8 30.6M150 21L150 21.6M116.5 21.6L181 21.6M116.5 21.6L116.5 24.2M102 24.2L128 24.2M102 24.2L102 24.8M95.3 24.8L109.7 24.8M95.3 24.8L95.3 30.6M109.7 24.8L109.7 25.6M104.9 25.6L114.4 25.6M104.9 25.6L104.9 30.6M114.4 25.6L114.4 30.6M128 24.2L128 26.4M124 26.4L138 26.4M124 26.4L124 30.6M138 26.4L138 27M133.5 27L143.1 27M133.5 27L133.5 30.6M143.1 27L143.1 30.6M181 21.6L181 22.7M152.6 22.7L196 22.7M152.6 22.7L152.6 30.6M196 22.7L196 23.4M172 23.4L200 23.4M172 23.4L172 24.4M162.2 24.4L171.8 24.4M162.2 24.4L162.2 30.6M171.8 24.4L171.8 30.6M200 23.4L200 24.4M181.3 24.4L200.4 24.4M181.3 24.4L181.3 30.6M190.8 24.4L190.8 30.6M200.4 24.4L200.4 30.6" fill="none" stroke="#222" stroke-width="0.9"/>
<path d="M10 79.3L10 135.9M10 79.3L17.2 79.3M10 135.9L21.5 135.9M17.2 56L17.2 102.8M17.2 56L19.5 56M17.2 102.8L21.5 102.8" fill="none" stroke="#222" stroke-width="0.9"/>
<path d="M21.8 30.6 L23.8 30.6 L23.8 178.2 L22.6 178.2 L22.4 150 L21.6 128 L22.2 110 L22.2 75 L20.2 62 L20.6 52 L21.4 40 Z" fill="#1a1a1a" stroke="none" stroke-width="1"/>
<path d="M19.5 52 L19.5 70 L21 70" fill="none" stroke="#333" stroke-width="0.8"/>
<rect x="208.4" y="32.2" width="5.6" height="1.16" fill="#961226"/>
<rect x="208.4" y="33.16" width="5.6" height="1.16" fill="#9b1e31"/>
<rect x="208.4" y="34.12" width="5.6" height="1.16" fill="#a02a3c"/>
<rect x="208.4" y="35.09" width="5.6" height="1.16" fill="#a63647"/>
<rect x="208.4" y="36.05" width="5.6" height="1.16" fill="#ab4252"/>
<rect x="208.4" y="37.01" width="5.6" height="1.16" fill="#b04e5d"/>
<rect x="208.4" y="37.98" width="5.6" height="1.16" fill="#b65a68"/>
<rect x="208.4" y="38.94" width="5.6" height="1.16" fill="#bb6773"/>
<rect x="208.4" y="39.9" width="5.6" height="1.16" fill="#c1737f"/>
<rect x="208.4" y="40.86" width="5.6" height="1.16" fill="#c67f8a"/>
<rect x="208.4" y="41.83" width="5.6" height="1.16" fill="#cb8b95"/>
<rect x="208.4" y="42.79" width="5.6" height="1.16" fill="#d197a0"/>
<rect x="208.4" y="43.75" width="5.6" height="1.16" fill="#d6a3ab"/>
<rect x="208.4" y="44.71" width="5.6" height="1.16" fill="#dcb0b6"/>
<rect x="208.4" y="45.68" width="5.6" height="1.16" fill="#e1bcc1"/>
<rect x="208.4" y="46.64" width="5.6" height="1.16" fill="#e6c8cc"/>
<rect x="208.4" y="47.6" width="5.6" height="1.16" fill="#ecd4d8"/>
<rect x="208.4" y="48.56" width="5.6" height="1.16" fill="#f1e0e3"/>
<rect x="208.4" y="49.53" width="5.6" height="1.16" fill="#f6ecee"/>
<rect x="208.4" y="50.49" width="5.6" height="1.16" fill="#fcf8f9"/>
<rect x="208.4" y="51.45" width="5.6" height="1.16" fill="#f9f9fb"/>
<rect x="208.4" y="52.41" width="5.6" height="1.16" fill="#ededf4"/>
<rect x="208.4" y="53.38" width="5.6" height="1.16" fill="#e1e2ed"/>
<rect x="208.4" y="54.34" width="5.6" height="1.16" fill="#d5d6e6"/>
<rect x="208.4" y="55.3" width="5.6" height="1.16" fill="#cacbdf"/>
<rect x="208.4" y="56.26" width="5.6" height="1.16" fill="#bec0d8"/>
<rect x="208.4" y="57.23" width="5.6" height="1.16" fill="#b2b4d2"/>
<rect x="208.4" y="58.19" width="5.6" height="1.16" fill="#a6a9cb"/>
<rect x="208.4" y="59.15" width="5.6" height="1.16" fill="#9b9dc4"/>
<rect x="208.4" y="60.11" width="5.6" height="1.16" fill="#8f92bd"/>
<rect x="208.4" y="61.08" width="5.6" height="1.16" fill="#8386b6"/>
<rect x="208.4" y="62.04" width="5.6" height="1.16" fill="#777baf"/>
<rect x="208.4" y="63" width="5.6" height="1.16" fill="#6c70a8"/>
<rect x="208.4" y="63.96" width="5.6" height="1.16" fill="#6064a1"/>
<rect x="208.4" y="64.93" width="5.6" height="1.16" fill="#54599a"/>
<rect x="208.4" y="65.89" width="5.6" height="1.16" fill="#484d93"/>
<rect x="208.4" y="66.85" width="5.6" height="1.16" fill="#3d428c"/>
<rect x="208.4" y="67.81" width="5.6" height="1.16" fill="#313685"/>
<rect x="208.4" y="68.78" width="5.6" height="1.16" fill="#252b7e"/>
<rect x="208.4" y="69.74" width="5.6" height="1.16" fill="#1a2078"/>
<rect x="208.4" y="32.2" width="5.6" height="38.5" fill="none" stroke="#333" stroke-width="0.6"/>
<line x1="214" y1="35.6" x2="215.5" y2="35.6" stroke="#444" stroke-width="0.6"/>
<line x1="214" y1="40.98" x2="215.5" y2="40.98" stroke="#444" stroke-width="0.6"/>
<line x1="214" y1="46.36" x2="215.5" y2="46.36" stroke="#444" stroke-width="0.6"/>
<line x1="214" y1="51.74" x2="215.5" y2="51.74" stroke="#444" stroke-width="0.6"/>
<line x1="214" y1="57.12" x2="215.5" y2="57.12" stroke="#444" stroke-width="0.6"/>
<line x1="214" y1="62.5" x2="215.5" y2="62.5" stroke="#444" stroke-width="0.6"/>
<line x1="214" y1="67.88" x2="215.5" y2="67.88" stroke="#444" stroke-width="0.6"/>
<text x="217.3" y="38.3" font-size="8" fill="#222" stroke="#222" stroke-width="0.1">3</text>
<text x="217.3" y="54.2" font-size="8" fill="#222" stroke="#222" stroke-width="0.1">0</text>
<text x="214.6" y="70.8" font-size="8" fill="#222" stroke="#222" stroke-width="0.1">-3</text>
<text x="208.3" y="82.4" font-size="8" fill="#222" stroke="#222" stroke-width="0.1">log2</text>
<text x="208.3" y="91.7" font-size="8" fill="#222" stroke="#222" stroke-width="0.1">fold</text>
<text x="208.3" y="100.9" font-size="8" fill="#222" stroke="#222" stroke-width="0.1">change</text>
<text x="32.3" y="184.6" font-size="8" font-weight="bold" fill="#b8262e" stroke="#b8262e" stroke-width="0.1" text-anchor="end" transform="rotate(-90 32.3 184.6)">ALL53</text>
<text x="41.85" y="184.6" font-size="8" font-weight="bold" fill="#b8262e" stroke="#b8262e" stroke-width="0.1" text-anchor="end" transform="rotate(-90 41.85 184.6)">ALL26</text>
<text x="51.4" y="184.6" font-size="8" font-weight="bold" fill="#b8262e" stroke="#b8262e" stroke-width="0.1" text-anchor="end" transform="rotate(-90 51.4 184.6)">ALL52</text>
<text x="60.95" y="184.6" font-size="8" font-weight="bold" fill="#b8262e" stroke="#b8262e" stroke-width="0.1" text-anchor="end" transform="rotate(-90 60.95 184.6)">ALL51</text>
<text x="70.5" y="184.6" font-size="8" font-weight="bold" fill="#b8262e" stroke="#b8262e" stroke-width="0.1" text-anchor="end" transform="rotate(-90 70.5 184.6)">ALL54</text>
<text x="80.05" y="184.6" font-size="8" font-weight="bold" fill="#b8262e" stroke="#b8262e" stroke-width="0.1" text-anchor="end" transform="rotate(-90 80.05 184.6)">HM149</text>
<text x="89.6" y="184.6" font-size="8" font-weight="bold" fill="#b8262e" stroke="#b8262e" stroke-width="0.1" text-anchor="end" transform="rotate(-90 89.6 184.6)">HM882</text>
<text x="99.15" y="184.6" font-size="8" font-weight="bold" fill="#b8262e" stroke="#b8262e" stroke-width="0.1" text-anchor="end" transform="rotate(-90 99.15 184.6)">HM2508</text>
<text x="108.7" y="184.6" font-size="8" font-weight="bold" fill="#b8262e" stroke="#b8262e" stroke-width="0.1" text-anchor="end" transform="rotate(-90 108.7 184.6)">HM2872</text>
<text x="118.25" y="184.6" font-size="8" font-weight="bold" fill="#111" stroke="#111" stroke-width="0.1" text-anchor="end" transform="rotate(-90 118.25 184.6)">KOPN–8</text>
<text x="127.8" y="184.6" font-size="8" font-weight="bold" fill="#111" stroke="#111" stroke-width="0.1" text-anchor="end" transform="rotate(-90 127.8 184.6)">KASUMI–2</text>
<text x="137.35" y="184.6" font-size="8" font-weight="bold" fill="#111" stroke="#111" stroke-width="0.1" text-anchor="end" transform="rotate(-90 137.35 184.6)">NALM–6</text>
<text x="146.9" y="184.6" font-size="8" font-weight="bold" fill="#111" stroke="#111" stroke-width="0.1" text-anchor="end" transform="rotate(-90 146.9 184.6)">c697</text>
<text x="156.45" y="184.6" font-size="8" font-weight="bold" fill="#b8262e" stroke="#b8262e" stroke-width="0.1" text-anchor="end" transform="rotate(-90 156.45 184.6)">HM3722</text>
<text x="166" y="184.6" font-size="8" font-weight="bold" fill="#111" stroke="#111" stroke-width="0.1" text-anchor="end" transform="rotate(-90 166 184.6)">RS4;11</text>
<text x="175.55" y="184.6" font-size="8" font-weight="bold" fill="#111" stroke="#111" stroke-width="0.1" text-anchor="end" transform="rotate(-90 175.55 184.6)">B1</text>
<text x="185.1" y="184.6" font-size="8" font-weight="bold" fill="#111" stroke="#111" stroke-width="0.1" text-anchor="end" transform="rotate(-90 185.1 184.6)">MHH–CALL4</text>
<text x="194.65" y="184.6" font-size="8" font-weight="bold" fill="#111" stroke="#111" stroke-width="0.1" text-anchor="end" transform="rotate(-90 194.65 184.6)">MUTZ–5</text>
<text x="204.2" y="184.6" font-size="8" font-weight="bold" fill="#111" stroke="#111" stroke-width="0.1" text-anchor="end" transform="rotate(-90 204.2 184.6)">SUP–B15</text>
<text x="237" y="16.9" font-size="11.2" font-weight="bold" fill="#111" stroke="#111" stroke-width="0.1">B</text>
<text x="245.6" y="26.1" font-size="8.1" font-weight="bold" fill="#222" stroke="#222" stroke-width="0.1">Physiological System Development and Function</text>
<text x="476.6" y="26.1" font-size="8" font-weight="bold" fill="#222" stroke="#222" stroke-width="0.1">P-value</text>
<rect x="245" y="34.4" width="266.3" height="1.3" fill="#333"/>
<rect x="245" y="101.9" width="266.3" height="1.3" fill="#333"/>
<text x="245.8" y="48.9" font-size="8" font-style="italic" fill="#333" stroke="#333" stroke-width="0.1">Connective Tissue Development</text>
<text x="476.6" y="48.9" font-size="8" fill="#333" stroke="#333" stroke-width="0.1">5.44e</text>
<text x="496.6" y="45.5" font-size="5.8" fill="#333" stroke="#333" stroke-width="0.1">−10</text>
<text x="245.8" y="59.95" font-size="8" font-style="italic" fill="#333" stroke="#333" stroke-width="0.1">Hematological System Development</text>
<text x="476.6" y="59.95" font-size="8" fill="#333" stroke="#333" stroke-width="0.1">1.37e</text>
<text x="496.6" y="56.55" font-size="5.8" fill="#333" stroke="#333" stroke-width="0.1">−9</text>
<text x="245.8" y="71" font-size="8" font-style="italic" fill="#333" stroke="#333" stroke-width="0.1">Tissue Morphology</text>
<text x="476.6" y="71" font-size="8" fill="#333" stroke="#333" stroke-width="0.1">1.37e</text>
<text x="496.6" y="67.6" font-size="5.8" fill="#333" stroke="#333" stroke-width="0.1">−9</text>
<text x="245.8" y="82.05" font-size="8" font-style="italic" fill="#333" stroke="#333" stroke-width="0.1">Hematopoiesis</text>
<text x="476.6" y="82.05" font-size="8" fill="#333" stroke="#333" stroke-width="0.1">5.13e</text>
<text x="496.6" y="78.65" font-size="5.8" fill="#333" stroke="#333" stroke-width="0.1">−9</text>
<text x="245.8" y="93.1" font-size="8" font-style="italic" fill="#333" stroke="#333" stroke-width="0.1">Lymphoid Tissue Structure and Development</text>
<text x="476.6" y="93.1" font-size="8" fill="#333" stroke="#333" stroke-width="0.1">5.13e</text>
<text x="496.6" y="89.7" font-size="5.8" fill="#333" stroke="#333" stroke-width="0.1">−9</text>
<text x="228.2" y="120.9" font-size="11.2" font-weight="bold" fill="#111" stroke="#111" stroke-width="0.1">C</text>
<text x="261" y="135.4" font-size="9.6" font-weight="bold" fill="#222" stroke="#222" stroke-width="0.1" text-anchor="middle">Lymphoid</text>
<text x="261.1" y="146.9" font-size="9.6" font-weight="bold" fill="#222" stroke="#222" stroke-width="0.1" text-anchor="middle">Progenitor</text>
<text x="344.2" y="135.4" font-size="9.6" font-weight="bold" fill="#222" stroke="#222" stroke-width="0.1" text-anchor="middle">Pro-B Cell</text>
<text x="428.6" y="135.3" font-size="9.6" font-weight="bold" fill="#222" stroke="#222" stroke-width="0.1" text-anchor="middle">Pre-B Cell</text>
<text x="495.4" y="183.8" font-size="9.6" font-weight="bold" fill="#222" stroke="#222" stroke-width="0.1" text-anchor="middle">Mature</text>
<text x="495.5" y="195.8" font-size="9.6" font-weight="bold" fill="#222" stroke="#222" stroke-width="0.1" text-anchor="middle">B Cell</text>
<ellipse cx="261.5" cy="222.7" rx="22.4" ry="2.4" fill="#c8474b" stroke="#6a1a1a" stroke-width="0.8"/>
<ellipse cx="345.8" cy="222.8" rx="22.0" ry="2.4" fill="#c8474b" stroke="#6a1a1a" stroke-width="0.8"/>
<text x="261.9" y="233.5" font-size="8.1" fill="#333" stroke="#333" stroke-width="0.1" text-anchor="middle">Stroma</text>
<text x="346" y="233.5" font-size="8.1" fill="#333" stroke="#333" stroke-width="0.1" text-anchor="middle">Stroma</text>
<ellipse cx="260.8" cy="187.0" rx="20.6" ry="26.4" fill="#f4c70a" stroke="#3a2a10" stroke-width="1.2"/>
<ellipse cx="263.8" cy="192.6" rx="12.6" ry="16.0" fill="#e08a22" stroke="#3a2a10" stroke-width="1.1"/>
<ellipse cx="344.6" cy="186.8" rx="20.9" ry="26.2" fill="#ebb21b" stroke="#3a2a10" stroke-width="1.2"/>
<ellipse cx="346.9" cy="192.6" rx="12.6" ry="16.0" fill="#e07f22" stroke="#3a2a10" stroke-width="1.1"/>
<ellipse cx="428.3" cy="186.8" rx="20.7" ry="26.3" fill="#e8961f" stroke="#3a2a10" stroke-width="1.2"/>
<ellipse cx="431.0" cy="192.4" rx="12.4" ry="15.3" fill="#d9505a" stroke="#4a1a10" stroke-width="1.3"/>
<path d="M259 211.0 L263.4 211.0 L263.4 221.8 L259 221.8 Z" fill="#fff" stroke="#111" stroke-width="1"/>
<rect x="259" y="210.6" width="4.4" height="5" fill="#111"/>
<path d="M343.3 211.0 L347.7 211.0 L347.7 221.8 L343.3 221.8 Z" fill="#fff" stroke="#111" stroke-width="1"/>
<rect x="343.3" y="210.6" width="4.4" height="5" fill="#111"/>
<line x1="265.3" y1="215.5" x2="288" y2="215.5" stroke="#55556e" stroke-width="1"/>
<line x1="318.5" y1="215.5" x2="341.5" y2="215.5" stroke="#55556e" stroke-width="1"/>
<text x="303.4" y="217.3" font-size="8.1" font-weight="bold" fill="#111" stroke="#111" stroke-width="0.1" text-anchor="middle">ITGA4</text>
<line x1="286.2" y1="176.6" x2="286.2" y2="183.5" stroke="#b0147a" stroke-width="1.5"/>
<path d="M283.3 178.2L286.2 171.6L289.1 178.2Z" fill="#b0147a" stroke="none" stroke-width="1"/>
<text x="292" y="181.9" font-size="7.9" font-style="italic" fill="#2e2e2e" stroke="#2e2e2e" stroke-width="0.1">IL7R</text>
<path d="M293.1 186.4L299.25 186.4L299.25 184.3L305.4 188.8L299.25 193.3L299.25 191.2L293.1 191.2Z" fill="#111" stroke="none" stroke-width="1"/>
<line x1="370.3" y1="171.6" x2="370.3" y2="179" stroke="#b0147a" stroke-width="1.5"/>
<path d="M367.4 173.2L370.3 166.6L373.2 173.2Z" fill="#b0147a" stroke="none" stroke-width="1"/>
<text x="376.1" y="170" font-size="8" font-style="italic" fill="#2e2e2e" stroke="#2e2e2e" stroke-width="0.1">PIK3CD</text>
<text x="376.1" y="180.8" font-size="8" font-style="italic" fill="#2e2e2e" stroke="#2e2e2e" stroke-width="0.1">BCL6</text>
<line x1="370.3" y1="198.4" x2="370.3" y2="205.6" stroke="#2e2d7e" stroke-width="1.5"/>
<path d="M367.4 204L370.3 210.6L373.2 204Z" fill="#2e2d7e" stroke="none" stroke-width="1"/>
<text x="376.1" y="203.6" font-size="8" font-style="italic" fill="#2e2e2e" stroke="#2e2e2e" stroke-width="0.1">IL7R</text>
<text x="376.1" y="213" font-size="8" font-style="italic" fill="#2e2e2e" stroke="#2e2e2e" stroke-width="0.1">ITGA4</text>
<path d="M384.2 186.3L390.35 186.3L390.35 184.2L396.5 188.7L390.35 193.2L390.35 191.1L384.2 191.1Z" fill="#111" stroke="none" stroke-width="1"/>
<line x1="451.6" y1="197.5" x2="451.6" y2="204.3" stroke="#2e2d7e" stroke-width="1.5"/>
<path d="M448.7 202.7L451.6 209.3L454.5 202.7Z" fill="#2e2d7e" stroke="none" stroke-width="1"/>
<text x="457.2" y="206.2" font-size="8" font-style="italic" fill="#2e2e2e" stroke="#2e2e2e" stroke-width="0.1">BCL6</text>
<path d="M460 186.3L466.3 186.3L466.3 184.2L472.6 188.7L466.3 193.2L466.3 191.1L460 191.1Z" fill="#111" stroke="none" stroke-width="1"/>
<circle cx="313.9" cy="168.0" r="4.5" fill="#f5e600" stroke="#3a2a10" stroke-width="1.2"/>
<rect x="320.3" y="170.0" width="9.0" height="5.0" fill="#be0a22" stroke="#5a1010" stroke-width="0.7" transform="rotate(28 324.8 172.5)"/>
<line x1="324.6" y1="160.8" x2="324.6" y2="168.5" stroke="#333" stroke-width="0.8"/>
<text x="324.4" y="159.6" font-size="8" font-weight="bold" fill="#222" stroke="#222" stroke-width="0.1" text-anchor="middle">IL7R</text>
<path d="M341.4 164.8 L345.5 169.0 L349.8 164.8 M345.5 169.0 L345.5 174.2" fill="none" stroke="#4a2c08" stroke-width="1.9"/>
<path d="M421.5 165.4 L421.5 155 L414.2 147.3 M424.8 165.4 L424.8 154.6 L432.3 147.3 M412.3 149.6 L419.2 156.2 M434.6 149.6 L427.3 156.2" fill="none" stroke="#111" stroke-width="1.4"/>
<line x1="429.2" y1="158" x2="437.3" y2="155.8" stroke="#333" stroke-width="0.8"/>
<text x="438.9" y="156.9" font-size="8" fill="#444" stroke="#444" stroke-width="0.1">BCR</text>
<text x="426.1" y="175" font-size="7.6" font-weight="bold" fill="#3a2206" stroke="#3a2206" stroke-width="0.1" text-anchor="middle">BCL6</text>
<ellipse cx="431.0" cy="184.7" rx="7.6" ry="3.7" fill="#fff" stroke="#3a0a0a" stroke-width="1.2"/>
<line x1="425.8" y1="177" x2="431.1" y2="184.5" stroke="#222" stroke-width="1.1"/>
<line x1="430.8" y1="188.4" x2="430.8" y2="193.4" stroke="#4a1a10" stroke-width="1.1"/>
<line x1="428.7" y1="193.4" x2="433.3" y2="193.4" stroke="#4a1a10" stroke-width="1.1"/>
<path d="M421.2 196.3 C424 196.0 426 196.6 428 197.0 M433 197.0 C436 196.6 438.5 197.2 440.6 198.4" fill="none" stroke="#4a1a10" stroke-width="0.8"/>
<ellipse cx="430.6" cy="197.9" rx="5.0" ry="2.1" fill="#3a1a06"/>
<text x="10.8" y="263.1" font-size="11.2" font-weight="bold" fill="#111" stroke="#111" stroke-width="0.1">D</text>
<text x="43.8" y="265.4" font-size="9.5" font-weight="bold" fill="#111" stroke="#111" stroke-width="0.1">ITGA4</text>
<rect x="44.4" y="297.2" width="1.5" height="72.4" fill="#111"/>
<rect x="44.4" y="297" width="217.9" height="1.4" fill="#111"/>
<rect x="41.8" y="297.15" width="2.8" height="1.1" fill="#111"/>
<text x="38.9" y="300.4" font-size="8" fill="#333" stroke="#333" stroke-width="0.1" text-anchor="end">0.0</text>
<rect x="41.8" y="320.95" width="2.8" height="1.1" fill="#111"/>
<text x="38.9" y="324.2" font-size="8" fill="#333" stroke="#333" stroke-width="0.1" text-anchor="end">−0.5</text>
<rect x="41.8" y="344.75" width="2.8" height="1.1" fill="#111"/>
<text x="38.9" y="348" font-size="8" fill="#333" stroke="#333" stroke-width="0.1" text-anchor="end">−1.0</text>
<rect x="41.8" y="368.55" width="2.8" height="1.1" fill="#111"/>
<text x="38.9" y="371.8" font-size="8" fill="#333" stroke="#333" stroke-width="0.1" text-anchor="end">−1.5</text>
<text x="16.7" y="334.9" font-size="8.7" fill="#222" stroke="#222" stroke-width="0.1" text-anchor="middle" transform="rotate(-90 16.7 334.9)">log2 fold change</text>
<rect x="53.5" y="298.3" width="10.3" height="25.5" fill="#3a4395"/>
<rect x="66.2" y="298.3" width="10.3" height="40.6" fill="#3a4395"/>
<rect x="78.9" y="298.3" width="10.3" height="25.6" fill="#3a4395"/>
<rect x="91.6" y="298.3" width="10.3" height="80.6" fill="#3a4395"/>
<rect x="104.3" y="298.3" width="10.3" height="75.5" fill="#3a4395"/>
<rect x="117" y="298.3" width="10.3" height="17.5" fill="#3a4395"/>
<rect x="129.7" y="298.3" width="10.3" height="15.5" fill="#3a4395"/>
<rect x="142.4" y="298.3" width="10.3" height="17.4" fill="#3a4395"/>
<rect x="155.1" y="298.3" width="10.3" height="5.4" fill="#3a4395"/>
<rect x="167.8" y="298.3" width="10.3" height="6.9" fill="#3a4395"/>
<rect x="180.5" y="298.3" width="10.3" height="6.5" fill="#3a4395"/>
<rect x="193.2" y="298.3" width="10.3" height="18.2" fill="#3a4395"/>
<rect x="205.9" y="298.3" width="10.3" height="28" fill="#3a4395"/>
<rect x="218.6" y="298.3" width="10.3" height="13.5" fill="#3a4395"/>
<rect x="231.3" y="298.3" width="10.3" height="25.5" fill="#3a4395"/>
<rect x="244" y="298.3" width="10.3" height="30.1" fill="#3a4395"/>
<text x="10.8" y="405.5" font-size="11.2" font-weight="bold" fill="#111" stroke="#111" stroke-width="0.1">E</text>
<text x="45.5" y="409.6" font-size="9.5" font-weight="bold" fill="#111" stroke="#111" stroke-width="0.1">IL7R</text>
<rect x="44.4" y="421.4" width="1.5" height="82" fill="#111"/>
<rect x="44.4" y="469.8" width="217.9" height="1.4" fill="#111"/>
<rect x="41.8" y="421.35" width="2.8" height="1.1" fill="#111"/>
<text x="38.9" y="424.6" font-size="8" fill="#333" stroke="#333" stroke-width="0.1" text-anchor="end">1.5</text>
<rect x="41.8" y="437.55" width="2.8" height="1.1" fill="#111"/>
<text x="38.9" y="440.8" font-size="8" fill="#333" stroke="#333" stroke-width="0.1" text-anchor="end">1.0</text>
<rect x="41.8" y="453.75" width="2.8" height="1.1" fill="#111"/>
<text x="38.9" y="457" font-size="8" fill="#333" stroke="#333" stroke-width="0.1" text-anchor="end">0.5</text>
<rect x="41.8" y="469.95" width="2.8" height="1.1" fill="#111"/>
<text x="38.9" y="473.2" font-size="8" fill="#333" stroke="#333" stroke-width="0.1" text-anchor="end">0.0</text>
<rect x="41.8" y="486.15" width="2.8" height="1.1" fill="#111"/>
<text x="38.9" y="489.4" font-size="8" fill="#333" stroke="#333" stroke-width="0.1" text-anchor="end">−0.5</text>
<rect x="41.8" y="502.35" width="2.8" height="1.1" fill="#111"/>
<text x="38.9" y="505.6" font-size="8" fill="#333" stroke="#333" stroke-width="0.1" text-anchor="end">−1.0</text>
<text x="16.7" y="462.2" font-size="8.7" fill="#222" stroke="#222" stroke-width="0.1" text-anchor="middle" transform="rotate(-90 16.7 462.2)">log2 fold change</text>
<rect x="53.5" y="471.1" width="10.3" height="24.7" fill="#3a4395"/>
<rect x="66.2" y="471.1" width="10.3" height="29.7" fill="#3a4395"/>
<rect x="78.9" y="460" width="10.3" height="9.9" fill="#c4091a"/>
<rect x="91.6" y="471.1" width="10.3" height="26.9" fill="#3a4395"/>
<rect x="104.3" y="471.1" width="10.3" height="28.4" fill="#3a4395"/>
<rect x="117" y="471.1" width="10.3" height="2.7" fill="#3a4395"/>
<rect x="129.7" y="471.1" width="10.3" height="23.5" fill="#3a4395"/>
<rect x="142.4" y="471.1" width="10.3" height="3.5" fill="#3a4395"/>
<rect x="155.1" y="471.1" width="10.3" height="11.8" fill="#3a4395"/>
<rect x="167.8" y="471.1" width="10.3" height="27.5" fill="#3a4395"/>
<rect x="180.5" y="471.1" width="10.3" height="26.6" fill="#3a4395"/>
<rect x="193.2" y="471.1" width="10.3" height="18.3" fill="#3a4395"/>
<rect x="205.9" y="471.1" width="10.3" height="11.2" fill="#3a4395"/>
<rect x="218.6" y="471.1" width="10.3" height="22" fill="#3a4395"/>
<rect x="231.3" y="420.8" width="10.3" height="49.1" fill="#c4091a"/>
<rect x="244" y="471.1" width="10.3" height="31.8" fill="#3a4395"/>
<text x="11.4" y="548" font-size="11.2" font-weight="bold" fill="#111" stroke="#111" stroke-width="0.1">F</text>
<text x="44.6" y="551.4" font-size="9.5" font-weight="bold" fill="#111" stroke="#111" stroke-width="0.1">BCL6</text>
<rect x="44.4" y="563.2" width="1.5" height="79" fill="#111"/>
<rect x="44.4" y="582.5" width="217.9" height="1.4" fill="#111"/>
<rect x="41.8" y="563.15" width="2.8" height="1.1" fill="#111"/>
<text x="38.9" y="566.4" font-size="8" fill="#333" stroke="#333" stroke-width="0.1" text-anchor="end">0.5</text>
<rect x="41.8" y="582.65" width="2.8" height="1.1" fill="#111"/>
<text x="38.9" y="585.9" font-size="8" fill="#333" stroke="#333" stroke-width="0.1" text-anchor="end">0.0</text>
<rect x="41.8" y="602.15" width="2.8" height="1.1" fill="#111"/>
<text x="38.9" y="605.4" font-size="8" fill="#333" stroke="#333" stroke-width="0.1" text-anchor="end">−0.5</text>
<rect x="41.8" y="621.65" width="2.8" height="1.1" fill="#111"/>
<text x="38.9" y="624.9" font-size="8" fill="#333" stroke="#333" stroke-width="0.1" text-anchor="end">−1.0</text>
<rect x="41.8" y="641.15" width="2.8" height="1.1" fill="#111"/>
<text x="38.9" y="644.4" font-size="8" fill="#333" stroke="#333" stroke-width="0.1" text-anchor="end">−1.5</text>
<text x="16.7" y="602.9" font-size="8.7" fill="#222" stroke="#222" stroke-width="0.1" text-anchor="middle" transform="rotate(-90 16.7 602.9)">log2 fold change</text>
<rect x="53.5" y="583.8" width="10.3" height="27" fill="#3a4395"/>
<rect x="66.2" y="583.8" width="10.3" height="25" fill="#3a4395"/>
<rect x="78.9" y="583.8" width="10.3" height="16.7" fill="#3a4395"/>
<rect x="91.6" y="583.8" width="10.3" height="4" fill="#3a4395"/>
<rect x="104.3" y="583.8" width="10.3" height="23.5" fill="#3a4395"/>
<rect x="117" y="583.8" width="10.3" height="0.8" fill="#3a4395"/>
<rect x="129.7" y="583.8" width="10.3" height="22.2" fill="#3a4395"/>
<rect x="142.4" y="583.8" width="10.3" height="22.2" fill="#3a4395"/>
<rect x="155.1" y="583.8" width="10.3" height="11.4" fill="#3a4395"/>
<rect x="180.5" y="581.4" width="10.3" height="1.2" fill="#c4091a"/>
<rect x="193.2" y="583.8" width="10.3" height="37.9" fill="#3a4395"/>
<rect x="205.9" y="583.8" width="10.3" height="41.6" fill="#3a4395"/>
<rect x="218.6" y="562.3" width="10.3" height="20.3" fill="#c4091a"/>
<rect x="231.3" y="583.8" width="10.3" height="17.6" fill="#3a4395"/>
<rect x="244" y="583.8" width="10.3" height="60" fill="#3a4395"/>
<text x="59.95" y="292.6" font-size="8" font-weight="bold" fill="#b8262e" stroke="#b8262e" stroke-width="0.1" transform="rotate(-45 59.95 292.6)">ALL26</text>
<text x="72.65" y="292.6" font-size="8" font-weight="bold" fill="#b8262e" stroke="#b8262e" stroke-width="0.1" transform="rotate(-45 72.65 292.6)">ALL51</text>
<text x="85.35" y="292.6" font-size="8" font-weight="bold" fill="#b8262e" stroke="#b8262e" stroke-width="0.1" transform="rotate(-45 85.35 292.6)">ALL52</text>
<text x="98.05" y="292.6" font-size="8" font-weight="bold" fill="#b8262e" stroke="#b8262e" stroke-width="0.1" transform="rotate(-45 98.05 292.6)">ALL53</text>
<text x="110.75" y="292.6" font-size="8" font-weight="bold" fill="#b8262e" stroke="#b8262e" stroke-width="0.1" transform="rotate(-45 110.75 292.6)">ALL54</text>
<text x="123.45" y="292.6" font-size="8" fill="#333" stroke="#333" stroke-width="0.1" transform="rotate(-45 123.45 292.6)">c697</text>
<text x="136.15" y="292.6" font-size="8" fill="#333" stroke="#333" stroke-width="0.1" transform="rotate(-45 136.15 292.6)">B1</text>
<text x="148.85" y="292.6" font-size="8" fill="#333" stroke="#333" stroke-width="0.1" transform="rotate(-45 148.85 292.6)">KASUMI–2</text>
<text x="161.55" y="292.6" font-size="8" fill="#333" stroke="#333" stroke-width="0.1" transform="rotate(-45 161.55 292.6)">KOPN–8</text>
<text x="174.25" y="292.6" font-size="8" fill="#333" stroke="#333" stroke-width="0.1" transform="rotate(-45 174.25 292.6)">MHH–CALL4</text>
<text x="186.95" y="292.6" font-size="8" fill="#333" stroke="#333" stroke-width="0.1" transform="rotate(-45 186.95 292.6)">MUTZ–5</text>
<text x="199.65" y="292.6" font-size="8" fill="#333" stroke="#333" stroke-width="0.1" transform="rotate(-45 199.65 292.6)">NALM–6</text>
<text x="212.35" y="292.6" font-size="8" fill="#333" stroke="#333" stroke-width="0.1" transform="rotate(-45 212.35 292.6)">RS4;11</text>
<text x="225.05" y="292.6" font-size="8" fill="#333" stroke="#333" stroke-width="0.1" transform="rotate(-45 225.05 292.6)">SUP–B15</text>
<text x="237.75" y="292.6" font-size="8" font-weight="bold" fill="#b8262e" stroke="#b8262e" stroke-width="0.1" transform="rotate(-45 237.75 292.6)">HM2872</text>
<text x="250.45" y="292.6" font-size="8" font-weight="bold" fill="#b8262e" stroke="#b8262e" stroke-width="0.1" transform="rotate(-45 250.45 292.6)">HM3722</text>
<text x="277" y="268" font-size="8" fill="#222" stroke="#222" stroke-width="0.1">Chr2</text>
<rect x="304.5" y="264.75" width="190.5" height="1.5" fill="#111"/>
<rect x="304" y="263" width="1" height="2.5" fill="#111"/>
<rect x="494" y="263.5" width="1.5" height="3" fill="#111"/>
<rect x="306.1" y="262.5" width="0.8" height="3" fill="#111"/>
<text x="307.9" y="257.2" font-size="8" fill="#333" stroke="#333" stroke-width="0.1" text-anchor="middle">182.32</text>
<rect x="354.4" y="262.5" width="0.8" height="3" fill="#111"/>
<text x="356.2" y="257.2" font-size="8" fill="#333" stroke="#333" stroke-width="0.1" text-anchor="middle">182.34</text>
<rect x="402.2" y="262.5" width="0.8" height="3" fill="#111"/>
<text x="404" y="257.2" font-size="8" fill="#333" stroke="#333" stroke-width="0.1" text-anchor="middle">182.36</text>
<rect x="449.9" y="262.5" width="0.8" height="3" fill="#111"/>
<text x="451.7" y="257.2" font-size="8" fill="#333" stroke="#333" stroke-width="0.1" text-anchor="middle">182.38</text>
<text x="489.5" y="257" font-size="8" fill="#333" stroke="#333" stroke-width="0.1">(mb)</text>
<rect x="311.5" y="277.1" width="185.5" height="1" fill="#111"/>
<rect x="311.5" y="274.6" width="2.6" height="6" fill="#111"/>
<rect x="354.1" y="274.6" width="1.4" height="6" fill="#111"/>
<rect x="362.4" y="274.6" width="1.4" height="6" fill="#111"/>
<rect x="365.6" y="274.6" width="1.4" height="6" fill="#111"/>
<rect x="370.1" y="274.6" width="1.4" height="6" fill="#111"/>
<rect x="372" y="274.6" width="1.4" height="6" fill="#111"/>
<rect x="380.1" y="274.6" width="1.4" height="6" fill="#111"/>
<rect x="400.55" y="274.6" width="1.5" height="6" fill="#111"/>
<rect x="402.85" y="274.6" width="1.5" height="6" fill="#111"/>
<rect x="409.8" y="274.6" width="1.4" height="6" fill="#111"/>
<rect x="435.9" y="274.6" width="1.4" height="6" fill="#111"/>
<rect x="439.7" y="274.6" width="1.4" height="6" fill="#111"/>
<rect x="466.2" y="274.6" width="1.4" height="6" fill="#111"/>
<rect x="469.5" y="274.6" width="1.4" height="6" fill="#111"/>
<rect x="472.2" y="274.6" width="1.4" height="6" fill="#111"/>
<rect x="478.3" y="274.6" width="1.4" height="6" fill="#111"/>
<rect x="482.8" y="274.6" width="1.4" height="6" fill="#111"/>
<rect x="485.5" y="274.6" width="1.4" height="6" fill="#111"/>
<rect x="488.3" y="274.6" width="1.4" height="6" fill="#111"/>
<rect x="493.1" y="274.6" width="2.6" height="6" fill="#111"/>
<path d="M320.4 275.8L322.6 277.6L320.4 279.4" fill="none" stroke="#111" stroke-width="1.1"/>
<path d="M329.2 275.8L331.4 277.6L329.2 279.4" fill="none" stroke="#111" stroke-width="1.1"/>
<path d="M337.8 275.8L340 277.6L337.8 279.4" fill="none" stroke="#111" stroke-width="1.1"/>
<path d="M346.5 275.8L348.7 277.6L346.5 279.4" fill="none" stroke="#111" stroke-width="1.1"/>
<path d="M375.3 275.8L377.5 277.6L375.3 279.4" fill="none" stroke="#111" stroke-width="1.1"/>
<path d="M384 275.8L386.2 277.6L384 279.4" fill="none" stroke="#111" stroke-width="1.1"/>
<path d="M392.6 275.8L394.8 277.6L392.6 279.4" fill="none" stroke="#111" stroke-width="1.1"/>
<path d="M412.2 275.8L414.4 277.6L412.2 279.4" fill="none" stroke="#111" stroke-width="1.1"/>
<path d="M421.7 275.8L423.9 277.6L421.7 279.4" fill="none" stroke="#111" stroke-width="1.1"/>
<path d="M431 275.8L433.2 277.6L431 279.4" fill="none" stroke="#111" stroke-width="1.1"/>
<path d="M443.2 275.8L445.4 277.6L443.2 279.4" fill="none" stroke="#111" stroke-width="1.1"/>
<path d="M452 275.8L454.2 277.6L452 279.4" fill="none" stroke="#111" stroke-width="1.1"/>
<path d="M460.9 275.8L463.1 277.6L460.9 279.4" fill="none" stroke="#111" stroke-width="1.1"/>
<rect x="496.8" y="274.9" width="6.6" height="5.4" fill="#f0d000" stroke="#111" stroke-width="0.8"/>
<text x="382.3" y="292" font-size="9.4" font-weight="bold" fill="#111" stroke="#111" stroke-width="0.1">ITGA4</text>
<rect x="297.85" y="279" width="1.3" height="49.3" fill="#2e3a8c"/>
<rect x="297.85" y="332.1" width="1.3" height="48.8" fill="#111"/>
<rect x="295.3" y="327.35" width="3" height="0.9" fill="#2e3a8c"/>
<text x="291.9" y="329.5" font-size="8" fill="#4e4e72" stroke="#4e4e72" stroke-width="0.1" text-anchor="end">0</text>
<rect x="295.3" y="379.95" width="3" height="0.9" fill="#111"/>
<text x="291.9" y="383.3" font-size="8" fill="#333" stroke="#333" stroke-width="0.1" text-anchor="end">0</text>
<rect x="295.3" y="311.25" width="3" height="0.9" fill="#2e3a8c"/>
<text x="291.9" y="314.6" font-size="8" fill="#4e4e72" stroke="#4e4e72" stroke-width="0.1" text-anchor="end">1</text>
<rect x="295.3" y="364.02" width="3" height="0.9" fill="#111"/>
<text x="291.9" y="367.37" font-size="8" fill="#333" stroke="#333" stroke-width="0.1" text-anchor="end">1</text>
<rect x="295.3" y="295.15" width="3" height="0.9" fill="#2e3a8c"/>
<text x="291.9" y="298.5" font-size="8" fill="#4e4e72" stroke="#4e4e72" stroke-width="0.1" text-anchor="end">2</text>
<rect x="295.3" y="348.08" width="3" height="0.9" fill="#111"/>
<text x="291.9" y="351.43" font-size="8" fill="#333" stroke="#333" stroke-width="0.1" text-anchor="end">2</text>
<rect x="295.3" y="279.05" width="3" height="0.9" fill="#2e3a8c"/>
<text x="291.9" y="282.4" font-size="8" fill="#4e4e72" stroke="#4e4e72" stroke-width="0.1" text-anchor="end">3</text>
<rect x="295.3" y="332.15" width="3" height="0.9" fill="#111"/>
<text x="291.9" y="335.5" font-size="8" fill="#333" stroke="#333" stroke-width="0.1" text-anchor="end">3</text>
<text x="281" y="303.65" font-size="8.6" fill="#4a56a0" stroke="#4a56a0" stroke-width="0.1" text-anchor="middle" transform="rotate(-90 281 303.65)">Sensitive</text>
<text x="281" y="356.5" font-size="8.6" fill="#222" stroke="#222" stroke-width="0.1" text-anchor="middle" transform="rotate(-90 281 356.5)">Resistant</text>
<path d="M300.5 328.4L300.5 325.83L301 325.47L301.5 324.9L302 324.85L302.5 324.78L303 324.66L303.5 324.89L304 323.34L304.5 319.41L305 314.56L305.5 313.94L306 318.78L306.5 323.01L307 324.75L307.5 324.55L308 324.92L308.5 323.49L309 321.73L309.5 320.08L310 321.75L310.5 321.63L311 318.06L311.5 311.91L312 310.9L312.5 317.23L313 322.48L313.5 325.48L314 325.28L314.5 325.15L315 324.74L315.5 324.41L316 323.56L316.5 322.71L317 321.62L317.5 321.89L318 323.04L318.5 323.45L319 323.79L319.5 323.83L320 323.85L320.5 324.18L321 324.5L321.5 324.69L322 325.01L322.5 324.69L323 324.74L323.5 322.11L324 318.85L324.5 314.53L325 318.31L325.5 322.24L326 324.79L326.5 324.41L327 324.48L327.5 324.12L328 324.31L328.5 324.72L329 324.58L329.5 324.36L330 324.46L330.5 324.44L331 324.06L331.5 323.1L332 323.01L332.5 323.86L333 324.45L333.5 325.03L334 325.34L334.5 324.91L335 325.09L335.5 324.91L336 324.87L336.5 325.01L337 324.41L337.5 324.26L338 323.57L338.5 323.53L339 323.97L339.5 324.55L340 324.97L340.5 324.64L341 324.38L341.5 324.59L342 324.28L342.5 324.59L343 324.67L343.5 324.36L344 324.3L344.5 324.69L345 324.27L345.5 324.58L346 323.04L346.5 320.23L347 317.42L347.5 320.53L348 323.36L348.5 325.29L349 325.05L349.5 325.14L350 324.92L350.5 324.94L351 324.88L351.5 324.44L352 324.49L352.5 324.45L353 324.19L353.5 324.54L354 324.83L354.5 324.44L355 324.22L355.5 324.51L356 324.78L356.5 324.54L357 324.19L357.5 324.53L358 324.18L358.5 323.97L359 324.04L359.5 324.24L360 324.64L360.5 325L361 324.52L361.5 324.75L362 324.54L362.5 324.75L363 324.44L363.5 324.4L364 324.61L364.5 324.86L365 324.62L365.5 324.95L366 325.08L366.5 324.91L367 324.54L367.5 324.46L368 324.67L368.5 324.31L369 324.61L369.5 325L370 325.08L370.5 325L371 325.25L371.5 325.34L372 325.26L372.5 325.03L373 325.21L373.5 325.17L374 324.7L374.5 324.29L375 324.23L375.5 324.17L376 324.2L376.5 324.59L377 324.96L377.5 325.25L378 324.75L378.5 324.55L379 324.18L379.5 324.67L380 324.54L380.5 324.56L381 324.38L381.5 324.58L382 324.18L382.5 324.62L383 324.57L383.5 324.38L384 324.11L384.5 324.04L385 324.01L385.5 323.92L386 323.75L386.5 324.07L387 324.05L387.5 323.86L388 323.74L388.5 324.02L389 323.92L389.5 323.8L390 323.93L390.5 323.99L391 324.24L391.5 324.26L392 324.25L392.5 324.67L393 324.53L393.5 324.15L394 323.95L394.5 323.92L395 324.18L395.5 324.09L396 324.15L396.5 324.3L397 324.1L397.5 324.55L398 324.36L398.5 324.79L399 324.66L399.5 324.65L400 324.85L400.5 324.62L401 324.62L401.5 324.51L402 324.19L402.5 324.49L403 324.9L403.5 324.98L404 324.74L404.5 324.94L405 325.11L405.5 324.65L406 324.51L406.5 324.57L407 324.26L407.5 324.48L408 324.37L408.5 324.67L409 324.7L409.5 324.42L410 324.13L410.5 323.94L411 324.19L411.5 324.22L412 324.46L412.5 324.78L413 324.73L413.5 324.42L414 324.18L414.5 324.11L415 323.87L415.5 324.22L416 324.58L416.5 324.62L417 324.79L417.5 324.97L418 324.94L418.5 324.75L419 324.71L419.5 324.83L420 324.49L420.5 324.13L421 324.28L421.5 324.7L422 325.04L422.5 324.63L423 324.99L423.5 324.72L424 324.63L424.5 324.77L425 324.49L425.5 324.9L426 325.11L426.5 325.01L427 325.29L427.5 324.85L428 324.99L428.5 325.18L429 325.39L429.5 325.09L430 325L430.5 324.79L431 324.61L431.5 324.36L432 324.04L432.5 324.03L433 324.41L433.5 324.47L434 324.76L434.5 325.11L435 325L435.5 324.72L436 324.94L436.5 325.04L437 325.05L437.5 324.77L438 324.71L438.5 324.58L439 324.38L439.5 324.51L440 324.29L440.5 324.04L441 324.51L441.5 324.18L442 324.1L442.5 324.52L443 324.57L443.5 324.47L444 324.17L444.5 324.37L445 324.37L445.5 324.12L446 323.99L446.5 323.78L447 324.01L447.5 324.03L448 324.41L448.5 324.27L449 324.09L449.5 324.1L450 324.04L450.5 324.41L451 324.13L451.5 323.86L452 323.65L452.5 323.85L453 323.8L453.5 324.14L454 323.92L454.5 323.8L455 324.12L455.5 324.57L456 324.62L456.5 324.57L457 324.36L457.5 324.42L458 324.84L458.5 324.53L459 324.89L459.5 324.57L460 324.84L460.5 324.91L461 324.59L461.5 324.88L462 325.09L462.5 324.95L463 324.68L463.5 324.38L464 324.28L464.5 323.99L465 324.15L465.5 323.89L466 324.4L466.5 324.67L467 324.62L467.5 324.78L468 324.55L468.5 324.44L469 324.46L469.5 324.21L470 324.26L470.5 324.49L471 324.61L471.5 324.32L472 324.06L472.5 324.43L473 324.18L473.5 323.91L474 324.05L474.5 324.13L475 324.48L475.5 324.48L476 324.5L476.5 324.44L477 324.85L477.5 324.41L478 324.44L478.5 324.55L479 324.32L479.5 324.33L480 324.4L480.5 324.29L481 324.71L481.5 324.65L482 324.7L482.5 324.3L483 324.03L483.5 324.35L484 324.43L484.5 324.77L485 324.78L485.5 324.47L486 324.18L486.5 324.3L487 324.51L487.5 324.78L488 324.63L488.5 324.28L489 324.65L489.5 324.41L490 324.84L490.5 325.02L491 325.13L491.5 324.84L492 324.92L492.5 324.95L493 324.76L493.5 325.03L494 324.73L494.5 325L495 324.89L495.5 325.01L496 323.99L496.5 322.13L497 320.1L497.5 322.09L497.5 328.4Z" fill="#2e3a8c" stroke="none" stroke-width="1"/>
<path d="M300.5 380.8L300.5 375.72L301 375.72L301.5 375.72L302 375.72L302.5 375.72L303 378.8L303.5 378.8L304 378.8L304.5 375.13L305 375.13L305.5 375.13L306 375.13L306.5 376.11L307 376.11L307.5 376.11L308 376.11L308.5 376.11L309 376.6L309.5 376.6L310 376.6L310.5 373.4L311 370L311.5 366.6L312 370L312.5 373.4L313 378.46L313.5 378.46L314 378.46L314.5 375.6L315 375.6L315.5 379.82L316 379.82L316.5 379.82L317 379.82L317.5 379.82L318 374.75L318.5 374.75L319 374.49L319.5 374.49L320 374.49L320.5 376.67L321 376.67L321.5 375.86L322 375.86L322.5 375.86L323 375.86L323.5 378.5L324 378.5L324.5 378.5L325 378.5L325.5 378.5L326 378.5L326.5 376.77L327 376.77L327.5 376.77L328 376.77L328.5 376.77L329 376.77L329.5 376.77L330 376.44L330.5 376.44L331 376.44L331.5 376.44L332 376.44L332.5 376.44L333 375.45L333.5 375.45L334 375.69L334.5 375.69L335 375.69L335.5 375.69L336 375.69L336.5 375.69L337 375.69L337.5 375.69L338 375.59L338.5 375.59L339 375.59L339.5 375.59L340 377.51L340.5 377.51L341 377.51L341.5 375.13L342 375.13L342.5 375.13L343 375.13L343.5 375.13L344 375.09L344.5 375.09L345 377.58L345.5 375.72L346 373.8L346.5 375.72L347 377.58L347.5 379.82L348 379.82L348.5 379.82L349 379.82L349.5 377.79L350 377.79L350.5 377.79L351 377.79L351.5 377.79L352 377.79L352.5 377.32L353 377.04L353.5 375.21L354 374.85L354.5 376.67L355 378.5L355.5 378.5L356 378.5L356.5 377.29L357 377.29L357.5 377.29L358 376.43L358.5 376.43L359 376.43L359.5 376.43L360 376.43L360.5 376.43L361 376.43L361.5 376.43L362 374.71L362.5 374.71L363 374.71L363.5 375.37L364 375.37L364.5 375.37L365 377.36L365.5 377.36L366 379.82L366.5 379.82L367 379.82L367.5 379.82L368 375.87L368.5 375.87L369 379.82L369.5 379.82L370 379.82L370.5 375.16L371 373L371.5 375.16L372 379.82L372.5 379.82L373 375.22L373.5 375.22L374 375.22L374.5 375.22L375 377.54L375.5 377.54L376 377.54L376.5 377.54L377 377.54L377.5 377.54L378 375.84L378.5 375.84L379 375.84L379.5 375.84L380 375.84L380.5 374.82L381 374.82L381.5 374.82L382 374.82L382.5 374.82L383 374.82L383.5 374.82L384 374.9L384.5 374.9L385 374.9L385.5 374.9L386 373.48L386.5 370.68L387 370.12L387.5 372.92L388 375.72L388.5 376.28L389 376.28L389.5 376.28L390 377.61L390.5 377.61L391 377.61L391.5 377.61L392 377.61L392.5 377.61L393 375.62L393.5 375.62L394 375.62L394.5 375.62L395 374.85L395.5 374.85L396 376.62L396.5 376.62L397 376.62L397.5 376.62L398 375.85L398.5 375.85L399 375.85L399.5 375.85L400 375.85L400.5 375.32L401 375.32L401.5 375.32L402 375.32L402.5 375.32L403 375.32L403.5 375.32L404 375.32L404.5 374.8L405 374.8L405.5 374.8L406 374.8L406.5 374.8L407 374.8L407.5 377L408 377L408.5 377L409 377L409.5 377L410 379.82L410.5 379.82L411 379.82L411.5 379.82L412 379.82L412.5 379.82L413 374.79L413.5 374.79L414 374.79L414.5 374.79L415 374.79L415.5 374.79L416 374.79L416.5 374.76L417 374.76L417.5 374.76L418 374.76L418.5 374.76L419 374.76L419.5 374.76L420 379.82L420.5 379.82L421 379.82L421.5 379.82L422 379.82L422.5 379.82L423 379.82L423.5 377.16L424 377.16L424.5 377.16L425 377.16L425.5 376.18L426 376.18L426.5 375.16L427 372.36L427.5 369.56L428 371.24L428.5 374.04L429 376.21L429.5 376.21L430 377.46L430.5 377.46L431 377.46L431.5 377.46L432 375.61L432.5 375.61L433 375.61L433.5 375.61L434 377.15L434.5 377.15L435 377.15L435.5 375.71L436 375.71L436.5 375.71L437 375.71L437.5 375.71L438 375.71L438.5 378.65L439 378.65L439.5 378.65L440 378.65L440.5 377.79L441 377.79L441.5 377.79L442 377.79L442.5 377.79L443 377.5L443.5 377.5L444 377.5L444.5 377.5L445 378.83L445.5 378.83L446 378.83L446.5 378.83L447 378.83L447.5 378.83L448 378.83L448.5 378.83L449 377.68L449.5 377.68L450 377.68L450.5 374.73L451 374.73L451.5 374.73L452 374.73L452.5 377.87L453 377.87L453.5 377.87L454 377.87L454.5 377.87L455 377.87L455.5 375.01L456 375.01L456.5 375.01L457 375.01L457.5 375.01L458 375.01L458.5 374.97L459 374.97L459.5 374.97L460 374.97L460.5 376.19L461 376.19L461.5 376.19L462 376.19L462.5 375.65L463 375.65L463.5 375.65L464 375.65L464.5 376.13L465 376.13L465.5 376.13L466 376.13L466.5 376.13L467 376.13L467.5 376.13L468 376.13L468.5 375.43L469 375.43L469.5 375.43L470 375.43L470.5 376.94L471 376.94L471.5 376.94L472 374.04L472.5 371.4L473 374.04L473.5 377.56L474 377.56L474.5 378.54L475 378.54L475.5 378.54L476 374.67L476.5 374.67L477 374.67L477.5 374.67L478 374.9L478.5 374.9L479 374.9L479.5 374.9L480 378.07L480.5 378.07L481 378.07L481.5 378.07L482 375.91L482.5 375.91L483 375.91L483.5 375.91L484 375.91L484.5 375.91L485 375.91L485.5 375.87L486 375.87L486.5 375.87L487 375.87L487.5 375.87L488 376.86L488.5 376.86L489 376.86L489.5 376.86L490 375.15L490.5 375.15L491 375.15L491.5 375.15L492 375.15L492.5 377.42L493 377.42L493.5 377.42L494 378.49L494.5 378.49L495 378.49L495.5 378.49L496 378.49L496.5 375.09L497 373L497.5 375.09L497.5 380.8Z" fill="#111" stroke="none" stroke-width="1"/>
<text x="277" y="408.8" font-size="8" fill="#222" stroke="#222" stroke-width="0.1">Chr5</text>
<rect x="302.3" y="406.75" width="190.2" height="1.5" fill="#111"/>
<rect x="301.8" y="405" width="1" height="2.5" fill="#111"/>
<rect x="491.5" y="405.5" width="1.5" height="3" fill="#111"/>
<rect x="314.6" y="404.5" width="0.8" height="3" fill="#111"/>
<text x="314.2" y="399.1" font-size="8" fill="#333" stroke="#333" stroke-width="0.1" text-anchor="middle">35.855</text>
<rect x="386.4" y="404.5" width="0.8" height="3" fill="#111"/>
<text x="386" y="399.1" font-size="8" fill="#333" stroke="#333" stroke-width="0.1" text-anchor="middle">35.865</text>
<rect x="458.4" y="404.5" width="0.8" height="3" fill="#111"/>
<text x="458" y="399.1" font-size="8" fill="#333" stroke="#333" stroke-width="0.1" text-anchor="middle">35.875</text>
<text x="489.5" y="399" font-size="8" fill="#333" stroke="#333" stroke-width="0.1">(mb)</text>
<rect x="328.8" y="416.4" width="137.2" height="1" fill="#111"/>
<rect x="328.95" y="413.9" width="1.7" height="6" fill="#111"/>
<rect x="356.75" y="413.9" width="1.5" height="6" fill="#111"/>
<rect x="403.85" y="413.9" width="1.5" height="6" fill="#111"/>
<rect x="430.85" y="413.9" width="1.5" height="6" fill="#111"/>
<rect x="448.2" y="413.9" width="1.4" height="6" fill="#111"/>
<rect x="449.7" y="413.9" width="1.4" height="6" fill="#111"/>
<rect x="455.15" y="414.4" width="1.3" height="5" fill="#111"/>
<path d="M340.7 415.1L342.9 416.9L340.7 418.7" fill="none" stroke="#111" stroke-width="1.1"/>
<path d="M349.4 415.1L351.6 416.9L349.4 418.7" fill="none" stroke="#111" stroke-width="1.1"/>
<path d="M359.7 415.1L361.9 416.9L359.7 418.7" fill="none" stroke="#111" stroke-width="1.1"/>
<path d="M369.2 415.1L371.4 416.9L369.2 418.7" fill="none" stroke="#111" stroke-width="1.1"/>
<path d="M378.8 415.1L381 416.9L378.8 418.7" fill="none" stroke="#111" stroke-width="1.1"/>
<path d="M387.4 415.1L389.6 416.9L387.4 418.7" fill="none" stroke="#111" stroke-width="1.1"/>
<path d="M397.8 415.1L400 416.9L397.8 418.7" fill="none" stroke="#111" stroke-width="1.1"/>
<path d="M407.3 415.1L409.5 416.9L407.3 418.7" fill="none" stroke="#111" stroke-width="1.1"/>
<path d="M416.2 415.1L418.4 416.9L416.2 418.7" fill="none" stroke="#111" stroke-width="1.1"/>
<path d="M424.8 415.1L427 416.9L424.8 418.7" fill="none" stroke="#111" stroke-width="1.1"/>
<path d="M433.4 415.1L435.6 416.9L433.4 418.7" fill="none" stroke="#111" stroke-width="1.1"/>
<path d="M443 415.1L445.2 416.9L443 418.7" fill="none" stroke="#111" stroke-width="1.1"/>
<path d="M462.4 415.1L464.6 416.9L462.4 418.7" fill="none" stroke="#111" stroke-width="1.1"/>
<path d="M465.0 413.9 L470.6 413.9 L470.6 415.2 L493.0 415.2 L493.0 418.1 L470.6 418.1 L470.6 419.3 L465.0 419.3 Z" fill="#e2b424" stroke="#333" stroke-width="0.7"/>
<text x="392" y="430.2" font-size="9.4" font-weight="bold" fill="#111" stroke="#111" stroke-width="0.1">IL7R</text>
<rect x="297.35" y="420.7" width="1.3" height="48.6" fill="#2e3a8c"/>
<rect x="297.35" y="473.3" width="1.3" height="49.2" fill="#111"/>
<rect x="294.8" y="468.35" width="3" height="0.9" fill="#2e3a8c"/>
<text x="291.4" y="470.5" font-size="8" fill="#4e4e72" stroke="#4e4e72" stroke-width="0.1" text-anchor="end">0</text>
<rect x="294.8" y="521.55" width="3" height="0.9" fill="#111"/>
<text x="291.4" y="524.9" font-size="8" fill="#333" stroke="#333" stroke-width="0.1" text-anchor="end">0</text>
<rect x="294.8" y="452.48" width="3" height="0.9" fill="#2e3a8c"/>
<text x="291.4" y="455.83" font-size="8" fill="#4e4e72" stroke="#4e4e72" stroke-width="0.1" text-anchor="end">1</text>
<rect x="294.8" y="505.48" width="3" height="0.9" fill="#111"/>
<text x="291.4" y="508.83" font-size="8" fill="#333" stroke="#333" stroke-width="0.1" text-anchor="end">1</text>
<rect x="294.8" y="436.62" width="3" height="0.9" fill="#2e3a8c"/>
<text x="291.4" y="439.97" font-size="8" fill="#4e4e72" stroke="#4e4e72" stroke-width="0.1" text-anchor="end">2</text>
<rect x="294.8" y="489.42" width="3" height="0.9" fill="#111"/>
<text x="291.4" y="492.77" font-size="8" fill="#333" stroke="#333" stroke-width="0.1" text-anchor="end">2</text>
<rect x="294.8" y="420.75" width="3" height="0.9" fill="#2e3a8c"/>
<text x="291.4" y="424.1" font-size="8" fill="#4e4e72" stroke="#4e4e72" stroke-width="0.1" text-anchor="end">3</text>
<rect x="294.8" y="473.35" width="3" height="0.9" fill="#111"/>
<text x="291.4" y="476.7" font-size="8" fill="#333" stroke="#333" stroke-width="0.1" text-anchor="end">3</text>
<text x="281" y="445" font-size="8.6" fill="#4a56a0" stroke="#4a56a0" stroke-width="0.1" text-anchor="middle" transform="rotate(-90 281 445)">Sensitive</text>
<text x="281" y="497.9" font-size="8.6" fill="#222" stroke="#222" stroke-width="0.1" text-anchor="middle" transform="rotate(-90 281 497.9)">Resistant</text>
<path d="M300 469.5L300 467.19L300.5 466.68L301 466.34L301.5 466.2L302 466.31L302.5 465.94L303 465.65L303.5 465.66L304 465.41L304.5 464.94L305 464.45L305.5 463.47L306 463.48L306.5 464.68L307 465.12L307.5 465.94L308 466.22L308.5 465.21L309 461.41L309.5 457.25L310 452.55L310.5 447.73L311 443.05L311.5 437.73L312 436.56L312.5 442.31L313 447.05L313.5 452.05L314 456.81L314.5 460.52L315 464.22L315.5 465.62L316 465.69L316.5 465.66L317 465.8L317.5 465.8L318 466.03L318.5 466.33L319 465.89L319.5 465.67L320 464.8L320.5 464.35L321 463.18L321.5 463.66L322 464.24L322.5 464.74L323 465.22L323.5 465.17L324 465.61L324.5 465.66L325 465.42L325.5 465.59L326 464.65L326.5 463.66L327 463L327.5 462.24L328 462.12L328.5 463.2L329 463.69L329.5 464.66L330 465.72L330.5 466.24L331 465.94L331.5 465.5L332 465.56L332.5 465.61L333 465.61L333.5 465.44L334 465.74L334.5 465.65L335 465.63L335.5 465.56L336 465.86L336.5 466.09L337 466.12L337.5 465.69L338 465.82L338.5 465.73L339 465.88L339.5 466.16L340 466.4L340.5 465.99L341 465.71L341.5 465.81L342 465.65L342.5 465.53L343 465.27L343.5 465.03L344 465.28L344.5 465.01L345 464.83L345.5 464.98L346 464.87L346.5 465.09L347 465.35L347.5 465.65L348 465.38L348.5 465.73L349 466.08L349.5 465.75L350 465.53L350.5 465.6L351 465.37L351.5 465.81L352 465.99L352.5 466.09L353 466.07L353.5 466.25L354 466.46L354.5 466.41L355 465.93L355.5 465.5L356 465.36L356.5 465.47L357 465.74L357.5 465.37L358 465.45L358.5 465.34L359 465.81L359.5 466.02L360 465.68L360.5 465.46L361 465.23L361.5 465.28L362 465.45L362.5 465.46L363 465.25L363.5 465.53L364 465.55L364.5 465.78L365 465.56L365.5 465.99L366 465.78L366.5 465.41L367 465.87L367.5 465.76L368 465.64L368.5 465.39L369 465.41L369.5 465.69L370 465.77L370.5 465.4L371 465.17L371.5 465.6L372 465.95L372.5 466.22L373 466.48L373.5 466.33L374 466.47L374.5 466L375 465.81L375.5 466.09L376 465.97L376.5 466.05L377 465.98L377.5 466.14L378 466.3L378.5 466.41L379 466.34L379.5 466.02L380 465.91L380.5 466.23L381 465.94L381.5 465.59L382 465.41L382.5 465.27L383 465.77L383.5 465.79L384 466.13L384.5 465.82L385 466.06L385.5 465.81L386 465.99L386.5 465.77L387 465.91L387.5 466.23L388 466.19L388.5 466.23L389 465.79L389.5 465.94L390 465.89L390.5 465.81L391 465.44L391.5 465.83L392 465.73L392.5 465.73L393 465.54L393.5 465.22L394 465.5L394.5 465.4L395 465.47L395.5 465.49L396 465.9L396.5 465.61L397 465.26L397.5 465.5L398 465.7L398.5 465.32L399 465.74L399.5 466.07L400 466.33L400.5 465.93L401 465.68L401.5 465.73L402 465.64L402.5 466.04L403 465.85L403.5 465.87L404 465.82L404.5 465.89L405 465.93L405.5 466.1L406 466.37L406.5 466.26L407 466.33L407.5 466.02L408 465.7L408.5 465.53L409 465.62L409.5 465.86L410 465.92L410.5 465.88L411 465.74L411.5 465.38L412 465.8L412.5 465.8L413 465.79L413.5 465.61L414 465.33L414.5 465.21L415 465.24L415.5 465.16L416 465.18L416.5 465.03L417 465.05L417.5 465.08L418 465.45L418.5 465.19L419 465.42L419.5 465.41L420 465.23L420.5 464.99L421 464.79L421.5 465.42L422 465.65L422.5 465.82L423 465.89L423.5 466.13L424 465.99L424.5 466.26L425 466.29L425.5 465.8L426 465.59L426.5 465.66L427 465.99L427.5 465.57L428 465.45L428.5 465.75L429 465.88L429.5 465.73L430 465.59L430.5 465.82L431 465.44L431.5 465.66L432 465.87L432.5 465.57L433 465.88L433.5 465.7L434 465.95L434.5 465.82L435 465.98L435.5 466.01L436 465.6L436.5 465.66L437 465.73L437.5 465.64L438 465.84L438.5 466.07L439 466.08L439.5 466.17L440 466.31L440.5 465.8L441 466.16L441.5 465.81L442 465.45L442.5 465.36L443 465.83L443.5 465.81L444 466.16L444.5 465.97L445 465.75L445.5 465.95L446 466.29L446.5 466.12L447 466.34L447.5 466.34L448 466.23L448.5 465.79L449 465.88L449.5 466.14L450 465.81L450.5 465.54L451 465.56L451.5 465.96L452 466.15L452.5 466.13L453 465.99L453.5 466.14L454 465.8L454.5 465.52L455 465.24L455.5 465.06L456 465.61L456.5 465.58L457 465.95L457.5 465.58L458 465.43L458.5 465.3L459 465.66L459.5 466.03L460 465.7L460.5 465.63L461 465.56L461.5 465.63L462 465.42L462.5 465.63L463 465.84L463.5 465.93L464 466.04L464.5 465.87L465 465.53L465.5 465.92L466 466.22L466.5 466.09L467 465.86L467.5 466.07L468 466.17L468.5 466.41L469 466.61L469.5 466.4L470 466.09L470.5 465.88L471 466.12L471.5 466.33L472 465.85L472.5 465.79L473 465.85L473.5 465.1L474 463.88L474.5 462.66L475 463.82L475.5 464.66L476 465.78L476.5 466.21L477 466.21L477.5 466.06L478 465.88L478.5 466.1L479 465.85L479.5 465.83L480 466.07L480.5 465.71L481 465.48L481.5 465.22L482 465.21L482.5 465.57L483 465.39L483.5 465.16L484 465.28L484.5 465.07L485 464.87L485.5 465.17L486 464.96L486.5 464.81L487 464.81L487.5 465.43L488 465.63L488.5 465.56L489 465.52L489.5 465.38L490 465.35L490.5 465.72L491 465.38L491.5 465.44L492 465.22L492.5 465.58L493 465.23L493.5 465.31L494 465.2L494.5 465.15L495 464.99L495.5 465.29L495.5 469.5Z" fill="#2e3a8c" stroke="none" stroke-width="1"/>
<path d="M300 522.2L300 521.31L300.5 521.31L301 516.29L301.5 514.07L302 513.63L302.5 515.84L303 518.06L303.5 521.31L304 519.8L304.5 519.8L305 519.8L305.5 519.8L306 519.8L306.5 519.8L307 519.8L307.5 519.8L308 519.26L308.5 519.26L309 519.26L309.5 519.26L310 519.26L310.5 519.26L311 517.52L311.5 517.52L312 517.52L312.5 517.52L313 517.59L313.5 517.59L314 517.59L314.5 517.59L315 517.59L315.5 521.31L316 521.31L316.5 521.31L317 521.31L317.5 521.31L318 521.31L318.5 521.31L319 521.31L319.5 518.52L320 518.52L320.5 518.52L321 518.52L321.5 518.52L322 518.52L322.5 518.52L323 517.81L323.5 517.81L324 517.81L324.5 518.01L325 518.01L325.5 518.01L326 518.01L326.5 518.01L327 518.01L327.5 518.01L328 518.01L328.5 518.22L329 518.22L329.5 518.22L330 518.22L330.5 518.22L331 517.53L331.5 517.53L332 517.53L332.5 517.53L333 517.53L333.5 517.53L334 517.53L334.5 517.53L335 517.53L335.5 517.53L336 517.87L336.5 517.87L337 517.87L337.5 520.34L338 520.34L338.5 520.34L339 517.61L339.5 517.61L340 517.61L340.5 519.06L341 519.06L341.5 519.06L342 519.06L342.5 519.06L343 519.38L343.5 519.38L344 519.38L344.5 519.38L345 519.38L345.5 519.38L346 519.38L346.5 519.41L347 519.41L347.5 519.41L348 519.41L348.5 519.41L349 519.41L349.5 518.98L350 518.98L350.5 518.98L351 518.98L351.5 518.98L352 520.17L352.5 520.17L353 520.17L353.5 520.17L354 520.17L354.5 518.99L355 518.99L355.5 518.99L356 518.99L356.5 517.54L357 517.54L357.5 517.54L358 517.54L358.5 517.54L359 517.54L359.5 517.54L360 517.54L360.5 520.14L361 520.14L361.5 520.14L362 520.14L362.5 518.65L363 518.65L363.5 518.65L364 519.22L364.5 519.22L365 519.22L365.5 519.22L366 518.68L366.5 518.68L367 519.74L367.5 519.74L368 519.74L368.5 519.74L369 519.74L369.5 519.74L370 519.05L370.5 519.05L371 519.05L371.5 518.9L372 518.9L372.5 518.9L373 518.9L373.5 518.9L374 518.9L374.5 518.9L375 518.71L375.5 518.71L376 518.22L376.5 517.49L377 516.77L377.5 517.49L378 518.09L378.5 518.09L379 518.09L379.5 518.09L380 518.09L380.5 518.09L381 518.09L381.5 518.37L382 518.37L382.5 518.37L383 518.37L383.5 518.37L384 518.37L384.5 517.89L385 517.74L385.5 517.25L386 516.77L386.5 517.25L387 517.74L387.5 517.89L388 518.7L388.5 519.19L389 520.5L389.5 520.5L390 520.5L390.5 520.5L391 520.5L391.5 520.5L392 519.27L392.5 519.27L393 519.27L393.5 519.27L394 519.27L394.5 519.27L395 518.98L395.5 518.98L396 518.98L396.5 518.98L397 518.98L397.5 518.98L398 517.5L398.5 517.5L399 519.69L399.5 519.69L400 519.69L400.5 519.81L401 519.81L401.5 519.81L402 519.81L402.5 519.81L403 519.81L403.5 519.81L404 518.87L404.5 518.87L405 518.12L405.5 518.12L406 517.74L406.5 516.77L407 517.74L407.5 518.7L408 520.4L408.5 520.4L409 520.4L409.5 520.4L410 520.4L410.5 520.4L411 520.42L411.5 520.42L412 520.42L412.5 520.42L413 520.42L413.5 520.42L414 520.42L414.5 519.14L415 519.14L415.5 519.14L416 519.14L416.5 519.14L417 518.89L417.5 518.89L418 518.89L418.5 518.89L419 518.89L419.5 518.89L420 521.31L420.5 521.31L421 521.31L421.5 519.9L422 519.9L422.5 519.9L423 519.9L423.5 519.9L424 519.9L424.5 520.31L425 520.31L425.5 520.31L426 520.31L426.5 520.31L427 520.31L427.5 520.38L428 520.38L428.5 520.38L429 520.38L429.5 520.38L430 520.38L430.5 521.31L431 521.31L431.5 517.45L432 517.25L432.5 515.8L433 514.36L433.5 515.8L434 517.25L434.5 518.68L435 518.68L435.5 518.68L436 517.77L436.5 517.77L437 517.77L437.5 517.77L438 519.15L438.5 519.15L439 517.93L439.5 517.93L440 517.93L440.5 519.21L441 519.21L441.5 519.21L442 519.21L442.5 519.21L443 519.21L443.5 519.79L444 519.79L444.5 519.79L445 519.79L445.5 519.79L446 517.84L446.5 517.84L447 517.84L447.5 517.89L448 517.89L448.5 517.89L449 517.89L449.5 517.89L450 517.89L450.5 519.07L451 519.07L451.5 519.07L452 519.13L452.5 519.13L453 519.13L453.5 519.13L454 519.13L454.5 519.13L455 519.13L455.5 521.31L456 521.31L456.5 521.31L457 519.62L457.5 519.62L458 516.58L458.5 514.48L459 512.39L459.5 511.97L460 514.07L460.5 516.16L461 519.92L461.5 519.92L462 519.92L462.5 519.92L463 518.5L463.5 518.5L464 518.5L464.5 518.5L465 518.5L465.5 518.5L466 518.5L466.5 520.48L467 520.48L467.5 520.48L468 520.48L468.5 520.48L469 520.48L469.5 520.48L470 517.92L470.5 517.92L471 517.92L471.5 517.92L472 517.92L472.5 517.92L473 520.27L473.5 520.27L474 517.57L474.5 517.57L475 517.57L475.5 517.57L476 517.57L476.5 518.43L477 518.43L477.5 518.43L478 518.41L478.5 516.96L479 515.51L479.5 514.64L480 516.09L480.5 517.49L481 517.67L481.5 517.67L482 517.67L482.5 517.67L483 517.67L483.5 517.67L484 519.34L484.5 519.34L485 519.34L485.5 519.34L486 519.34L486.5 519.34L487 520.31L487.5 520.31L488 520.31L488.5 520.31L489 520.47L489.5 520.47L490 520.47L490.5 518.95L491 518.95L491.5 518.95L492 518.85L492.5 518.85L493 518.85L493.5 517.9L494 517.9L494.5 517.9L495 517.9L495.5 517.73L495.5 522.2Z" fill="#111" stroke="none" stroke-width="1"/>
<text x="277" y="552.5" font-size="8" fill="#222" stroke="#222" stroke-width="0.1">Chr3</text>
<rect x="302.5" y="550.05" width="191.3" height="1.5" fill="#111"/>
<rect x="302" y="548.3" width="1" height="2.5" fill="#111"/>
<rect x="492.8" y="548.8" width="1.5" height="3" fill="#111"/>
<rect x="317.6" y="547.8" width="0.8" height="3" fill="#111"/>
<text x="318" y="542.5" font-size="8" fill="#333" stroke="#333" stroke-width="0.1" text-anchor="middle">187.44</text>
<rect x="436.4" y="547.8" width="0.8" height="3" fill="#111"/>
<text x="436.8" y="542.5" font-size="8" fill="#333" stroke="#333" stroke-width="0.1" text-anchor="middle">187.46</text>
<text x="489.5" y="542.5" font-size="8" fill="#333" stroke="#333" stroke-width="0.1">(mb)</text>
<rect x="313.8" y="559.9" width="142.7" height="1" fill="#111"/>
<rect x="320.75" y="557.9" width="1.3" height="5" fill="#111"/>
<rect x="322.55" y="557.9" width="1.3" height="5" fill="#111"/>
<rect x="332.85" y="557.9" width="1.3" height="5" fill="#111"/>
<rect x="334.65" y="557.9" width="1.3" height="5" fill="#111"/>
<rect x="338.05" y="557.9" width="1.3" height="5" fill="#111"/>
<rect x="341.55" y="557.9" width="1.3" height="5" fill="#111"/>
<rect x="344.15" y="557.9" width="1.3" height="5" fill="#111"/>
<rect x="348.45" y="557.9" width="1.3" height="5" fill="#111"/>
<rect x="352.75" y="557.9" width="1.3" height="5" fill="#111"/>
<rect x="366.65" y="557.9" width="1.3" height="5" fill="#111"/>
<rect x="372.65" y="557.9" width="1.3" height="5" fill="#111"/>
<rect x="375.25" y="557.9" width="1.3" height="5" fill="#111"/>
<rect x="381.35" y="557.9" width="1.3" height="5" fill="#111"/>
<rect x="383.95" y="557.9" width="1.3" height="5" fill="#111"/>
<rect x="386.05" y="557.9" width="1.3" height="5" fill="#111"/>
<rect x="389.55" y="557.9" width="1.3" height="5" fill="#111"/>
<rect x="393.85" y="557.9" width="1.3" height="5" fill="#111"/>
<rect x="397.35" y="557.9" width="1.3" height="5" fill="#111"/>
<rect x="400.75" y="557.9" width="1.3" height="5" fill="#111"/>
<rect x="455.2" y="558.4" width="1.6" height="4" fill="#111"/>
<path d="M327.4 558.6L325.2 560.4L327.4 562.2" fill="none" stroke="#111" stroke-width="1.1"/>
<path d="M332.6 558.6L330.4 560.4L332.6 562.2" fill="none" stroke="#111" stroke-width="1.1"/>
<path d="M349 558.6L346.8 560.4L349 562.2" fill="none" stroke="#111" stroke-width="1.1"/>
<path d="M356.8 558.6L354.6 560.4L356.8 562.2" fill="none" stroke="#111" stroke-width="1.1"/>
<path d="M371.5 558.6L369.3 560.4L371.5 562.2" fill="none" stroke="#111" stroke-width="1.1"/>
<path d="M381 558.6L378.8 560.4L381 562.2" fill="none" stroke="#111" stroke-width="1.1"/>
<path d="M388.8 558.6L386.6 560.4L388.8 562.2" fill="none" stroke="#111" stroke-width="1.1"/>
<path d="M394.1 558.6L391.9 560.4L394.1 562.2" fill="none" stroke="#111" stroke-width="1.1"/>
<path d="M407.4 558.6L405.2 560.4L407.4 562.2" fill="none" stroke="#111" stroke-width="1.1"/>
<path d="M416 558.6L413.8 560.4L416 562.2" fill="none" stroke="#111" stroke-width="1.1"/>
<path d="M424.7 558.6L422.5 560.4L424.7 562.2" fill="none" stroke="#111" stroke-width="1.1"/>
<path d="M433.3 558.6L431.1 560.4L433.3 562.2" fill="none" stroke="#111" stroke-width="1.1"/>
<path d="M442 558.6L439.8 560.4L442 562.2" fill="none" stroke="#111" stroke-width="1.1"/>
<path d="M450.6 558.6L448.4 560.4L450.6 562.2" fill="none" stroke="#111" stroke-width="1.1"/>
<rect x="313.7" y="559.3" width="6" height="2.3" fill="#9a8038" stroke="#333" stroke-width="0.6"/>
<rect x="358.6" y="558.9" width="6.1" height="3.2" fill="#e8d870" stroke="#222" stroke-width="0.7"/>
<text x="370.6" y="573.3" font-size="9.4" font-weight="bold" fill="#111" stroke="#111" stroke-width="0.1">BCL6</text>
<rect x="297.95" y="561.3" width="1.3" height="49.4" fill="#2e3a8c"/>
<rect x="297.95" y="614.8" width="1.3" height="49" fill="#111"/>
<rect x="295.4" y="609.75" width="3" height="0.9" fill="#2e3a8c"/>
<text x="292" y="611.9" font-size="8" fill="#4e4e72" stroke="#4e4e72" stroke-width="0.1" text-anchor="end">0</text>
<rect x="295.4" y="662.85" width="3" height="0.9" fill="#111"/>
<text x="292" y="666.2" font-size="8" fill="#333" stroke="#333" stroke-width="0.1" text-anchor="end">0</text>
<rect x="295.4" y="593.62" width="3" height="0.9" fill="#2e3a8c"/>
<text x="292" y="596.97" font-size="8" fill="#4e4e72" stroke="#4e4e72" stroke-width="0.1" text-anchor="end">1</text>
<rect x="295.4" y="646.85" width="3" height="0.9" fill="#111"/>
<text x="292" y="650.2" font-size="8" fill="#333" stroke="#333" stroke-width="0.1" text-anchor="end">1</text>
<rect x="295.4" y="577.48" width="3" height="0.9" fill="#2e3a8c"/>
<text x="292" y="580.83" font-size="8" fill="#4e4e72" stroke="#4e4e72" stroke-width="0.1" text-anchor="end">2</text>
<rect x="295.4" y="630.85" width="3" height="0.9" fill="#111"/>
<text x="292" y="634.2" font-size="8" fill="#333" stroke="#333" stroke-width="0.1" text-anchor="end">2</text>
<rect x="295.4" y="561.35" width="3" height="0.9" fill="#2e3a8c"/>
<text x="292" y="564.7" font-size="8" fill="#4e4e72" stroke="#4e4e72" stroke-width="0.1" text-anchor="end">3</text>
<rect x="295.4" y="614.85" width="3" height="0.9" fill="#111"/>
<text x="292" y="618.2" font-size="8" fill="#333" stroke="#333" stroke-width="0.1" text-anchor="end">3</text>
<text x="281" y="586" font-size="8.6" fill="#4a56a0" stroke="#4a56a0" stroke-width="0.1" text-anchor="middle" transform="rotate(-90 281 586)">Sensitive</text>
<text x="281" y="639.3" font-size="8.6" fill="#222" stroke="#222" stroke-width="0.1" text-anchor="middle" transform="rotate(-90 281 639.3)">Resistant</text>
<path d="M299 610.9L299 608.68L299.5 608.59L300 608.3L300.5 607.85L301 607.95L301.5 608.04L302 608.02L302.5 607.58L303 607.74L303.5 607.38L304 607.17L304.5 607.44L305 607.32L305.5 607.3L306 607.32L306.5 606.86L307 607.24L307.5 607.59L308 606.71L308.5 606.2L309 605.73L309.5 605.04L310 605.81L310.5 606.02L311 606.86L311.5 607.44L312 607.28L312.5 607.19L313 606.8L313.5 606.6L314 606.83L314.5 607.13L315 606.85L315.5 606.51L316 607.03L316.5 606.86L317 606.62L317.5 606.61L318 606.95L318.5 606.75L319 606.65L319.5 607L320 606.91L320.5 607.18L321 607.52L321.5 607.54L322 607.56L322.5 607.52L323 607.29L323.5 606.97L324 606.63L324.5 606.36L325 606.14L325.5 606.14L326 606.53L326.5 606.93L327 606.87L327.5 606.88L328 606.79L328.5 607.19L329 607.41L329.5 606.99L330 606.93L330.5 606.81L331 607.2L331.5 607.25L332 606.88L332.5 606.81L333 606.48L333.5 606.88L334 606.96L334.5 606.75L335 606.88L335.5 606.7L336 606.74L336.5 607.13L337 607.44L337.5 606.96L338 607.3L338.5 607.49L339 607.52L339.5 607.24L340 606.91L340.5 606.98L341 607L341.5 606.79L342 607.04L342.5 607.15L343 607.04L343.5 606.94L344 607.35L344.5 607.59L345 607.76L345.5 607.41L346 607.17L346.5 606.77L347 606.63L347.5 606.94L348 606.76L348.5 606.45L349 606.73L349.5 607.21L350 607.28L350.5 607.4L351 607.58L351.5 607.82L352 607.94L352.5 607.43L353 607.71L353.5 607.46L354 607.6L354.5 607.72L355 607.3L355.5 607.41L356 607.58L356.5 607.49L357 607.23L357.5 607.17L358 606.86L358.5 606.99L359 607L359.5 606.84L360 606.93L360.5 606.8L361 606.89L361.5 607.23L362 607.5L362.5 607.17L363 606.95L363.5 606.62L364 606.59L364.5 606.64L365 607.02L365.5 606.75L366 607.14L366.5 607.19L367 607.45L367.5 607.45L368 607.51L368.5 607.47L369 607.2L369.5 607.14L370 607.33L370.5 607.04L371 606.86L371.5 606.26L372 606.16L372.5 605.37L373 604.31L373.5 605.35L374 606.28L374.5 606.57L375 607.1L375.5 607.18L376 606.9L376.5 607.04L377 607.29L377.5 607.47L378 607.49L378.5 607.23L379 607.3L379.5 607.03L380 607.39L380.5 607.51L381 607.31L381.5 607.27L382 607.22L382.5 606.83L383 607.07L383.5 607.33L384 607.64L384.5 607.52L385 607.57L385.5 607.47L386 607.77L386.5 608L387 607.87L387.5 607.46L388 607.53L388.5 607.08L389 607.02L389.5 607.11L390 606.88L390.5 607.15L391 607.04L391.5 606.77L392 606.82L392.5 607.03L393 607.37L393.5 607.24L394 607.45L394.5 607.46L395 607.33L395.5 606.91L396 606.81L396.5 606.87L397 606.63L397.5 606.9L398 607.03L398.5 606.9L399 606.9L399.5 607.17L400 607.22L400.5 606.92L401 607.17L401.5 606.9L402 607.18L402.5 606.61L403 606.35L403.5 606.39L404 605.85L404.5 605.88L405 606.54L405.5 606.91L406 607.01L406.5 606.69L407 607.14L407.5 607.49L408 607.54L408.5 607.79L409 607.68L409.5 607.5L410 607.44L410.5 607.64L411 607.89L411.5 607.44L412 607.4L412.5 607.33L413 607.29L413.5 607.09L414 606.76L414.5 606.58L415 606.52L415.5 606.79L416 607.13L416.5 607.45L417 607.07L417.5 607.43L418 607.28L418.5 606.9L419 607.09L419.5 606.17L420 604.74L420.5 602.63L421 602.18L421.5 603.75L422 605.78L422.5 606.75L423 606.97L423.5 607.07L424 606.82L424.5 606.7L425 606.46L425.5 606.42L426 606.26L426.5 606.09L427 605.37L427.5 604.29L428 605.07L428.5 606.34L429 606.94L429.5 606.73L430 606.52L430.5 606.96L431 607.09L431.5 607.3L432 607.37L432.5 606.93L433 607.03L433.5 607.19L434 607.35L434.5 607.33L435 606.63L435.5 606.01L436 605.36L436.5 606.35L437 607.15L437.5 607.18L438 607.42L438.5 607.13L439 607.43L439.5 607.12L440 607.29L440.5 607.02L441 607.09L441.5 607.42L442 607.66L442.5 607.28L443 607.19L443.5 607.18L444 607.27L444.5 607.07L445 607.09L445.5 607.44L446 607.27L446.5 607.37L447 607.02L447.5 606.99L448 606.8L448.5 607.17L449 606.98L449.5 606.92L450 606.68L450.5 606.36L451 606.31L451.5 606.18L452 605.87L452.5 605.98L453 605.77L453.5 605.34L454 605.11L454.5 605.42L455 605.46L455.5 605.44L456 606.04L456.5 606.68L457 606.76L457.5 607.22L458 606.89L458.5 606.95L459 606.96L459.5 606.73L460 606.52L460.5 606.95L461 607.02L461.5 607.29L462 607.27L462.5 607.52L463 607.11L463.5 607.22L464 607.27L464.5 606.9L465 606.69L465.5 606.92L466 606.96L466.5 606.86L467 607.16L467.5 607.44L468 607.06L468.5 607.34L469 607.11L469.5 606.91L470 606.88L470.5 606.33L471 604.7L471.5 602.94L472 604.39L472.5 605.54L473 606.61L473.5 606.99L474 607.28L474.5 607.55L475 607.18L475.5 606.88L476 607.05L476.5 607.32L477 607.6L477.5 607.54L478 607.59L478.5 607.82L479 607.8L479.5 607.36L480 607.64L480.5 607.58L481 607.44L481.5 607.62L482 607.86L482.5 608.01L483 608.06L483.5 605.54L484 601.61L484.5 597.22L485 592.24L485.5 587.39L486 582.2L486.5 576.17L487 572.59L487.5 578.2L488 584.07L488.5 589.52L489 594.34L489.5 598.64L490 603.03L490.5 606.41L491 607.54L491.5 607.38L492 606.96L492.5 606.94L493 607.26L493.5 607.06L494 606.94L494.5 607.3L495 606.91L495.5 606.82L495.5 610.9Z" fill="#2e3a8c" stroke="none" stroke-width="1"/>
<path d="M299 664L299 661.42L299.5 661.42L300 661.42L300.5 660.43L301 660.43L301.5 660.43L302 660.43L302.5 660.43L303 660.43L303.5 660.43L304 660.39L304.5 660.39L305 660.39L305.5 659.08L306 659.08L306.5 659.08L307 659.08L307.5 659.08L308 662.43L308.5 662.43L309 662.43L309.5 662.43L310 662.36L310.5 662.36L311 662.36L311.5 659.39L312 659.39L312.5 659.39L313 659.39L313.5 659.39L314 659.39L314.5 659.39L315 661.97L315.5 661.97L316 661.97L316.5 661.83L317 661.83L317.5 661.83L318 661.83L318.5 661.83L319 661.83L319.5 661.83L320 661.83L320.5 663.11L321 663.11L321.5 661.61L322 661.61L322.5 661.61L323 661.61L323.5 661.6L324 661.6L324.5 661.6L325 661.6L325.5 661.6L326 661.6L326.5 661.6L327 661.6L327.5 660.2L328 659.59L328.5 658.47L329 658.25L329.5 659.37L330 660.2L330.5 660.14L331 660.14L331.5 660.14L332 660.14L332.5 660.14L333 660.14L333.5 660.14L334 661.3L334.5 661.3L335 661.3L335.5 661.3L336 663.11L336.5 663.11L337 663.11L337.5 663.11L338 660.94L338.5 659.92L339 658.89L339.5 658.69L340 659.46L340.5 659.46L341 659.46L341.5 659.46L342 659.46L342.5 663.11L343 663.11L343.5 663.11L344 663.11L344.5 663.11L345 663.11L345.5 662.13L346 662.13L346.5 662.13L347 662.13L347.5 662.13L348 662.13L348.5 663.11L349 663.11L349.5 663.11L350 663.11L350.5 659.06L351 659.06L351.5 658.05L352 657.81L352.5 659.02L353 660.24L353.5 660.45L354 660.45L354.5 660.45L355 660.45L355.5 660.04L356 660.04L356.5 660.04L357 660.04L357.5 660.04L358 660.04L358.5 660.04L359 661.37L359.5 661.37L360 661.37L360.5 661.37L361 661.37L361.5 658.98L362 656.1L362.5 654.38L363 657.26L363.5 661.49L364 661.49L364.5 661.49L365 660.09L365.5 660.09L366 660.09L366.5 660.09L367 660.09L367.5 661.72L368 661.72L368.5 661.72L369 661.72L369.5 661.72L370 661.72L370.5 662.24L371 662.24L371.5 659.01L372 659.01L372.5 659.01L373 659.01L373.5 659.01L374 659.01L374.5 659.01L375 659.01L375.5 659.01L376 661.96L376.5 661.96L377 661.96L377.5 661.96L378 661.96L378.5 663.11L379 663.11L379.5 663.11L380 658.98L380.5 658.98L381 658.98L381.5 658.98L382 658.98L382.5 658.98L383 660.15L383.5 660.15L384 660.15L384.5 660.15L385 660.15L385.5 660.15L386 660.15L386.5 660.83L387 660.83L387.5 660.83L388 660.83L388.5 660.83L389 660.83L389.5 660.83L390 659.02L390.5 659.02L391 659.26L391.5 659.26L392 659.6L392.5 659.6L393 659.6L393.5 659.6L394 659.6L394.5 659.6L395 661.03L395.5 661.03L396 661.03L396.5 661.35L397 661.35L397.5 661.35L398 661.35L398.5 661.35L399 661.35L399.5 661.35L400 661.35L400.5 663.11L401 663.11L401.5 663.11L402 663.11L402.5 663.11L403 660.17L403.5 658.83L404 657.49L404.5 657.22L405 658.56L405.5 659.91L406 661.27L406.5 661.95L407 661.95L407.5 659L408 659L408.5 659L409 659L409.5 659L410 659L410.5 662L411 662L411.5 662L412 662L412.5 662L413 662L413.5 663.11L414 663.11L414.5 663.11L415 663.11L415.5 663.11L416 663.11L416.5 663.11L417 663.11L417.5 658.95L418 658.95L418.5 658.95L419 661.03L419.5 661.03L420 661.03L420.5 661.03L421 661.53L421.5 661.53L422 661.53L422.5 661.53L423 661.53L423.5 663.11L424 663.11L424.5 663.11L425 663.11L425.5 663.11L426 659.64L426.5 659.64L427 659.64L427.5 659.64L428 659.64L428.5 659.72L429 659.72L429.5 659.72L430 660.51L430.5 660.51L431 660.51L431.5 660.51L432 661.76L432.5 661.76L433 661.76L433.5 661.76L434 661.76L434.5 663.11L435 659.56L435.5 658.28L436 657L436.5 658.28L437 659.56L437.5 661.39L438 661.39L438.5 659.02L439 659.02L439.5 659.02L440 659.02L440.5 661.65L441 661.65L441.5 661.65L442 660.31L442.5 660.31L443 660.31L443.5 660.31L444 660.31L444.5 659.62L445 659.62L445.5 659.62L446 659.62L446.5 659.62L447 659.14L447.5 659.14L448 659.14L448.5 659.14L449 663.11L449.5 663.11L450 663.11L450.5 663.11L451 663.11L451.5 663.11L452 663.11L452.5 663.11L453 661.67L453.5 661.67L454 661.67L454.5 661.67L455 661.67L455.5 661.95L456 661.95L456.5 661.95L457 659.56L457.5 658.28L458 657L458.5 658.28L459 659.56L459.5 660.08L460 660.08L460.5 660.08L461 658.97L461.5 658.97L462 660.45L462.5 660.45L463 660.45L463.5 660.45L464 660.45L464.5 660.45L465 659.22L465.5 659.22L466 659.32L466.5 659.32L467 659.32L467.5 659.32L468 659.18L468.5 659.18L469 659.18L469.5 659.18L470 659.18L470.5 659.18L471 660.93L471.5 660.93L472 660.93L472.5 659.69L473 659.69L473.5 659.69L474 659.69L474.5 659.69L475 659.69L475.5 659.69L476 659.9L476.5 659.9L477 659.9L477.5 659.9L478 659.9L478.5 660.27L479 660.27L479.5 660.06L480 660.06L480.5 660.06L481 659.88L481.5 659.88L482 659.88L482.5 659.88L483 659.29L483.5 659.29L484 659.29L484.5 659.29L485 659.29L485.5 659.29L486 660.05L486.5 660.05L487 659.87L487.5 659.87L488 659.75L488.5 658.54L489 657.32L489.5 658.54L490 659.75L490.5 663.11L491 663.11L491.5 663.11L492 659.77L492.5 659.77L493 659.77L493.5 659.77L494 659.77L494.5 659.77L495 659.77L495.5 661.98L495.5 664Z" fill="#111" stroke="none" stroke-width="1"/>
</svg>
<div id="frame"></div>
</body></html>
